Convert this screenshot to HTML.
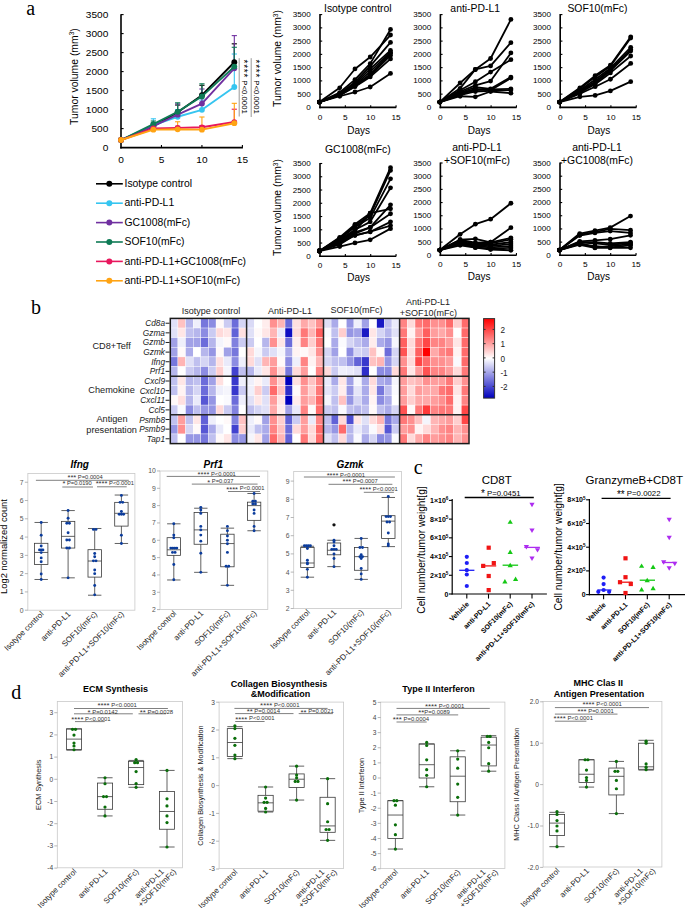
<!DOCTYPE html>
<html><head><meta charset="utf-8"><title>Figure</title>
<style>
html,body{margin:0;padding:0;background:#fff;width:685px;height:908px;overflow:hidden;}
svg{display:block;font-family:"Liberation Sans", sans-serif;}
</style></head><body>
<svg width="685" height="908" viewBox="0 0 685 908">
<rect x="0" y="0" width="685" height="908" fill="#fff"/>
<text x="26.2" y="15.4" font-size="20" font-family='"Liberation Serif", serif'>a</text>
<text x="31" y="313.7" font-size="20" font-family='"Liberation Serif", serif'>b</text>
<text x="413.8" y="473.6" font-size="20" font-family='"Liberation Serif", serif'>c</text>
<text x="11.3" y="698.9" font-size="20" font-family='"Liberation Serif", serif'>d</text>
<text transform="translate(77.8,76.6) rotate(-90)" font-size="10.4" text-anchor="middle">Tumor volume (mm<tspan font-size="6.5" dy="-3.5">3</tspan><tspan dy="3.5">)</tspan></text>
<text transform="translate(108.3,150.58) scale(1.11,1)" font-size="9.1" text-anchor="end">0</text>
<text transform="translate(108.3,131.58) scale(1.11,1)" font-size="9.1" text-anchor="end">500</text>
<line x1="121" y1="128.6" x2="123.6" y2="128.6" stroke="#000" stroke-width="1.1"/>
<text transform="translate(108.3,112.58) scale(1.11,1)" font-size="9.1" text-anchor="end">1000</text>
<line x1="121" y1="109.6" x2="123.6" y2="109.6" stroke="#000" stroke-width="1.1"/>
<text transform="translate(108.3,93.58) scale(1.11,1)" font-size="9.1" text-anchor="end">1500</text>
<line x1="121" y1="90.6" x2="123.6" y2="90.6" stroke="#000" stroke-width="1.1"/>
<text transform="translate(108.3,74.58) scale(1.11,1)" font-size="9.1" text-anchor="end">2000</text>
<line x1="121" y1="71.6" x2="123.6" y2="71.6" stroke="#000" stroke-width="1.1"/>
<text transform="translate(108.3,55.58) scale(1.11,1)" font-size="9.1" text-anchor="end">2500</text>
<line x1="121" y1="52.6" x2="123.6" y2="52.6" stroke="#000" stroke-width="1.1"/>
<text transform="translate(108.3,36.58) scale(1.11,1)" font-size="9.1" text-anchor="end">3000</text>
<line x1="121" y1="33.6" x2="123.6" y2="33.6" stroke="#000" stroke-width="1.1"/>
<text transform="translate(108.3,17.58) scale(1.11,1)" font-size="9.1" text-anchor="end">3500</text>
<line x1="121" y1="14.6" x2="123.6" y2="14.6" stroke="#000" stroke-width="1.1"/>
<text transform="translate(121,163.48) scale(1.11,1)" font-size="9.1" text-anchor="middle">0</text>
<text transform="translate(161.47,163.48) scale(1.11,1)" font-size="9.1" text-anchor="middle">5</text>
<line x1="161.47" y1="147.6" x2="161.47" y2="145" stroke="#000" stroke-width="1.1"/>
<text transform="translate(201.93,163.48) scale(1.11,1)" font-size="9.1" text-anchor="middle">10</text>
<line x1="201.93" y1="147.6" x2="201.93" y2="145" stroke="#000" stroke-width="1.1"/>
<text transform="translate(242.4,163.48) scale(1.11,1)" font-size="9.1" text-anchor="middle">15</text>
<line x1="242.4" y1="147.6" x2="242.4" y2="145" stroke="#000" stroke-width="1.1"/>
<line x1="121" y1="14.2" x2="121" y2="148.4" stroke="#000" stroke-width="1.6"/>
<line x1="120.2" y1="147.6" x2="242.9" y2="147.6" stroke="#000" stroke-width="1.6"/>
<line x1="153.37" y1="126.32" x2="153.37" y2="124.04" stroke="#000000" stroke-width="1.1"/>
<line x1="150.77" y1="124.04" x2="155.97" y2="124.04" stroke="#000000" stroke-width="1.1"/>
<line x1="177.65" y1="112.26" x2="177.65" y2="105.04" stroke="#000000" stroke-width="1.1"/>
<line x1="175.05" y1="105.04" x2="180.25" y2="105.04" stroke="#000000" stroke-width="1.1"/>
<line x1="201.93" y1="95.16" x2="201.93" y2="85.28" stroke="#000000" stroke-width="1.1"/>
<line x1="199.33" y1="85.28" x2="204.53" y2="85.28" stroke="#000000" stroke-width="1.1"/>
<line x1="234.31" y1="62.21" x2="234.31" y2="43.82" stroke="#000000" stroke-width="1.1"/>
<line x1="231.71" y1="43.82" x2="236.91" y2="43.82" stroke="#000000" stroke-width="1.1"/>
<line x1="153.37" y1="125.18" x2="153.37" y2="118.8" stroke="#36c5f0" stroke-width="1.1"/>
<line x1="150.77" y1="118.8" x2="155.97" y2="118.8" stroke="#36c5f0" stroke-width="1.1"/>
<line x1="177.65" y1="116.78" x2="177.65" y2="109.6" stroke="#36c5f0" stroke-width="1.1"/>
<line x1="175.05" y1="109.6" x2="180.25" y2="109.6" stroke="#36c5f0" stroke-width="1.1"/>
<line x1="201.93" y1="109.79" x2="201.93" y2="100.1" stroke="#36c5f0" stroke-width="1.1"/>
<line x1="199.33" y1="100.1" x2="204.53" y2="100.1" stroke="#36c5f0" stroke-width="1.1"/>
<line x1="234.31" y1="86.99" x2="234.31" y2="54.01" stroke="#36c5f0" stroke-width="1.1"/>
<line x1="231.71" y1="54.01" x2="236.91" y2="54.01" stroke="#36c5f0" stroke-width="1.1"/>
<line x1="153.37" y1="126.02" x2="153.37" y2="122.9" stroke="#7030a0" stroke-width="1.1"/>
<line x1="150.77" y1="122.9" x2="155.97" y2="122.9" stroke="#7030a0" stroke-width="1.1"/>
<line x1="177.65" y1="114.69" x2="177.65" y2="103.9" stroke="#7030a0" stroke-width="1.1"/>
<line x1="175.05" y1="103.9" x2="180.25" y2="103.9" stroke="#7030a0" stroke-width="1.1"/>
<line x1="201.93" y1="103.6" x2="201.93" y2="89" stroke="#7030a0" stroke-width="1.1"/>
<line x1="199.33" y1="89" x2="204.53" y2="89" stroke="#7030a0" stroke-width="1.1"/>
<line x1="234.31" y1="68.29" x2="234.31" y2="35.61" stroke="#7030a0" stroke-width="1.1"/>
<line x1="231.71" y1="35.61" x2="236.91" y2="35.61" stroke="#7030a0" stroke-width="1.1"/>
<line x1="153.37" y1="124.04" x2="153.37" y2="121" stroke="#0f7b56" stroke-width="1.1"/>
<line x1="150.77" y1="121" x2="155.97" y2="121" stroke="#0f7b56" stroke-width="1.1"/>
<line x1="177.65" y1="111.8" x2="177.65" y2="102.8" stroke="#0f7b56" stroke-width="1.1"/>
<line x1="175.05" y1="102.8" x2="180.25" y2="102.8" stroke="#0f7b56" stroke-width="1.1"/>
<line x1="201.93" y1="96.41" x2="201.93" y2="83.8" stroke="#0f7b56" stroke-width="1.1"/>
<line x1="199.33" y1="83.8" x2="204.53" y2="83.8" stroke="#0f7b56" stroke-width="1.1"/>
<line x1="234.31" y1="66.58" x2="234.31" y2="47.28" stroke="#0f7b56" stroke-width="1.1"/>
<line x1="231.71" y1="47.28" x2="236.91" y2="47.28" stroke="#0f7b56" stroke-width="1.1"/>
<line x1="153.37" y1="128.49" x2="153.37" y2="124.8" stroke="#e8175d" stroke-width="1.1"/>
<line x1="150.77" y1="124.8" x2="155.97" y2="124.8" stroke="#e8175d" stroke-width="1.1"/>
<line x1="177.65" y1="127.88" x2="177.65" y2="126.32" stroke="#e8175d" stroke-width="1.1"/>
<line x1="175.05" y1="126.32" x2="180.25" y2="126.32" stroke="#e8175d" stroke-width="1.1"/>
<line x1="201.93" y1="127.31" x2="201.93" y2="125.56" stroke="#e8175d" stroke-width="1.1"/>
<line x1="199.33" y1="125.56" x2="204.53" y2="125.56" stroke="#e8175d" stroke-width="1.1"/>
<line x1="234.31" y1="122.03" x2="234.31" y2="109.22" stroke="#e8175d" stroke-width="1.1"/>
<line x1="231.71" y1="109.22" x2="236.91" y2="109.22" stroke="#e8175d" stroke-width="1.1"/>
<line x1="153.37" y1="129.63" x2="153.37" y2="126.32" stroke="#ffa313" stroke-width="1.1"/>
<line x1="150.77" y1="126.32" x2="155.97" y2="126.32" stroke="#ffa313" stroke-width="1.1"/>
<line x1="177.65" y1="129.32" x2="177.65" y2="121.76" stroke="#ffa313" stroke-width="1.1"/>
<line x1="175.05" y1="121.76" x2="180.25" y2="121.76" stroke="#ffa313" stroke-width="1.1"/>
<line x1="201.93" y1="129.63" x2="201.93" y2="117.01" stroke="#ffa313" stroke-width="1.1"/>
<line x1="199.33" y1="117.01" x2="204.53" y2="117.01" stroke="#ffa313" stroke-width="1.1"/>
<line x1="234.31" y1="123.2" x2="234.31" y2="103.33" stroke="#ffa313" stroke-width="1.1"/>
<line x1="231.71" y1="103.33" x2="236.91" y2="103.33" stroke="#ffa313" stroke-width="1.1"/>
<polyline points="121,140 153.37,126.32 177.65,112.26 201.93,95.16 234.31,62.21" fill="none" stroke="#000000" stroke-width="1.9" stroke-linejoin="round"/>
<circle cx="121" cy="140" r="2.9" fill="#000000"/>
<circle cx="153.37" cy="126.32" r="2.9" fill="#000000"/>
<circle cx="177.65" cy="112.26" r="2.9" fill="#000000"/>
<circle cx="201.93" cy="95.16" r="2.9" fill="#000000"/>
<circle cx="234.31" cy="62.21" r="2.9" fill="#000000"/>
<polyline points="121,140 153.37,125.18 177.65,116.78 201.93,109.79 234.31,86.99" fill="none" stroke="#36c5f0" stroke-width="1.9" stroke-linejoin="round"/>
<circle cx="121" cy="140" r="2.9" fill="#36c5f0"/>
<circle cx="153.37" cy="125.18" r="2.9" fill="#36c5f0"/>
<circle cx="177.65" cy="116.78" r="2.9" fill="#36c5f0"/>
<circle cx="201.93" cy="109.79" r="2.9" fill="#36c5f0"/>
<circle cx="234.31" cy="86.99" r="2.9" fill="#36c5f0"/>
<polyline points="121,140 153.37,126.02 177.65,114.69 201.93,103.6 234.31,68.29" fill="none" stroke="#7030a0" stroke-width="1.9" stroke-linejoin="round"/>
<circle cx="121" cy="140" r="2.9" fill="#7030a0"/>
<circle cx="153.37" cy="126.02" r="2.9" fill="#7030a0"/>
<circle cx="177.65" cy="114.69" r="2.9" fill="#7030a0"/>
<circle cx="201.93" cy="103.6" r="2.9" fill="#7030a0"/>
<circle cx="234.31" cy="68.29" r="2.9" fill="#7030a0"/>
<polyline points="121,140 153.37,124.04 177.65,111.8 201.93,96.41 234.31,66.58" fill="none" stroke="#0f7b56" stroke-width="1.9" stroke-linejoin="round"/>
<circle cx="121" cy="140" r="2.9" fill="#0f7b56"/>
<circle cx="153.37" cy="124.04" r="2.9" fill="#0f7b56"/>
<circle cx="177.65" cy="111.8" r="2.9" fill="#0f7b56"/>
<circle cx="201.93" cy="96.41" r="2.9" fill="#0f7b56"/>
<circle cx="234.31" cy="66.58" r="2.9" fill="#0f7b56"/>
<polyline points="121,140 153.37,128.49 177.65,127.88 201.93,127.31 234.31,122.03" fill="none" stroke="#e8175d" stroke-width="1.9" stroke-linejoin="round"/>
<circle cx="121" cy="140" r="2.9" fill="#e8175d"/>
<circle cx="153.37" cy="128.49" r="2.9" fill="#e8175d"/>
<circle cx="177.65" cy="127.88" r="2.9" fill="#e8175d"/>
<circle cx="201.93" cy="127.31" r="2.9" fill="#e8175d"/>
<circle cx="234.31" cy="122.03" r="2.9" fill="#e8175d"/>
<polyline points="121,140 153.37,129.63 177.65,129.32 201.93,129.63 234.31,123.2" fill="none" stroke="#ffa313" stroke-width="1.9" stroke-linejoin="round"/>
<circle cx="121" cy="140" r="2.9" fill="#ffa313"/>
<circle cx="153.37" cy="129.63" r="2.9" fill="#ffa313"/>
<circle cx="177.65" cy="129.32" r="2.9" fill="#ffa313"/>
<circle cx="201.93" cy="129.63" r="2.9" fill="#ffa313"/>
<circle cx="234.31" cy="123.2" r="2.9" fill="#ffa313"/>
<line x1="239.2" y1="58.2" x2="239.2" y2="116.5" stroke="#8c8c8c" stroke-width="0.9"/>
<line x1="251.2" y1="58.2" x2="251.2" y2="117" stroke="#8c8c8c" stroke-width="0.9"/>
<text transform="translate(240.4,59.6) rotate(90)" font-size="10" letter-spacing="0.72">****</text>
<text transform="translate(252.2,59.6) rotate(90)" font-size="10" letter-spacing="0.72">****</text>
<text transform="translate(242.3,80.2) rotate(90)" font-size="7.8">P&lt;0.0001</text>
<text transform="translate(253.5,80.2) rotate(90)" font-size="7.8">P&lt;0.0001</text>
<line x1="96" y1="183.8" x2="122.8" y2="183.8" stroke="#000000" stroke-width="1.6"/>
<circle cx="109.3" cy="183.8" r="3" fill="#000000"/>
<text x="124.5" y="186.94" font-size="10.4">Isotype control</text>
<line x1="96" y1="203.2" x2="122.8" y2="203.2" stroke="#36c5f0" stroke-width="1.6"/>
<circle cx="109.3" cy="203.2" r="3" fill="#36c5f0"/>
<text x="124.5" y="206.34" font-size="10.4">anti-PD-L1</text>
<line x1="96" y1="222.6" x2="122.8" y2="222.6" stroke="#7030a0" stroke-width="1.6"/>
<circle cx="109.3" cy="222.6" r="3" fill="#7030a0"/>
<text x="124.5" y="225.74" font-size="10.4">GC1008(mFc)</text>
<line x1="96" y1="242" x2="122.8" y2="242" stroke="#0f7b56" stroke-width="1.6"/>
<circle cx="109.3" cy="242" r="3" fill="#0f7b56"/>
<text x="124.5" y="245.14" font-size="10.4">SOF10(mFc)</text>
<line x1="96" y1="261.4" x2="122.8" y2="261.4" stroke="#e8175d" stroke-width="1.6"/>
<circle cx="109.3" cy="261.4" r="3" fill="#e8175d"/>
<text x="124.5" y="264.54" font-size="10.4">anti-PD-L1+GC1008(mFc)</text>
<line x1="96" y1="280.8" x2="122.8" y2="280.8" stroke="#ffa313" stroke-width="1.6"/>
<circle cx="109.3" cy="280.8" r="3" fill="#ffa313"/>
<text x="124.5" y="283.94" font-size="10.4">anti-PD-L1+SOF10(mFc)</text>
<text x="357.8" y="12.34" font-size="10.4" text-anchor="middle">Isotype control</text>
<text transform="translate(310.8,109.92) scale(1.16,1)" font-size="7" text-anchor="end">0</text>
<text transform="translate(310.8,96.66) scale(1.16,1)" font-size="7" text-anchor="end">500</text>
<line x1="320" y1="94.14" x2="322.2" y2="94.14" stroke="#000" stroke-width="1.1"/>
<text transform="translate(310.8,83.41) scale(1.16,1)" font-size="7" text-anchor="end">1000</text>
<line x1="320" y1="80.89" x2="322.2" y2="80.89" stroke="#000" stroke-width="1.1"/>
<text transform="translate(310.8,70.15) scale(1.16,1)" font-size="7" text-anchor="end">1500</text>
<line x1="320" y1="67.63" x2="322.2" y2="67.63" stroke="#000" stroke-width="1.1"/>
<text transform="translate(310.8,56.89) scale(1.16,1)" font-size="7" text-anchor="end">2000</text>
<line x1="320" y1="54.37" x2="322.2" y2="54.37" stroke="#000" stroke-width="1.1"/>
<text transform="translate(310.8,43.63) scale(1.16,1)" font-size="7" text-anchor="end">2500</text>
<line x1="320" y1="41.11" x2="322.2" y2="41.11" stroke="#000" stroke-width="1.1"/>
<text transform="translate(310.8,30.38) scale(1.16,1)" font-size="7" text-anchor="end">3000</text>
<line x1="320" y1="27.86" x2="322.2" y2="27.86" stroke="#000" stroke-width="1.1"/>
<text transform="translate(310.8,17.12) scale(1.16,1)" font-size="7" text-anchor="end">3500</text>
<line x1="320" y1="14.6" x2="322.2" y2="14.6" stroke="#000" stroke-width="1.1"/>
<text transform="translate(320,119.66) scale(1.12,1)" font-size="7.4" text-anchor="middle">0</text>
<text transform="translate(345.35,119.66) scale(1.12,1)" font-size="7.4" text-anchor="middle">5</text>
<line x1="345.35" y1="107.4" x2="345.35" y2="105.2" stroke="#000" stroke-width="1.1"/>
<text transform="translate(370.7,119.66) scale(1.12,1)" font-size="7.4" text-anchor="middle">10</text>
<line x1="370.7" y1="107.4" x2="370.7" y2="105.2" stroke="#000" stroke-width="1.1"/>
<text transform="translate(396.05,119.66) scale(1.12,1)" font-size="7.4" text-anchor="middle">15</text>
<line x1="396.05" y1="107.4" x2="396.05" y2="105.2" stroke="#000" stroke-width="1.1"/>
<line x1="320" y1="14.1" x2="320" y2="108.2" stroke="#000" stroke-width="1.6"/>
<line x1="319.2" y1="107.4" x2="396.2" y2="107.4" stroke="#000" stroke-width="1.6"/>
<text x="358.7" y="133.8" font-size="10" text-anchor="middle">Days</text>
<polyline points="319.4,102.1 339.72,87.78 354.96,68.95 370.2,57.02 390.52,35.02" fill="none" stroke="#000" stroke-width="1.8" stroke-linejoin="round"/>
<circle cx="319.4" cy="102.1" r="2.4" fill="#000"/>
<circle cx="339.72" cy="87.78" r="2.4" fill="#000"/>
<circle cx="354.96" cy="68.95" r="2.4" fill="#000"/>
<circle cx="370.2" cy="57.02" r="2.4" fill="#000"/>
<circle cx="390.52" cy="35.02" r="2.4" fill="#000"/>
<polyline points="319.4,102.1 339.72,92.55 354.96,79.56 370.2,63.65 390.52,29.45" fill="none" stroke="#000" stroke-width="1.8" stroke-linejoin="round"/>
<circle cx="319.4" cy="102.1" r="2.4" fill="#000"/>
<circle cx="339.72" cy="92.55" r="2.4" fill="#000"/>
<circle cx="354.96" cy="79.56" r="2.4" fill="#000"/>
<circle cx="370.2" cy="63.65" r="2.4" fill="#000"/>
<circle cx="390.52" cy="29.45" r="2.4" fill="#000"/>
<polyline points="319.4,102.1 339.72,93.61 354.96,82.21 370.2,66.04 390.52,42.44" fill="none" stroke="#000" stroke-width="1.8" stroke-linejoin="round"/>
<circle cx="319.4" cy="102.1" r="2.4" fill="#000"/>
<circle cx="339.72" cy="93.61" r="2.4" fill="#000"/>
<circle cx="354.96" cy="82.21" r="2.4" fill="#000"/>
<circle cx="370.2" cy="66.04" r="2.4" fill="#000"/>
<circle cx="390.52" cy="42.44" r="2.4" fill="#000"/>
<polyline points="319.4,102.1 339.72,94.14 354.96,83.54 370.2,68.95 390.52,50.39" fill="none" stroke="#000" stroke-width="1.8" stroke-linejoin="round"/>
<circle cx="319.4" cy="102.1" r="2.4" fill="#000"/>
<circle cx="339.72" cy="94.14" r="2.4" fill="#000"/>
<circle cx="354.96" cy="83.54" r="2.4" fill="#000"/>
<circle cx="370.2" cy="68.95" r="2.4" fill="#000"/>
<circle cx="390.52" cy="50.39" r="2.4" fill="#000"/>
<polyline points="319.4,102.1 339.72,94.67 354.96,84.86 370.2,71.61 390.52,52.25" fill="none" stroke="#000" stroke-width="1.8" stroke-linejoin="round"/>
<circle cx="319.4" cy="102.1" r="2.4" fill="#000"/>
<circle cx="339.72" cy="94.67" r="2.4" fill="#000"/>
<circle cx="354.96" cy="84.86" r="2.4" fill="#000"/>
<circle cx="370.2" cy="71.61" r="2.4" fill="#000"/>
<circle cx="390.52" cy="52.25" r="2.4" fill="#000"/>
<polyline points="319.4,102.1 339.72,94.94 354.96,85.66 370.2,74.26 390.52,53.58" fill="none" stroke="#000" stroke-width="1.8" stroke-linejoin="round"/>
<circle cx="319.4" cy="102.1" r="2.4" fill="#000"/>
<circle cx="339.72" cy="94.94" r="2.4" fill="#000"/>
<circle cx="354.96" cy="85.66" r="2.4" fill="#000"/>
<circle cx="370.2" cy="74.26" r="2.4" fill="#000"/>
<circle cx="390.52" cy="53.58" r="2.4" fill="#000"/>
<polyline points="319.4,102.1 339.72,95.2 354.96,86.19 370.2,75.58 390.52,55.43" fill="none" stroke="#000" stroke-width="1.8" stroke-linejoin="round"/>
<circle cx="319.4" cy="102.1" r="2.4" fill="#000"/>
<circle cx="339.72" cy="95.2" r="2.4" fill="#000"/>
<circle cx="354.96" cy="86.19" r="2.4" fill="#000"/>
<circle cx="370.2" cy="75.58" r="2.4" fill="#000"/>
<circle cx="390.52" cy="55.43" r="2.4" fill="#000"/>
<polyline points="319.4,102.1 339.72,95.47 354.96,86.72 370.2,76.91 390.52,58.88" fill="none" stroke="#000" stroke-width="1.8" stroke-linejoin="round"/>
<circle cx="319.4" cy="102.1" r="2.4" fill="#000"/>
<circle cx="339.72" cy="95.47" r="2.4" fill="#000"/>
<circle cx="354.96" cy="86.72" r="2.4" fill="#000"/>
<circle cx="370.2" cy="76.91" r="2.4" fill="#000"/>
<circle cx="390.52" cy="58.88" r="2.4" fill="#000"/>
<polyline points="319.4,102.1 339.72,96.26 354.96,92.02 370.2,86.98 390.52,73.46" fill="none" stroke="#000" stroke-width="1.8" stroke-linejoin="round"/>
<circle cx="319.4" cy="102.1" r="2.4" fill="#000"/>
<circle cx="339.72" cy="96.26" r="2.4" fill="#000"/>
<circle cx="354.96" cy="92.02" r="2.4" fill="#000"/>
<circle cx="370.2" cy="86.98" r="2.4" fill="#000"/>
<circle cx="390.52" cy="73.46" r="2.4" fill="#000"/>
<text x="475.2" y="12.34" font-size="10.4" text-anchor="middle">anti-PD-L1</text>
<text transform="translate(431.2,109.92) scale(1.16,1)" font-size="7" text-anchor="end">0</text>
<text transform="translate(431.2,96.66) scale(1.16,1)" font-size="7" text-anchor="end">500</text>
<line x1="440.4" y1="94.14" x2="442.6" y2="94.14" stroke="#000" stroke-width="1.1"/>
<text transform="translate(431.2,83.41) scale(1.16,1)" font-size="7" text-anchor="end">1000</text>
<line x1="440.4" y1="80.89" x2="442.6" y2="80.89" stroke="#000" stroke-width="1.1"/>
<text transform="translate(431.2,70.15) scale(1.16,1)" font-size="7" text-anchor="end">1500</text>
<line x1="440.4" y1="67.63" x2="442.6" y2="67.63" stroke="#000" stroke-width="1.1"/>
<text transform="translate(431.2,56.89) scale(1.16,1)" font-size="7" text-anchor="end">2000</text>
<line x1="440.4" y1="54.37" x2="442.6" y2="54.37" stroke="#000" stroke-width="1.1"/>
<text transform="translate(431.2,43.63) scale(1.16,1)" font-size="7" text-anchor="end">2500</text>
<line x1="440.4" y1="41.11" x2="442.6" y2="41.11" stroke="#000" stroke-width="1.1"/>
<text transform="translate(431.2,30.38) scale(1.16,1)" font-size="7" text-anchor="end">3000</text>
<line x1="440.4" y1="27.86" x2="442.6" y2="27.86" stroke="#000" stroke-width="1.1"/>
<text transform="translate(431.2,17.12) scale(1.16,1)" font-size="7" text-anchor="end">3500</text>
<line x1="440.4" y1="14.6" x2="442.6" y2="14.6" stroke="#000" stroke-width="1.1"/>
<text transform="translate(440.4,119.66) scale(1.12,1)" font-size="7.4" text-anchor="middle">0</text>
<text transform="translate(465.75,119.66) scale(1.12,1)" font-size="7.4" text-anchor="middle">5</text>
<line x1="465.75" y1="107.4" x2="465.75" y2="105.2" stroke="#000" stroke-width="1.1"/>
<text transform="translate(491.1,119.66) scale(1.12,1)" font-size="7.4" text-anchor="middle">10</text>
<line x1="491.1" y1="107.4" x2="491.1" y2="105.2" stroke="#000" stroke-width="1.1"/>
<text transform="translate(516.45,119.66) scale(1.12,1)" font-size="7.4" text-anchor="middle">15</text>
<line x1="516.45" y1="107.4" x2="516.45" y2="105.2" stroke="#000" stroke-width="1.1"/>
<line x1="440.4" y1="14.1" x2="440.4" y2="108.2" stroke="#000" stroke-width="1.6"/>
<line x1="439.6" y1="107.4" x2="516.6" y2="107.4" stroke="#000" stroke-width="1.6"/>
<text x="479.1" y="133.8" font-size="10" text-anchor="middle">Days</text>
<polyline points="439.8,102.1 460.12,83.01 475.36,69.48 490.6,58.48 510.92,19.45" fill="none" stroke="#000" stroke-width="1.8" stroke-linejoin="round"/>
<circle cx="439.8" cy="102.1" r="2.4" fill="#000"/>
<circle cx="460.12" cy="83.01" r="2.4" fill="#000"/>
<circle cx="475.36" cy="69.48" r="2.4" fill="#000"/>
<circle cx="490.6" cy="58.48" r="2.4" fill="#000"/>
<circle cx="510.92" cy="19.45" r="2.4" fill="#000"/>
<polyline points="439.8,102.1 460.12,88.31 475.36,69.48 490.6,65.88 510.92,42.63" fill="none" stroke="#000" stroke-width="1.8" stroke-linejoin="round"/>
<circle cx="439.8" cy="102.1" r="2.4" fill="#000"/>
<circle cx="460.12" cy="88.31" r="2.4" fill="#000"/>
<circle cx="475.36" cy="69.48" r="2.4" fill="#000"/>
<circle cx="490.6" cy="65.88" r="2.4" fill="#000"/>
<circle cx="510.92" cy="42.63" r="2.4" fill="#000"/>
<polyline points="439.8,102.1 460.12,90.17 475.36,81.68 490.6,72.06 510.92,59.67" fill="none" stroke="#000" stroke-width="1.8" stroke-linejoin="round"/>
<circle cx="439.8" cy="102.1" r="2.4" fill="#000"/>
<circle cx="460.12" cy="90.17" r="2.4" fill="#000"/>
<circle cx="475.36" cy="81.68" r="2.4" fill="#000"/>
<circle cx="490.6" cy="72.06" r="2.4" fill="#000"/>
<circle cx="510.92" cy="59.67" r="2.4" fill="#000"/>
<polyline points="439.8,102.1 460.12,91.49 475.36,85.39 490.6,81.04 510.92,52.89" fill="none" stroke="#000" stroke-width="1.8" stroke-linejoin="round"/>
<circle cx="439.8" cy="102.1" r="2.4" fill="#000"/>
<circle cx="460.12" cy="91.49" r="2.4" fill="#000"/>
<circle cx="475.36" cy="85.39" r="2.4" fill="#000"/>
<circle cx="490.6" cy="81.04" r="2.4" fill="#000"/>
<circle cx="510.92" cy="52.89" r="2.4" fill="#000"/>
<polyline points="439.8,102.1 460.12,92.55 475.36,87.25 490.6,88.84 510.92,77.04" fill="none" stroke="#000" stroke-width="1.8" stroke-linejoin="round"/>
<circle cx="439.8" cy="102.1" r="2.4" fill="#000"/>
<circle cx="460.12" cy="92.55" r="2.4" fill="#000"/>
<circle cx="475.36" cy="87.25" r="2.4" fill="#000"/>
<circle cx="490.6" cy="88.84" r="2.4" fill="#000"/>
<circle cx="510.92" cy="77.04" r="2.4" fill="#000"/>
<polyline points="439.8,102.1 460.12,93.61 475.36,88.84 490.6,90.17 510.92,78.05" fill="none" stroke="#000" stroke-width="1.8" stroke-linejoin="round"/>
<circle cx="439.8" cy="102.1" r="2.4" fill="#000"/>
<circle cx="460.12" cy="93.61" r="2.4" fill="#000"/>
<circle cx="475.36" cy="88.84" r="2.4" fill="#000"/>
<circle cx="490.6" cy="90.17" r="2.4" fill="#000"/>
<circle cx="510.92" cy="78.05" r="2.4" fill="#000"/>
<polyline points="439.8,102.1 460.12,94.14 475.36,90.17 490.6,89.37 510.92,88.84" fill="none" stroke="#000" stroke-width="1.8" stroke-linejoin="round"/>
<circle cx="439.8" cy="102.1" r="2.4" fill="#000"/>
<circle cx="460.12" cy="94.14" r="2.4" fill="#000"/>
<circle cx="475.36" cy="90.17" r="2.4" fill="#000"/>
<circle cx="490.6" cy="89.37" r="2.4" fill="#000"/>
<circle cx="510.92" cy="88.84" r="2.4" fill="#000"/>
<polyline points="439.8,102.1 460.12,95.2 475.36,91.49 490.6,90.96 510.92,90.03" fill="none" stroke="#000" stroke-width="1.8" stroke-linejoin="round"/>
<circle cx="439.8" cy="102.1" r="2.4" fill="#000"/>
<circle cx="460.12" cy="95.2" r="2.4" fill="#000"/>
<circle cx="475.36" cy="91.49" r="2.4" fill="#000"/>
<circle cx="490.6" cy="90.96" r="2.4" fill="#000"/>
<circle cx="510.92" cy="90.03" r="2.4" fill="#000"/>
<polyline points="439.8,102.1 460.12,96.26 475.36,96.79 490.6,91.49 510.92,93.14" fill="none" stroke="#000" stroke-width="1.8" stroke-linejoin="round"/>
<circle cx="439.8" cy="102.1" r="2.4" fill="#000"/>
<circle cx="460.12" cy="96.26" r="2.4" fill="#000"/>
<circle cx="475.36" cy="96.79" r="2.4" fill="#000"/>
<circle cx="490.6" cy="91.49" r="2.4" fill="#000"/>
<circle cx="510.92" cy="93.14" r="2.4" fill="#000"/>
<text x="597.4" y="12.34" font-size="10.4" text-anchor="middle">SOF10(mFc)</text>
<text transform="translate(551,109.92) scale(1.16,1)" font-size="7" text-anchor="end">0</text>
<text transform="translate(551,96.66) scale(1.16,1)" font-size="7" text-anchor="end">500</text>
<line x1="560.2" y1="94.14" x2="562.4" y2="94.14" stroke="#000" stroke-width="1.1"/>
<text transform="translate(551,83.41) scale(1.16,1)" font-size="7" text-anchor="end">1000</text>
<line x1="560.2" y1="80.89" x2="562.4" y2="80.89" stroke="#000" stroke-width="1.1"/>
<text transform="translate(551,70.15) scale(1.16,1)" font-size="7" text-anchor="end">1500</text>
<line x1="560.2" y1="67.63" x2="562.4" y2="67.63" stroke="#000" stroke-width="1.1"/>
<text transform="translate(551,56.89) scale(1.16,1)" font-size="7" text-anchor="end">2000</text>
<line x1="560.2" y1="54.37" x2="562.4" y2="54.37" stroke="#000" stroke-width="1.1"/>
<text transform="translate(551,43.63) scale(1.16,1)" font-size="7" text-anchor="end">2500</text>
<line x1="560.2" y1="41.11" x2="562.4" y2="41.11" stroke="#000" stroke-width="1.1"/>
<text transform="translate(551,30.38) scale(1.16,1)" font-size="7" text-anchor="end">3000</text>
<line x1="560.2" y1="27.86" x2="562.4" y2="27.86" stroke="#000" stroke-width="1.1"/>
<text transform="translate(551,17.12) scale(1.16,1)" font-size="7" text-anchor="end">3500</text>
<line x1="560.2" y1="14.6" x2="562.4" y2="14.6" stroke="#000" stroke-width="1.1"/>
<text transform="translate(560.2,119.66) scale(1.12,1)" font-size="7.4" text-anchor="middle">0</text>
<text transform="translate(585.55,119.66) scale(1.12,1)" font-size="7.4" text-anchor="middle">5</text>
<line x1="585.55" y1="107.4" x2="585.55" y2="105.2" stroke="#000" stroke-width="1.1"/>
<text transform="translate(610.9,119.66) scale(1.12,1)" font-size="7.4" text-anchor="middle">10</text>
<line x1="610.9" y1="107.4" x2="610.9" y2="105.2" stroke="#000" stroke-width="1.1"/>
<text transform="translate(636.25,119.66) scale(1.12,1)" font-size="7.4" text-anchor="middle">15</text>
<line x1="636.25" y1="107.4" x2="636.25" y2="105.2" stroke="#000" stroke-width="1.1"/>
<line x1="560.2" y1="14.1" x2="560.2" y2="108.2" stroke="#000" stroke-width="1.6"/>
<line x1="559.4" y1="107.4" x2="636.4" y2="107.4" stroke="#000" stroke-width="1.6"/>
<text x="598.9" y="133.8" font-size="10" text-anchor="middle">Days</text>
<polyline points="559.6,102.1 579.92,87.78 595.16,75.58 610.4,65.24 630.72,36.82" fill="none" stroke="#000" stroke-width="1.8" stroke-linejoin="round"/>
<circle cx="559.6" cy="102.1" r="2.4" fill="#000"/>
<circle cx="579.92" cy="87.78" r="2.4" fill="#000"/>
<circle cx="595.16" cy="75.58" r="2.4" fill="#000"/>
<circle cx="610.4" cy="65.24" r="2.4" fill="#000"/>
<circle cx="630.72" cy="36.82" r="2.4" fill="#000"/>
<polyline points="559.6,102.1 579.92,88.84 595.16,76.91 610.4,66.3 630.72,38.01" fill="none" stroke="#000" stroke-width="1.8" stroke-linejoin="round"/>
<circle cx="559.6" cy="102.1" r="2.4" fill="#000"/>
<circle cx="579.92" cy="88.84" r="2.4" fill="#000"/>
<circle cx="595.16" cy="76.91" r="2.4" fill="#000"/>
<circle cx="610.4" cy="66.3" r="2.4" fill="#000"/>
<circle cx="630.72" cy="38.01" r="2.4" fill="#000"/>
<polyline points="559.6,102.1 579.92,90.17 595.16,79.56 610.4,68.16 630.72,47.29" fill="none" stroke="#000" stroke-width="1.8" stroke-linejoin="round"/>
<circle cx="559.6" cy="102.1" r="2.4" fill="#000"/>
<circle cx="579.92" cy="90.17" r="2.4" fill="#000"/>
<circle cx="595.16" cy="79.56" r="2.4" fill="#000"/>
<circle cx="610.4" cy="68.16" r="2.4" fill="#000"/>
<circle cx="630.72" cy="47.29" r="2.4" fill="#000"/>
<polyline points="559.6,102.1 579.92,90.96 595.16,81.42 610.4,69.75 630.72,49.6" fill="none" stroke="#000" stroke-width="1.8" stroke-linejoin="round"/>
<circle cx="559.6" cy="102.1" r="2.4" fill="#000"/>
<circle cx="579.92" cy="90.96" r="2.4" fill="#000"/>
<circle cx="595.16" cy="81.42" r="2.4" fill="#000"/>
<circle cx="610.4" cy="69.75" r="2.4" fill="#000"/>
<circle cx="630.72" cy="49.6" r="2.4" fill="#000"/>
<polyline points="559.6,102.1 579.92,92.02 595.16,83.01 610.4,70.81 630.72,51.08" fill="none" stroke="#000" stroke-width="1.8" stroke-linejoin="round"/>
<circle cx="559.6" cy="102.1" r="2.4" fill="#000"/>
<circle cx="579.92" cy="92.02" r="2.4" fill="#000"/>
<circle cx="595.16" cy="83.01" r="2.4" fill="#000"/>
<circle cx="610.4" cy="70.81" r="2.4" fill="#000"/>
<circle cx="630.72" cy="51.08" r="2.4" fill="#000"/>
<polyline points="559.6,102.1 579.92,92.55 595.16,84.33 610.4,72.93 630.72,55.99" fill="none" stroke="#000" stroke-width="1.8" stroke-linejoin="round"/>
<circle cx="559.6" cy="102.1" r="2.4" fill="#000"/>
<circle cx="579.92" cy="92.55" r="2.4" fill="#000"/>
<circle cx="595.16" cy="84.33" r="2.4" fill="#000"/>
<circle cx="610.4" cy="72.93" r="2.4" fill="#000"/>
<circle cx="630.72" cy="55.99" r="2.4" fill="#000"/>
<polyline points="559.6,102.1 579.92,93.61 595.16,86.72 610.4,79.24 630.72,63.47" fill="none" stroke="#000" stroke-width="1.8" stroke-linejoin="round"/>
<circle cx="559.6" cy="102.1" r="2.4" fill="#000"/>
<circle cx="579.92" cy="93.61" r="2.4" fill="#000"/>
<circle cx="595.16" cy="86.72" r="2.4" fill="#000"/>
<circle cx="610.4" cy="79.24" r="2.4" fill="#000"/>
<circle cx="630.72" cy="63.47" r="2.4" fill="#000"/>
<polyline points="559.6,102.1 579.92,96.79 595.16,95.42 610.4,90.93 630.72,81.65" fill="none" stroke="#000" stroke-width="1.8" stroke-linejoin="round"/>
<circle cx="559.6" cy="102.1" r="2.4" fill="#000"/>
<circle cx="579.92" cy="96.79" r="2.4" fill="#000"/>
<circle cx="595.16" cy="95.42" r="2.4" fill="#000"/>
<circle cx="610.4" cy="90.93" r="2.4" fill="#000"/>
<circle cx="630.72" cy="81.65" r="2.4" fill="#000"/>
<text x="357.8" y="153.14" font-size="10.4" text-anchor="middle">GC1008(mFc)</text>
<text transform="translate(310.8,258.82) scale(1.16,1)" font-size="7" text-anchor="end">0</text>
<text transform="translate(310.8,245.56) scale(1.16,1)" font-size="7" text-anchor="end">500</text>
<line x1="320" y1="243.04" x2="322.2" y2="243.04" stroke="#000" stroke-width="1.1"/>
<text transform="translate(310.8,232.31) scale(1.16,1)" font-size="7" text-anchor="end">1000</text>
<line x1="320" y1="229.79" x2="322.2" y2="229.79" stroke="#000" stroke-width="1.1"/>
<text transform="translate(310.8,219.05) scale(1.16,1)" font-size="7" text-anchor="end">1500</text>
<line x1="320" y1="216.53" x2="322.2" y2="216.53" stroke="#000" stroke-width="1.1"/>
<text transform="translate(310.8,205.79) scale(1.16,1)" font-size="7" text-anchor="end">2000</text>
<line x1="320" y1="203.27" x2="322.2" y2="203.27" stroke="#000" stroke-width="1.1"/>
<text transform="translate(310.8,192.53) scale(1.16,1)" font-size="7" text-anchor="end">2500</text>
<line x1="320" y1="190.01" x2="322.2" y2="190.01" stroke="#000" stroke-width="1.1"/>
<text transform="translate(310.8,179.28) scale(1.16,1)" font-size="7" text-anchor="end">3000</text>
<line x1="320" y1="176.76" x2="322.2" y2="176.76" stroke="#000" stroke-width="1.1"/>
<text transform="translate(310.8,166.02) scale(1.16,1)" font-size="7" text-anchor="end">3500</text>
<line x1="320" y1="163.5" x2="322.2" y2="163.5" stroke="#000" stroke-width="1.1"/>
<text transform="translate(320,268.16) scale(1.12,1)" font-size="7.4" text-anchor="middle">0</text>
<text transform="translate(345.35,268.16) scale(1.12,1)" font-size="7.4" text-anchor="middle">5</text>
<line x1="345.35" y1="256.3" x2="345.35" y2="254.1" stroke="#000" stroke-width="1.1"/>
<text transform="translate(370.7,268.16) scale(1.12,1)" font-size="7.4" text-anchor="middle">10</text>
<line x1="370.7" y1="256.3" x2="370.7" y2="254.1" stroke="#000" stroke-width="1.1"/>
<text transform="translate(396.05,268.16) scale(1.12,1)" font-size="7.4" text-anchor="middle">15</text>
<line x1="396.05" y1="256.3" x2="396.05" y2="254.1" stroke="#000" stroke-width="1.1"/>
<line x1="320" y1="163" x2="320" y2="257.1" stroke="#000" stroke-width="1.6"/>
<line x1="319.2" y1="256.3" x2="396.2" y2="256.3" stroke="#000" stroke-width="1.6"/>
<text x="358.7" y="280.6" font-size="10" text-anchor="middle">Days</text>
<polyline points="319.4,251 339.72,237.34 354.96,224.35 370.2,213.19 390.52,167.74" fill="none" stroke="#000" stroke-width="1.8" stroke-linejoin="round"/>
<circle cx="319.4" cy="251" r="2.4" fill="#000"/>
<circle cx="339.72" cy="237.34" r="2.4" fill="#000"/>
<circle cx="354.96" cy="224.35" r="2.4" fill="#000"/>
<circle cx="370.2" cy="213.19" r="2.4" fill="#000"/>
<circle cx="390.52" cy="167.74" r="2.4" fill="#000"/>
<polyline points="319.4,251 339.72,238.27 354.96,225.81 370.2,215.2 390.52,170.45" fill="none" stroke="#000" stroke-width="1.8" stroke-linejoin="round"/>
<circle cx="319.4" cy="251" r="2.4" fill="#000"/>
<circle cx="339.72" cy="238.27" r="2.4" fill="#000"/>
<circle cx="354.96" cy="225.81" r="2.4" fill="#000"/>
<circle cx="370.2" cy="215.2" r="2.4" fill="#000"/>
<circle cx="390.52" cy="170.45" r="2.4" fill="#000"/>
<polyline points="319.4,251 339.72,239.07 354.96,227.13 370.2,217.85 390.52,178.83" fill="none" stroke="#000" stroke-width="1.8" stroke-linejoin="round"/>
<circle cx="319.4" cy="251" r="2.4" fill="#000"/>
<circle cx="339.72" cy="239.07" r="2.4" fill="#000"/>
<circle cx="354.96" cy="227.13" r="2.4" fill="#000"/>
<circle cx="370.2" cy="217.85" r="2.4" fill="#000"/>
<circle cx="390.52" cy="178.83" r="2.4" fill="#000"/>
<polyline points="319.4,251 339.72,239.86 354.96,229.79 370.2,221.83 390.52,187.81" fill="none" stroke="#000" stroke-width="1.8" stroke-linejoin="round"/>
<circle cx="319.4" cy="251" r="2.4" fill="#000"/>
<circle cx="339.72" cy="239.86" r="2.4" fill="#000"/>
<circle cx="354.96" cy="229.79" r="2.4" fill="#000"/>
<circle cx="370.2" cy="221.83" r="2.4" fill="#000"/>
<circle cx="390.52" cy="187.81" r="2.4" fill="#000"/>
<polyline points="319.4,251 339.72,240.39 354.96,231.11 370.2,213.19 390.52,208.84" fill="none" stroke="#000" stroke-width="1.8" stroke-linejoin="round"/>
<circle cx="319.4" cy="251" r="2.4" fill="#000"/>
<circle cx="339.72" cy="240.39" r="2.4" fill="#000"/>
<circle cx="354.96" cy="231.11" r="2.4" fill="#000"/>
<circle cx="370.2" cy="213.19" r="2.4" fill="#000"/>
<circle cx="390.52" cy="208.84" r="2.4" fill="#000"/>
<polyline points="319.4,251 339.72,241.45 354.96,232.44 370.2,227.45 390.52,204.86" fill="none" stroke="#000" stroke-width="1.8" stroke-linejoin="round"/>
<circle cx="319.4" cy="251" r="2.4" fill="#000"/>
<circle cx="339.72" cy="241.45" r="2.4" fill="#000"/>
<circle cx="354.96" cy="232.44" r="2.4" fill="#000"/>
<circle cx="370.2" cy="227.45" r="2.4" fill="#000"/>
<circle cx="390.52" cy="204.86" r="2.4" fill="#000"/>
<polyline points="319.4,251 339.72,242.51 354.96,233.76 370.2,227.45 390.52,213.77" fill="none" stroke="#000" stroke-width="1.8" stroke-linejoin="round"/>
<circle cx="319.4" cy="251" r="2.4" fill="#000"/>
<circle cx="339.72" cy="242.51" r="2.4" fill="#000"/>
<circle cx="354.96" cy="233.76" r="2.4" fill="#000"/>
<circle cx="370.2" cy="227.45" r="2.4" fill="#000"/>
<circle cx="390.52" cy="213.77" r="2.4" fill="#000"/>
<polyline points="319.4,251 339.72,243.04 354.96,235.54 370.2,231.75 390.52,221.83" fill="none" stroke="#000" stroke-width="1.8" stroke-linejoin="round"/>
<circle cx="319.4" cy="251" r="2.4" fill="#000"/>
<circle cx="339.72" cy="243.04" r="2.4" fill="#000"/>
<circle cx="354.96" cy="235.54" r="2.4" fill="#000"/>
<circle cx="370.2" cy="231.75" r="2.4" fill="#000"/>
<circle cx="390.52" cy="221.83" r="2.4" fill="#000"/>
<polyline points="319.4,251 339.72,244.37 354.96,235.09 370.2,231.75 390.52,225.54" fill="none" stroke="#000" stroke-width="1.8" stroke-linejoin="round"/>
<circle cx="319.4" cy="251" r="2.4" fill="#000"/>
<circle cx="339.72" cy="244.37" r="2.4" fill="#000"/>
<circle cx="354.96" cy="235.09" r="2.4" fill="#000"/>
<circle cx="370.2" cy="231.75" r="2.4" fill="#000"/>
<circle cx="390.52" cy="225.54" r="2.4" fill="#000"/>
<polyline points="319.4,251 339.72,246.62 354.96,242.94 370.2,239.83 390.52,228.65" fill="none" stroke="#000" stroke-width="1.8" stroke-linejoin="round"/>
<circle cx="319.4" cy="251" r="2.4" fill="#000"/>
<circle cx="339.72" cy="246.62" r="2.4" fill="#000"/>
<circle cx="354.96" cy="242.94" r="2.4" fill="#000"/>
<circle cx="370.2" cy="239.83" r="2.4" fill="#000"/>
<circle cx="390.52" cy="228.65" r="2.4" fill="#000"/>
<text x="477" y="151.24" font-size="10.4" text-anchor="middle">anti-PD-L1</text>
<text x="477" y="163.64" font-size="10.4" text-anchor="middle">+SOF10(mFc)</text>
<text transform="translate(431.2,257.82) scale(1.16,1)" font-size="7" text-anchor="end">0</text>
<text transform="translate(431.2,244.63) scale(1.16,1)" font-size="7" text-anchor="end">500</text>
<line x1="440.4" y1="242.11" x2="442.6" y2="242.11" stroke="#000" stroke-width="1.1"/>
<text transform="translate(431.2,231.45) scale(1.16,1)" font-size="7" text-anchor="end">1000</text>
<line x1="440.4" y1="228.93" x2="442.6" y2="228.93" stroke="#000" stroke-width="1.1"/>
<text transform="translate(431.2,218.26) scale(1.16,1)" font-size="7" text-anchor="end">1500</text>
<line x1="440.4" y1="215.74" x2="442.6" y2="215.74" stroke="#000" stroke-width="1.1"/>
<text transform="translate(431.2,205.08) scale(1.16,1)" font-size="7" text-anchor="end">2000</text>
<line x1="440.4" y1="202.56" x2="442.6" y2="202.56" stroke="#000" stroke-width="1.1"/>
<text transform="translate(431.2,191.89) scale(1.16,1)" font-size="7" text-anchor="end">2500</text>
<line x1="440.4" y1="189.37" x2="442.6" y2="189.37" stroke="#000" stroke-width="1.1"/>
<text transform="translate(431.2,178.71) scale(1.16,1)" font-size="7" text-anchor="end">3000</text>
<line x1="440.4" y1="176.19" x2="442.6" y2="176.19" stroke="#000" stroke-width="1.1"/>
<text transform="translate(431.2,165.52) scale(1.16,1)" font-size="7" text-anchor="end">3500</text>
<line x1="440.4" y1="163" x2="442.6" y2="163" stroke="#000" stroke-width="1.1"/>
<text transform="translate(440.4,267.46) scale(1.12,1)" font-size="7.4" text-anchor="middle">0</text>
<text transform="translate(465.75,267.46) scale(1.12,1)" font-size="7.4" text-anchor="middle">5</text>
<line x1="465.75" y1="255.3" x2="465.75" y2="253.1" stroke="#000" stroke-width="1.1"/>
<text transform="translate(491.1,267.46) scale(1.12,1)" font-size="7.4" text-anchor="middle">10</text>
<line x1="491.1" y1="255.3" x2="491.1" y2="253.1" stroke="#000" stroke-width="1.1"/>
<text transform="translate(516.45,267.46) scale(1.12,1)" font-size="7.4" text-anchor="middle">15</text>
<line x1="516.45" y1="255.3" x2="516.45" y2="253.1" stroke="#000" stroke-width="1.1"/>
<line x1="440.4" y1="162.5" x2="440.4" y2="256.1" stroke="#000" stroke-width="1.6"/>
<line x1="439.6" y1="255.3" x2="516.6" y2="255.3" stroke="#000" stroke-width="1.6"/>
<text x="479.1" y="280.1" font-size="10" text-anchor="middle">Days</text>
<polyline points="439.8,250.03 460.12,234.33 475.36,224.21 490.6,219.2 510.92,203.27" fill="none" stroke="#000" stroke-width="1.8" stroke-linejoin="round"/>
<circle cx="439.8" cy="250.03" r="2.4" fill="#000"/>
<circle cx="460.12" cy="234.33" r="2.4" fill="#000"/>
<circle cx="475.36" cy="224.21" r="2.4" fill="#000"/>
<circle cx="490.6" cy="219.2" r="2.4" fill="#000"/>
<circle cx="510.92" cy="203.27" r="2.4" fill="#000"/>
<polyline points="439.8,250.03 460.12,239.77 475.36,242.64 490.6,242.27 510.92,227.64" fill="none" stroke="#000" stroke-width="1.8" stroke-linejoin="round"/>
<circle cx="439.8" cy="250.03" r="2.4" fill="#000"/>
<circle cx="460.12" cy="239.77" r="2.4" fill="#000"/>
<circle cx="475.36" cy="242.64" r="2.4" fill="#000"/>
<circle cx="490.6" cy="242.27" r="2.4" fill="#000"/>
<circle cx="510.92" cy="227.64" r="2.4" fill="#000"/>
<polyline points="439.8,250.03 460.12,239.77 475.36,238.84 490.6,242.27 510.92,237.87" fill="none" stroke="#000" stroke-width="1.8" stroke-linejoin="round"/>
<circle cx="439.8" cy="250.03" r="2.4" fill="#000"/>
<circle cx="460.12" cy="239.77" r="2.4" fill="#000"/>
<circle cx="475.36" cy="238.84" r="2.4" fill="#000"/>
<circle cx="490.6" cy="242.27" r="2.4" fill="#000"/>
<circle cx="510.92" cy="237.87" r="2.4" fill="#000"/>
<polyline points="439.8,250.03 460.12,240.53 475.36,243.43 490.6,243.43 510.92,239.48" fill="none" stroke="#000" stroke-width="1.8" stroke-linejoin="round"/>
<circle cx="439.8" cy="250.03" r="2.4" fill="#000"/>
<circle cx="460.12" cy="240.53" r="2.4" fill="#000"/>
<circle cx="475.36" cy="243.43" r="2.4" fill="#000"/>
<circle cx="490.6" cy="243.43" r="2.4" fill="#000"/>
<circle cx="510.92" cy="239.48" r="2.4" fill="#000"/>
<polyline points="439.8,250.03 460.12,241.59 475.36,244.75 490.6,244.75 510.92,242.11" fill="none" stroke="#000" stroke-width="1.8" stroke-linejoin="round"/>
<circle cx="439.8" cy="250.03" r="2.4" fill="#000"/>
<circle cx="460.12" cy="241.59" r="2.4" fill="#000"/>
<circle cx="475.36" cy="244.75" r="2.4" fill="#000"/>
<circle cx="490.6" cy="244.75" r="2.4" fill="#000"/>
<circle cx="510.92" cy="242.11" r="2.4" fill="#000"/>
<polyline points="439.8,250.03 460.12,242.64 475.36,245.28 490.6,246.07 510.92,243.96" fill="none" stroke="#000" stroke-width="1.8" stroke-linejoin="round"/>
<circle cx="439.8" cy="250.03" r="2.4" fill="#000"/>
<circle cx="460.12" cy="242.64" r="2.4" fill="#000"/>
<circle cx="475.36" cy="245.28" r="2.4" fill="#000"/>
<circle cx="490.6" cy="246.07" r="2.4" fill="#000"/>
<circle cx="510.92" cy="243.96" r="2.4" fill="#000"/>
<polyline points="439.8,250.03 460.12,243.43 475.36,246.07 490.6,247.39 510.92,246.07" fill="none" stroke="#000" stroke-width="1.8" stroke-linejoin="round"/>
<circle cx="439.8" cy="250.03" r="2.4" fill="#000"/>
<circle cx="460.12" cy="243.43" r="2.4" fill="#000"/>
<circle cx="475.36" cy="246.07" r="2.4" fill="#000"/>
<circle cx="490.6" cy="247.39" r="2.4" fill="#000"/>
<circle cx="510.92" cy="246.07" r="2.4" fill="#000"/>
<polyline points="439.8,250.03 460.12,244.22 475.36,247.39 490.6,248.71 510.92,247.92" fill="none" stroke="#000" stroke-width="1.8" stroke-linejoin="round"/>
<circle cx="439.8" cy="250.03" r="2.4" fill="#000"/>
<circle cx="460.12" cy="244.22" r="2.4" fill="#000"/>
<circle cx="475.36" cy="247.39" r="2.4" fill="#000"/>
<circle cx="490.6" cy="248.71" r="2.4" fill="#000"/>
<circle cx="510.92" cy="247.92" r="2.4" fill="#000"/>
<polyline points="439.8,250.03 460.12,245.28 475.36,247.65 490.6,249.5 510.92,250.29" fill="none" stroke="#000" stroke-width="1.8" stroke-linejoin="round"/>
<circle cx="439.8" cy="250.03" r="2.4" fill="#000"/>
<circle cx="460.12" cy="245.28" r="2.4" fill="#000"/>
<circle cx="475.36" cy="247.65" r="2.4" fill="#000"/>
<circle cx="490.6" cy="249.5" r="2.4" fill="#000"/>
<circle cx="510.92" cy="250.29" r="2.4" fill="#000"/>
<text x="597" y="151.04" font-size="10.4" text-anchor="middle">anti-PD-L1</text>
<text x="597" y="163.84" font-size="10.4" text-anchor="middle">+GC1008(mFc)</text>
<text transform="translate(550.8,257.82) scale(1.16,1)" font-size="7" text-anchor="end">0</text>
<text transform="translate(550.8,244.63) scale(1.16,1)" font-size="7" text-anchor="end">500</text>
<line x1="560" y1="242.11" x2="562.2" y2="242.11" stroke="#000" stroke-width="1.1"/>
<text transform="translate(550.8,231.45) scale(1.16,1)" font-size="7" text-anchor="end">1000</text>
<line x1="560" y1="228.93" x2="562.2" y2="228.93" stroke="#000" stroke-width="1.1"/>
<text transform="translate(550.8,218.26) scale(1.16,1)" font-size="7" text-anchor="end">1500</text>
<line x1="560" y1="215.74" x2="562.2" y2="215.74" stroke="#000" stroke-width="1.1"/>
<text transform="translate(550.8,205.08) scale(1.16,1)" font-size="7" text-anchor="end">2000</text>
<line x1="560" y1="202.56" x2="562.2" y2="202.56" stroke="#000" stroke-width="1.1"/>
<text transform="translate(550.8,191.89) scale(1.16,1)" font-size="7" text-anchor="end">2500</text>
<line x1="560" y1="189.37" x2="562.2" y2="189.37" stroke="#000" stroke-width="1.1"/>
<text transform="translate(550.8,178.71) scale(1.16,1)" font-size="7" text-anchor="end">3000</text>
<line x1="560" y1="176.19" x2="562.2" y2="176.19" stroke="#000" stroke-width="1.1"/>
<text transform="translate(550.8,165.52) scale(1.16,1)" font-size="7" text-anchor="end">3500</text>
<line x1="560" y1="163" x2="562.2" y2="163" stroke="#000" stroke-width="1.1"/>
<text transform="translate(560,267.46) scale(1.12,1)" font-size="7.4" text-anchor="middle">0</text>
<text transform="translate(585.35,267.46) scale(1.12,1)" font-size="7.4" text-anchor="middle">5</text>
<line x1="585.35" y1="255.3" x2="585.35" y2="253.1" stroke="#000" stroke-width="1.1"/>
<text transform="translate(610.7,267.46) scale(1.12,1)" font-size="7.4" text-anchor="middle">10</text>
<line x1="610.7" y1="255.3" x2="610.7" y2="253.1" stroke="#000" stroke-width="1.1"/>
<text transform="translate(636.05,267.46) scale(1.12,1)" font-size="7.4" text-anchor="middle">15</text>
<line x1="636.05" y1="255.3" x2="636.05" y2="253.1" stroke="#000" stroke-width="1.1"/>
<line x1="560" y1="162.5" x2="560" y2="256.1" stroke="#000" stroke-width="1.6"/>
<line x1="559.2" y1="255.3" x2="636.2" y2="255.3" stroke="#000" stroke-width="1.6"/>
<text x="598.7" y="280.1" font-size="10" text-anchor="middle">Days</text>
<polyline points="559.4,250.03 579.72,233.54 594.96,230.64 610.2,227.64 630.52,216.09" fill="none" stroke="#000" stroke-width="1.8" stroke-linejoin="round"/>
<circle cx="559.4" cy="250.03" r="2.4" fill="#000"/>
<circle cx="579.72" cy="233.54" r="2.4" fill="#000"/>
<circle cx="594.96" cy="230.64" r="2.4" fill="#000"/>
<circle cx="610.2" cy="227.64" r="2.4" fill="#000"/>
<circle cx="630.52" cy="216.09" r="2.4" fill="#000"/>
<polyline points="559.4,250.03 579.72,234.73 594.96,232.09 610.2,228.93 630.52,230.14" fill="none" stroke="#000" stroke-width="1.8" stroke-linejoin="round"/>
<circle cx="559.4" cy="250.03" r="2.4" fill="#000"/>
<circle cx="579.72" cy="234.73" r="2.4" fill="#000"/>
<circle cx="594.96" cy="232.09" r="2.4" fill="#000"/>
<circle cx="610.2" cy="228.93" r="2.4" fill="#000"/>
<circle cx="630.52" cy="230.14" r="2.4" fill="#000"/>
<polyline points="559.4,250.03 579.72,235.52 594.96,232.94 610.2,231.04 630.52,232.94" fill="none" stroke="#000" stroke-width="1.8" stroke-linejoin="round"/>
<circle cx="559.4" cy="250.03" r="2.4" fill="#000"/>
<circle cx="579.72" cy="235.52" r="2.4" fill="#000"/>
<circle cx="594.96" cy="232.94" r="2.4" fill="#000"/>
<circle cx="610.2" cy="231.04" r="2.4" fill="#000"/>
<circle cx="630.52" cy="232.94" r="2.4" fill="#000"/>
<polyline points="559.4,250.03 579.72,241.32 594.96,240.35 610.2,239.16 630.52,235.26" fill="none" stroke="#000" stroke-width="1.8" stroke-linejoin="round"/>
<circle cx="559.4" cy="250.03" r="2.4" fill="#000"/>
<circle cx="579.72" cy="241.32" r="2.4" fill="#000"/>
<circle cx="594.96" cy="240.35" r="2.4" fill="#000"/>
<circle cx="610.2" cy="239.16" r="2.4" fill="#000"/>
<circle cx="630.52" cy="235.26" r="2.4" fill="#000"/>
<polyline points="559.4,250.03 579.72,242.11 594.96,242.11 610.2,243.43 630.52,242.11" fill="none" stroke="#000" stroke-width="1.8" stroke-linejoin="round"/>
<circle cx="559.4" cy="250.03" r="2.4" fill="#000"/>
<circle cx="579.72" cy="242.11" r="2.4" fill="#000"/>
<circle cx="594.96" cy="242.11" r="2.4" fill="#000"/>
<circle cx="610.2" cy="243.43" r="2.4" fill="#000"/>
<circle cx="630.52" cy="242.11" r="2.4" fill="#000"/>
<polyline points="559.4,250.03 579.72,242.64 594.96,243.43 610.2,244.75 630.52,242.88" fill="none" stroke="#000" stroke-width="1.8" stroke-linejoin="round"/>
<circle cx="559.4" cy="250.03" r="2.4" fill="#000"/>
<circle cx="579.72" cy="242.64" r="2.4" fill="#000"/>
<circle cx="594.96" cy="243.43" r="2.4" fill="#000"/>
<circle cx="610.2" cy="244.75" r="2.4" fill="#000"/>
<circle cx="630.52" cy="242.88" r="2.4" fill="#000"/>
<polyline points="559.4,250.03 579.72,243.43 594.96,247.39 610.2,246.07 630.52,244.22" fill="none" stroke="#000" stroke-width="1.8" stroke-linejoin="round"/>
<circle cx="559.4" cy="250.03" r="2.4" fill="#000"/>
<circle cx="579.72" cy="243.43" r="2.4" fill="#000"/>
<circle cx="594.96" cy="247.39" r="2.4" fill="#000"/>
<circle cx="610.2" cy="246.07" r="2.4" fill="#000"/>
<circle cx="630.52" cy="244.22" r="2.4" fill="#000"/>
<polyline points="559.4,250.03 579.72,243.96 594.96,246.07 610.2,247.39 630.52,245.38" fill="none" stroke="#000" stroke-width="1.8" stroke-linejoin="round"/>
<circle cx="559.4" cy="250.03" r="2.4" fill="#000"/>
<circle cx="579.72" cy="243.96" r="2.4" fill="#000"/>
<circle cx="594.96" cy="246.07" r="2.4" fill="#000"/>
<circle cx="610.2" cy="247.39" r="2.4" fill="#000"/>
<circle cx="630.52" cy="245.38" r="2.4" fill="#000"/>
<polyline points="559.4,250.03 579.72,244.75 594.96,247.92 610.2,247.92 630.52,247.78" fill="none" stroke="#000" stroke-width="1.8" stroke-linejoin="round"/>
<circle cx="559.4" cy="250.03" r="2.4" fill="#000"/>
<circle cx="579.72" cy="244.75" r="2.4" fill="#000"/>
<circle cx="594.96" cy="247.92" r="2.4" fill="#000"/>
<circle cx="610.2" cy="247.92" r="2.4" fill="#000"/>
<circle cx="630.52" cy="247.78" r="2.4" fill="#000"/>
<text transform="translate(281,58.5) rotate(-90)" font-size="10.4" text-anchor="middle">Tumor volume (mm<tspan font-size="6.5" dy="-3.5">3</tspan><tspan dy="3.5">)</tspan></text>
<text transform="translate(281,207.5) rotate(-90)" font-size="10.4" text-anchor="middle">Tumor volume (mm<tspan font-size="6.5" dy="-3.5">3</tspan><tspan dy="3.5">)</tspan></text>
<rect x="170.3" y="318.4" width="7.63" height="9.63" fill="#e0e0f7" stroke="#ffffff" stroke-width="0.35"/>
<rect x="177.93" y="318.4" width="7.63" height="9.63" fill="#ffc2c2" stroke="#ffffff" stroke-width="0.35"/>
<rect x="185.56" y="318.4" width="7.63" height="9.63" fill="#b6b6ec" stroke="#ffffff" stroke-width="0.35"/>
<rect x="193.19" y="318.4" width="7.63" height="9.63" fill="#efeffb" stroke="#ffffff" stroke-width="0.35"/>
<rect x="200.82" y="318.4" width="7.63" height="9.63" fill="#7777dc" stroke="#ffffff" stroke-width="0.35"/>
<rect x="208.45" y="318.4" width="7.63" height="9.63" fill="#8c8ce2" stroke="#ffffff" stroke-width="0.35"/>
<rect x="216.08" y="318.4" width="7.63" height="9.63" fill="#fff9f9" stroke="#ffffff" stroke-width="0.35"/>
<rect x="223.71" y="318.4" width="7.63" height="9.63" fill="#cbcbf2" stroke="#ffffff" stroke-width="0.35"/>
<rect x="231.34" y="318.4" width="7.63" height="9.63" fill="#6c6cda" stroke="#ffffff" stroke-width="0.35"/>
<rect x="238.97" y="318.4" width="7.63" height="9.63" fill="#d5d5f4" stroke="#ffffff" stroke-width="0.35"/>
<rect x="170.3" y="328.03" width="7.63" height="9.63" fill="#e0e0f7" stroke="#ffffff" stroke-width="0.35"/>
<rect x="177.93" y="328.03" width="7.63" height="9.63" fill="#ffe6e6" stroke="#ffffff" stroke-width="0.35"/>
<rect x="185.56" y="328.03" width="7.63" height="9.63" fill="#c0c0ef" stroke="#ffffff" stroke-width="0.35"/>
<rect x="193.19" y="328.03" width="7.63" height="9.63" fill="#b6b6ec" stroke="#ffffff" stroke-width="0.35"/>
<rect x="200.82" y="328.03" width="7.63" height="9.63" fill="#8c8ce2" stroke="#ffffff" stroke-width="0.35"/>
<rect x="208.45" y="328.03" width="7.63" height="9.63" fill="#cbcbf2" stroke="#ffffff" stroke-width="0.35"/>
<rect x="216.08" y="328.03" width="7.63" height="9.63" fill="#ffdada" stroke="#ffffff" stroke-width="0.35"/>
<rect x="223.71" y="328.03" width="7.63" height="9.63" fill="#ffe6e6" stroke="#ffffff" stroke-width="0.35"/>
<rect x="231.34" y="328.03" width="7.63" height="9.63" fill="#6262d7" stroke="#ffffff" stroke-width="0.35"/>
<rect x="238.97" y="328.03" width="7.63" height="9.63" fill="#ffe0e0" stroke="#ffffff" stroke-width="0.35"/>
<rect x="170.3" y="337.66" width="7.63" height="9.63" fill="#a1a1e7" stroke="#ffffff" stroke-width="0.35"/>
<rect x="177.93" y="337.66" width="7.63" height="9.63" fill="#efeffb" stroke="#ffffff" stroke-width="0.35"/>
<rect x="185.56" y="337.66" width="7.63" height="9.63" fill="#a1a1e7" stroke="#ffffff" stroke-width="0.35"/>
<rect x="193.19" y="337.66" width="7.63" height="9.63" fill="#a1a1e7" stroke="#ffffff" stroke-width="0.35"/>
<rect x="200.82" y="337.66" width="7.63" height="9.63" fill="#6c6cda" stroke="#ffffff" stroke-width="0.35"/>
<rect x="208.45" y="337.66" width="7.63" height="9.63" fill="#b6b6ec" stroke="#ffffff" stroke-width="0.35"/>
<rect x="216.08" y="337.66" width="7.63" height="9.63" fill="#f5f5fc" stroke="#ffffff" stroke-width="0.35"/>
<rect x="223.71" y="337.66" width="7.63" height="9.63" fill="#fff9f9" stroke="#ffffff" stroke-width="0.35"/>
<rect x="231.34" y="337.66" width="7.63" height="9.63" fill="#8181df" stroke="#ffffff" stroke-width="0.35"/>
<rect x="238.97" y="337.66" width="7.63" height="9.63" fill="#cbcbf2" stroke="#ffffff" stroke-width="0.35"/>
<rect x="170.3" y="347.29" width="7.63" height="9.63" fill="#a1a1e7" stroke="#ffffff" stroke-width="0.35"/>
<rect x="177.93" y="347.29" width="7.63" height="9.63" fill="#fff9f9" stroke="#ffffff" stroke-width="0.35"/>
<rect x="185.56" y="347.29" width="7.63" height="9.63" fill="#ababea" stroke="#ffffff" stroke-width="0.35"/>
<rect x="193.19" y="347.29" width="7.63" height="9.63" fill="#ffffff" stroke="#ffffff" stroke-width="0.35"/>
<rect x="200.82" y="347.29" width="7.63" height="9.63" fill="#b6b6ec" stroke="#ffffff" stroke-width="0.35"/>
<rect x="208.45" y="347.29" width="7.63" height="9.63" fill="#9696e4" stroke="#ffffff" stroke-width="0.35"/>
<rect x="216.08" y="347.29" width="7.63" height="9.63" fill="#fff9f9" stroke="#ffffff" stroke-width="0.35"/>
<rect x="223.71" y="347.29" width="7.63" height="9.63" fill="#a1a1e7" stroke="#ffffff" stroke-width="0.35"/>
<rect x="231.34" y="347.29" width="7.63" height="9.63" fill="#7777dc" stroke="#ffffff" stroke-width="0.35"/>
<rect x="238.97" y="347.29" width="7.63" height="9.63" fill="#ffffff" stroke="#ffffff" stroke-width="0.35"/>
<rect x="170.3" y="356.92" width="7.63" height="9.63" fill="#7777dc" stroke="#ffffff" stroke-width="0.35"/>
<rect x="177.93" y="356.92" width="7.63" height="9.63" fill="#ffb5b5" stroke="#ffffff" stroke-width="0.35"/>
<rect x="185.56" y="356.92" width="7.63" height="9.63" fill="#e0e0f7" stroke="#ffffff" stroke-width="0.35"/>
<rect x="193.19" y="356.92" width="7.63" height="9.63" fill="#c0c0ef" stroke="#ffffff" stroke-width="0.35"/>
<rect x="200.82" y="356.92" width="7.63" height="9.63" fill="#d5d5f4" stroke="#ffffff" stroke-width="0.35"/>
<rect x="208.45" y="356.92" width="7.63" height="9.63" fill="#b6b6ec" stroke="#ffffff" stroke-width="0.35"/>
<rect x="216.08" y="356.92" width="7.63" height="9.63" fill="#ffe0e0" stroke="#ffffff" stroke-width="0.35"/>
<rect x="223.71" y="356.92" width="7.63" height="9.63" fill="#eaeafa" stroke="#ffffff" stroke-width="0.35"/>
<rect x="231.34" y="356.92" width="7.63" height="9.63" fill="#8c8ce2" stroke="#ffffff" stroke-width="0.35"/>
<rect x="238.97" y="356.92" width="7.63" height="9.63" fill="#efeffb" stroke="#ffffff" stroke-width="0.35"/>
<rect x="170.3" y="366.55" width="7.63" height="9.63" fill="#b6b6ec" stroke="#ffffff" stroke-width="0.35"/>
<rect x="177.93" y="366.55" width="7.63" height="9.63" fill="#ffffff" stroke="#ffffff" stroke-width="0.35"/>
<rect x="185.56" y="366.55" width="7.63" height="9.63" fill="#cbcbf2" stroke="#ffffff" stroke-width="0.35"/>
<rect x="193.19" y="366.55" width="7.63" height="9.63" fill="#b6b6ec" stroke="#ffffff" stroke-width="0.35"/>
<rect x="200.82" y="366.55" width="7.63" height="9.63" fill="#8c8ce2" stroke="#ffffff" stroke-width="0.35"/>
<rect x="208.45" y="366.55" width="7.63" height="9.63" fill="#cbcbf2" stroke="#ffffff" stroke-width="0.35"/>
<rect x="216.08" y="366.55" width="7.63" height="9.63" fill="#ffcece" stroke="#ffffff" stroke-width="0.35"/>
<rect x="223.71" y="366.55" width="7.63" height="9.63" fill="#f5f5fc" stroke="#ffffff" stroke-width="0.35"/>
<rect x="231.34" y="366.55" width="7.63" height="9.63" fill="#4242cf" stroke="#ffffff" stroke-width="0.35"/>
<rect x="238.97" y="366.55" width="7.63" height="9.63" fill="#c0c0ef" stroke="#ffffff" stroke-width="0.35"/>
<rect x="170.3" y="376.18" width="7.63" height="9.63" fill="#c0c0ef" stroke="#ffffff" stroke-width="0.35"/>
<rect x="177.93" y="376.18" width="7.63" height="9.63" fill="#ffe6e6" stroke="#ffffff" stroke-width="0.35"/>
<rect x="185.56" y="376.18" width="7.63" height="9.63" fill="#b6b6ec" stroke="#ffffff" stroke-width="0.35"/>
<rect x="193.19" y="376.18" width="7.63" height="9.63" fill="#c0c0ef" stroke="#ffffff" stroke-width="0.35"/>
<rect x="200.82" y="376.18" width="7.63" height="9.63" fill="#6c6cda" stroke="#ffffff" stroke-width="0.35"/>
<rect x="208.45" y="376.18" width="7.63" height="9.63" fill="#a1a1e7" stroke="#ffffff" stroke-width="0.35"/>
<rect x="216.08" y="376.18" width="7.63" height="9.63" fill="#ffe0e0" stroke="#ffffff" stroke-width="0.35"/>
<rect x="223.71" y="376.18" width="7.63" height="9.63" fill="#ffffff" stroke="#ffffff" stroke-width="0.35"/>
<rect x="231.34" y="376.18" width="7.63" height="9.63" fill="#3838cc" stroke="#ffffff" stroke-width="0.35"/>
<rect x="238.97" y="376.18" width="7.63" height="9.63" fill="#efeffb" stroke="#ffffff" stroke-width="0.35"/>
<rect x="170.3" y="385.82" width="7.63" height="9.63" fill="#c0c0ef" stroke="#ffffff" stroke-width="0.35"/>
<rect x="177.93" y="385.82" width="7.63" height="9.63" fill="#fff3f3" stroke="#ffffff" stroke-width="0.35"/>
<rect x="185.56" y="385.82" width="7.63" height="9.63" fill="#b6b6ec" stroke="#ffffff" stroke-width="0.35"/>
<rect x="193.19" y="385.82" width="7.63" height="9.63" fill="#d5d5f4" stroke="#ffffff" stroke-width="0.35"/>
<rect x="200.82" y="385.82" width="7.63" height="9.63" fill="#6c6cda" stroke="#ffffff" stroke-width="0.35"/>
<rect x="208.45" y="385.82" width="7.63" height="9.63" fill="#b6b6ec" stroke="#ffffff" stroke-width="0.35"/>
<rect x="216.08" y="385.82" width="7.63" height="9.63" fill="#efeffb" stroke="#ffffff" stroke-width="0.35"/>
<rect x="223.71" y="385.82" width="7.63" height="9.63" fill="#f5f5fc" stroke="#ffffff" stroke-width="0.35"/>
<rect x="231.34" y="385.82" width="7.63" height="9.63" fill="#3838cc" stroke="#ffffff" stroke-width="0.35"/>
<rect x="238.97" y="385.82" width="7.63" height="9.63" fill="#cbcbf2" stroke="#ffffff" stroke-width="0.35"/>
<rect x="170.3" y="395.45" width="7.63" height="9.63" fill="#fff9f9" stroke="#ffffff" stroke-width="0.35"/>
<rect x="177.93" y="395.45" width="7.63" height="9.63" fill="#ffe0e0" stroke="#ffffff" stroke-width="0.35"/>
<rect x="185.56" y="395.45" width="7.63" height="9.63" fill="#b6b6ec" stroke="#ffffff" stroke-width="0.35"/>
<rect x="193.19" y="395.45" width="7.63" height="9.63" fill="#eaeafa" stroke="#ffffff" stroke-width="0.35"/>
<rect x="200.82" y="395.45" width="7.63" height="9.63" fill="#5757d4" stroke="#ffffff" stroke-width="0.35"/>
<rect x="208.45" y="395.45" width="7.63" height="9.63" fill="#9696e4" stroke="#ffffff" stroke-width="0.35"/>
<rect x="216.08" y="395.45" width="7.63" height="9.63" fill="#ffffff" stroke="#ffffff" stroke-width="0.35"/>
<rect x="223.71" y="395.45" width="7.63" height="9.63" fill="#fafafe" stroke="#ffffff" stroke-width="0.35"/>
<rect x="231.34" y="395.45" width="7.63" height="9.63" fill="#6c6cda" stroke="#ffffff" stroke-width="0.35"/>
<rect x="238.97" y="395.45" width="7.63" height="9.63" fill="#efeffb" stroke="#ffffff" stroke-width="0.35"/>
<rect x="170.3" y="405.08" width="7.63" height="9.63" fill="#cbcbf2" stroke="#ffffff" stroke-width="0.35"/>
<rect x="177.93" y="405.08" width="7.63" height="9.63" fill="#fafafe" stroke="#ffffff" stroke-width="0.35"/>
<rect x="185.56" y="405.08" width="7.63" height="9.63" fill="#8c8ce2" stroke="#ffffff" stroke-width="0.35"/>
<rect x="193.19" y="405.08" width="7.63" height="9.63" fill="#c0c0ef" stroke="#ffffff" stroke-width="0.35"/>
<rect x="200.82" y="405.08" width="7.63" height="9.63" fill="#9696e4" stroke="#ffffff" stroke-width="0.35"/>
<rect x="208.45" y="405.08" width="7.63" height="9.63" fill="#9696e4" stroke="#ffffff" stroke-width="0.35"/>
<rect x="216.08" y="405.08" width="7.63" height="9.63" fill="#ffdada" stroke="#ffffff" stroke-width="0.35"/>
<rect x="223.71" y="405.08" width="7.63" height="9.63" fill="#cbcbf2" stroke="#ffffff" stroke-width="0.35"/>
<rect x="231.34" y="405.08" width="7.63" height="9.63" fill="#8181df" stroke="#ffffff" stroke-width="0.35"/>
<rect x="238.97" y="405.08" width="7.63" height="9.63" fill="#ffffff" stroke="#ffffff" stroke-width="0.35"/>
<rect x="170.3" y="414.71" width="7.63" height="9.63" fill="#c0c0ef" stroke="#ffffff" stroke-width="0.35"/>
<rect x="177.93" y="414.71" width="7.63" height="9.63" fill="#ff9d9d" stroke="#ffffff" stroke-width="0.35"/>
<rect x="185.56" y="414.71" width="7.63" height="9.63" fill="#c0c0ef" stroke="#ffffff" stroke-width="0.35"/>
<rect x="193.19" y="414.71" width="7.63" height="9.63" fill="#ffe6e6" stroke="#ffffff" stroke-width="0.35"/>
<rect x="200.82" y="414.71" width="7.63" height="9.63" fill="#6262d7" stroke="#ffffff" stroke-width="0.35"/>
<rect x="208.45" y="414.71" width="7.63" height="9.63" fill="#efeffb" stroke="#ffffff" stroke-width="0.35"/>
<rect x="216.08" y="414.71" width="7.63" height="9.63" fill="#ffffff" stroke="#ffffff" stroke-width="0.35"/>
<rect x="223.71" y="414.71" width="7.63" height="9.63" fill="#fff9f9" stroke="#ffffff" stroke-width="0.35"/>
<rect x="231.34" y="414.71" width="7.63" height="9.63" fill="#8181df" stroke="#ffffff" stroke-width="0.35"/>
<rect x="238.97" y="414.71" width="7.63" height="9.63" fill="#ffc2c2" stroke="#ffffff" stroke-width="0.35"/>
<rect x="170.3" y="424.34" width="7.63" height="9.63" fill="#9696e4" stroke="#ffffff" stroke-width="0.35"/>
<rect x="177.93" y="424.34" width="7.63" height="9.63" fill="#ff9090" stroke="#ffffff" stroke-width="0.35"/>
<rect x="185.56" y="424.34" width="7.63" height="9.63" fill="#d5d5f4" stroke="#ffffff" stroke-width="0.35"/>
<rect x="193.19" y="424.34" width="7.63" height="9.63" fill="#fff9f9" stroke="#ffffff" stroke-width="0.35"/>
<rect x="200.82" y="424.34" width="7.63" height="9.63" fill="#5757d4" stroke="#ffffff" stroke-width="0.35"/>
<rect x="208.45" y="424.34" width="7.63" height="9.63" fill="#ababea" stroke="#ffffff" stroke-width="0.35"/>
<rect x="216.08" y="424.34" width="7.63" height="9.63" fill="#eaeafa" stroke="#ffffff" stroke-width="0.35"/>
<rect x="223.71" y="424.34" width="7.63" height="9.63" fill="#ffffff" stroke="#ffffff" stroke-width="0.35"/>
<rect x="231.34" y="424.34" width="7.63" height="9.63" fill="#4242cf" stroke="#ffffff" stroke-width="0.35"/>
<rect x="238.97" y="424.34" width="7.63" height="9.63" fill="#ffcece" stroke="#ffffff" stroke-width="0.35"/>
<rect x="170.3" y="433.97" width="7.63" height="9.63" fill="#c0c0ef" stroke="#ffffff" stroke-width="0.35"/>
<rect x="177.93" y="433.97" width="7.63" height="9.63" fill="#ffffff" stroke="#ffffff" stroke-width="0.35"/>
<rect x="185.56" y="433.97" width="7.63" height="9.63" fill="#9696e4" stroke="#ffffff" stroke-width="0.35"/>
<rect x="193.19" y="433.97" width="7.63" height="9.63" fill="#9696e4" stroke="#ffffff" stroke-width="0.35"/>
<rect x="200.82" y="433.97" width="7.63" height="9.63" fill="#7777dc" stroke="#ffffff" stroke-width="0.35"/>
<rect x="208.45" y="433.97" width="7.63" height="9.63" fill="#c0c0ef" stroke="#ffffff" stroke-width="0.35"/>
<rect x="216.08" y="433.97" width="7.63" height="9.63" fill="#fff9f9" stroke="#ffffff" stroke-width="0.35"/>
<rect x="223.71" y="433.97" width="7.63" height="9.63" fill="#ffe6e6" stroke="#ffffff" stroke-width="0.35"/>
<rect x="231.34" y="433.97" width="7.63" height="9.63" fill="#8c8ce2" stroke="#ffffff" stroke-width="0.35"/>
<rect x="238.97" y="433.97" width="7.63" height="9.63" fill="#9696e4" stroke="#ffffff" stroke-width="0.35"/>
<rect x="246.6" y="318.4" width="7.69" height="9.63" fill="#dadaf6" stroke="#ffffff" stroke-width="0.35"/>
<rect x="254.29" y="318.4" width="7.69" height="9.63" fill="#ffffff" stroke="#ffffff" stroke-width="0.35"/>
<rect x="261.98" y="318.4" width="7.69" height="9.63" fill="#ffeded" stroke="#ffffff" stroke-width="0.35"/>
<rect x="269.67" y="318.4" width="7.69" height="9.63" fill="#ff9090" stroke="#ffffff" stroke-width="0.35"/>
<rect x="277.36" y="318.4" width="7.69" height="9.63" fill="#ffb5b5" stroke="#ffffff" stroke-width="0.35"/>
<rect x="285.05" y="318.4" width="7.69" height="9.63" fill="#6c6cda" stroke="#ffffff" stroke-width="0.35"/>
<rect x="292.74" y="318.4" width="7.69" height="9.63" fill="#ffe0e0" stroke="#ffffff" stroke-width="0.35"/>
<rect x="300.43" y="318.4" width="7.69" height="9.63" fill="#ffa9a9" stroke="#ffffff" stroke-width="0.35"/>
<rect x="308.12" y="318.4" width="7.69" height="9.63" fill="#ffc2c2" stroke="#ffffff" stroke-width="0.35"/>
<rect x="315.81" y="318.4" width="7.69" height="9.63" fill="#ff9090" stroke="#ffffff" stroke-width="0.35"/>
<rect x="246.6" y="328.03" width="7.69" height="9.63" fill="#e0e0f7" stroke="#ffffff" stroke-width="0.35"/>
<rect x="254.29" y="328.03" width="7.69" height="9.63" fill="#fff9f9" stroke="#ffffff" stroke-width="0.35"/>
<rect x="261.98" y="328.03" width="7.69" height="9.63" fill="#ffe6e6" stroke="#ffffff" stroke-width="0.35"/>
<rect x="269.67" y="328.03" width="7.69" height="9.63" fill="#ffb5b5" stroke="#ffffff" stroke-width="0.35"/>
<rect x="277.36" y="328.03" width="7.69" height="9.63" fill="#eaeafa" stroke="#ffffff" stroke-width="0.35"/>
<rect x="285.05" y="328.03" width="7.69" height="9.63" fill="#0e0ec2" stroke="#ffffff" stroke-width="0.35"/>
<rect x="292.74" y="328.03" width="7.69" height="9.63" fill="#ffdada" stroke="#ffffff" stroke-width="0.35"/>
<rect x="300.43" y="328.03" width="7.69" height="9.63" fill="#ff7878" stroke="#ffffff" stroke-width="0.35"/>
<rect x="308.12" y="328.03" width="7.69" height="9.63" fill="#ffb5b5" stroke="#ffffff" stroke-width="0.35"/>
<rect x="315.81" y="328.03" width="7.69" height="9.63" fill="#ff5f5f" stroke="#ffffff" stroke-width="0.35"/>
<rect x="246.6" y="337.66" width="7.69" height="9.63" fill="#cbcbf2" stroke="#ffffff" stroke-width="0.35"/>
<rect x="254.29" y="337.66" width="7.69" height="9.63" fill="#ffffff" stroke="#ffffff" stroke-width="0.35"/>
<rect x="261.98" y="337.66" width="7.69" height="9.63" fill="#b6b6ec" stroke="#ffffff" stroke-width="0.35"/>
<rect x="269.67" y="337.66" width="7.69" height="9.63" fill="#ff9090" stroke="#ffffff" stroke-width="0.35"/>
<rect x="277.36" y="337.66" width="7.69" height="9.63" fill="#ffe6e6" stroke="#ffffff" stroke-width="0.35"/>
<rect x="285.05" y="337.66" width="7.69" height="9.63" fill="#6c6cda" stroke="#ffffff" stroke-width="0.35"/>
<rect x="292.74" y="337.66" width="7.69" height="9.63" fill="#ffeded" stroke="#ffffff" stroke-width="0.35"/>
<rect x="300.43" y="337.66" width="7.69" height="9.63" fill="#ff8484" stroke="#ffffff" stroke-width="0.35"/>
<rect x="308.12" y="337.66" width="7.69" height="9.63" fill="#ffcece" stroke="#ffffff" stroke-width="0.35"/>
<rect x="315.81" y="337.66" width="7.69" height="9.63" fill="#ff7878" stroke="#ffffff" stroke-width="0.35"/>
<rect x="246.6" y="347.29" width="7.69" height="9.63" fill="#ffdada" stroke="#ffffff" stroke-width="0.35"/>
<rect x="254.29" y="347.29" width="7.69" height="9.63" fill="#f5f5fc" stroke="#ffffff" stroke-width="0.35"/>
<rect x="261.98" y="347.29" width="7.69" height="9.63" fill="#cbcbf2" stroke="#ffffff" stroke-width="0.35"/>
<rect x="269.67" y="347.29" width="7.69" height="9.63" fill="#e0e0f7" stroke="#ffffff" stroke-width="0.35"/>
<rect x="277.36" y="347.29" width="7.69" height="9.63" fill="#f5f5fc" stroke="#ffffff" stroke-width="0.35"/>
<rect x="285.05" y="347.29" width="7.69" height="9.63" fill="#ababea" stroke="#ffffff" stroke-width="0.35"/>
<rect x="292.74" y="347.29" width="7.69" height="9.63" fill="#fff3f3" stroke="#ffffff" stroke-width="0.35"/>
<rect x="300.43" y="347.29" width="7.69" height="9.63" fill="#fff9f9" stroke="#ffffff" stroke-width="0.35"/>
<rect x="308.12" y="347.29" width="7.69" height="9.63" fill="#ffe6e6" stroke="#ffffff" stroke-width="0.35"/>
<rect x="315.81" y="347.29" width="7.69" height="9.63" fill="#ff9090" stroke="#ffffff" stroke-width="0.35"/>
<rect x="246.6" y="356.92" width="7.69" height="9.63" fill="#ffdada" stroke="#ffffff" stroke-width="0.35"/>
<rect x="254.29" y="356.92" width="7.69" height="9.63" fill="#e0e0f7" stroke="#ffffff" stroke-width="0.35"/>
<rect x="261.98" y="356.92" width="7.69" height="9.63" fill="#ffb5b5" stroke="#ffffff" stroke-width="0.35"/>
<rect x="269.67" y="356.92" width="7.69" height="9.63" fill="#ff9d9d" stroke="#ffffff" stroke-width="0.35"/>
<rect x="277.36" y="356.92" width="7.69" height="9.63" fill="#fff9f9" stroke="#ffffff" stroke-width="0.35"/>
<rect x="285.05" y="356.92" width="7.69" height="9.63" fill="#8c8ce2" stroke="#ffffff" stroke-width="0.35"/>
<rect x="292.74" y="356.92" width="7.69" height="9.63" fill="#efeffb" stroke="#ffffff" stroke-width="0.35"/>
<rect x="300.43" y="356.92" width="7.69" height="9.63" fill="#ff8484" stroke="#ffffff" stroke-width="0.35"/>
<rect x="308.12" y="356.92" width="7.69" height="9.63" fill="#fff3f3" stroke="#ffffff" stroke-width="0.35"/>
<rect x="315.81" y="356.92" width="7.69" height="9.63" fill="#ffb5b5" stroke="#ffffff" stroke-width="0.35"/>
<rect x="246.6" y="366.55" width="7.69" height="9.63" fill="#b6b6ec" stroke="#ffffff" stroke-width="0.35"/>
<rect x="254.29" y="366.55" width="7.69" height="9.63" fill="#eaeafa" stroke="#ffffff" stroke-width="0.35"/>
<rect x="261.98" y="366.55" width="7.69" height="9.63" fill="#ffe6e6" stroke="#ffffff" stroke-width="0.35"/>
<rect x="269.67" y="366.55" width="7.69" height="9.63" fill="#ff9090" stroke="#ffffff" stroke-width="0.35"/>
<rect x="277.36" y="366.55" width="7.69" height="9.63" fill="#ffdada" stroke="#ffffff" stroke-width="0.35"/>
<rect x="285.05" y="366.55" width="7.69" height="9.63" fill="#7777dc" stroke="#ffffff" stroke-width="0.35"/>
<rect x="292.74" y="366.55" width="7.69" height="9.63" fill="#ffdada" stroke="#ffffff" stroke-width="0.35"/>
<rect x="300.43" y="366.55" width="7.69" height="9.63" fill="#ff9d9d" stroke="#ffffff" stroke-width="0.35"/>
<rect x="308.12" y="366.55" width="7.69" height="9.63" fill="#ffffff" stroke="#ffffff" stroke-width="0.35"/>
<rect x="315.81" y="366.55" width="7.69" height="9.63" fill="#ff8484" stroke="#ffffff" stroke-width="0.35"/>
<rect x="246.6" y="376.18" width="7.69" height="9.63" fill="#efeffb" stroke="#ffffff" stroke-width="0.35"/>
<rect x="254.29" y="376.18" width="7.69" height="9.63" fill="#fff3f3" stroke="#ffffff" stroke-width="0.35"/>
<rect x="261.98" y="376.18" width="7.69" height="9.63" fill="#eaeafa" stroke="#ffffff" stroke-width="0.35"/>
<rect x="269.67" y="376.18" width="7.69" height="9.63" fill="#ff9090" stroke="#ffffff" stroke-width="0.35"/>
<rect x="277.36" y="376.18" width="7.69" height="9.63" fill="#ffcece" stroke="#ffffff" stroke-width="0.35"/>
<rect x="285.05" y="376.18" width="7.69" height="9.63" fill="#0000be" stroke="#ffffff" stroke-width="0.35"/>
<rect x="292.74" y="376.18" width="7.69" height="9.63" fill="#ffe0e0" stroke="#ffffff" stroke-width="0.35"/>
<rect x="300.43" y="376.18" width="7.69" height="9.63" fill="#ff9090" stroke="#ffffff" stroke-width="0.35"/>
<rect x="308.12" y="376.18" width="7.69" height="9.63" fill="#ffc2c2" stroke="#ffffff" stroke-width="0.35"/>
<rect x="315.81" y="376.18" width="7.69" height="9.63" fill="#ff8484" stroke="#ffffff" stroke-width="0.35"/>
<rect x="246.6" y="385.82" width="7.69" height="9.63" fill="#efeffb" stroke="#ffffff" stroke-width="0.35"/>
<rect x="254.29" y="385.82" width="7.69" height="9.63" fill="#ffcece" stroke="#ffffff" stroke-width="0.35"/>
<rect x="261.98" y="385.82" width="7.69" height="9.63" fill="#cbcbf2" stroke="#ffffff" stroke-width="0.35"/>
<rect x="269.67" y="385.82" width="7.69" height="9.63" fill="#ff6b6b" stroke="#ffffff" stroke-width="0.35"/>
<rect x="277.36" y="385.82" width="7.69" height="9.63" fill="#ffc2c2" stroke="#ffffff" stroke-width="0.35"/>
<rect x="285.05" y="385.82" width="7.69" height="9.63" fill="#2e2eca" stroke="#ffffff" stroke-width="0.35"/>
<rect x="292.74" y="385.82" width="7.69" height="9.63" fill="#fff9f9" stroke="#ffffff" stroke-width="0.35"/>
<rect x="300.43" y="385.82" width="7.69" height="9.63" fill="#ff9d9d" stroke="#ffffff" stroke-width="0.35"/>
<rect x="308.12" y="385.82" width="7.69" height="9.63" fill="#ffcece" stroke="#ffffff" stroke-width="0.35"/>
<rect x="315.81" y="385.82" width="7.69" height="9.63" fill="#ff7878" stroke="#ffffff" stroke-width="0.35"/>
<rect x="246.6" y="395.45" width="7.69" height="9.63" fill="#e0e0f7" stroke="#ffffff" stroke-width="0.35"/>
<rect x="254.29" y="395.45" width="7.69" height="9.63" fill="#ffe6e6" stroke="#ffffff" stroke-width="0.35"/>
<rect x="261.98" y="395.45" width="7.69" height="9.63" fill="#e0e0f7" stroke="#ffffff" stroke-width="0.35"/>
<rect x="269.67" y="395.45" width="7.69" height="9.63" fill="#ff9d9d" stroke="#ffffff" stroke-width="0.35"/>
<rect x="277.36" y="395.45" width="7.69" height="9.63" fill="#ffe6e6" stroke="#ffffff" stroke-width="0.35"/>
<rect x="285.05" y="395.45" width="7.69" height="9.63" fill="#0000be" stroke="#ffffff" stroke-width="0.35"/>
<rect x="292.74" y="395.45" width="7.69" height="9.63" fill="#ffeded" stroke="#ffffff" stroke-width="0.35"/>
<rect x="300.43" y="395.45" width="7.69" height="9.63" fill="#ff9d9d" stroke="#ffffff" stroke-width="0.35"/>
<rect x="308.12" y="395.45" width="7.69" height="9.63" fill="#ffb5b5" stroke="#ffffff" stroke-width="0.35"/>
<rect x="315.81" y="395.45" width="7.69" height="9.63" fill="#ff6b6b" stroke="#ffffff" stroke-width="0.35"/>
<rect x="246.6" y="405.08" width="7.69" height="9.63" fill="#c0c0ef" stroke="#ffffff" stroke-width="0.35"/>
<rect x="254.29" y="405.08" width="7.69" height="9.63" fill="#d5d5f4" stroke="#ffffff" stroke-width="0.35"/>
<rect x="261.98" y="405.08" width="7.69" height="9.63" fill="#e0e0f7" stroke="#ffffff" stroke-width="0.35"/>
<rect x="269.67" y="405.08" width="7.69" height="9.63" fill="#ffa9a9" stroke="#ffffff" stroke-width="0.35"/>
<rect x="277.36" y="405.08" width="7.69" height="9.63" fill="#ffeded" stroke="#ffffff" stroke-width="0.35"/>
<rect x="285.05" y="405.08" width="7.69" height="9.63" fill="#a1a1e7" stroke="#ffffff" stroke-width="0.35"/>
<rect x="292.74" y="405.08" width="7.69" height="9.63" fill="#eaeafa" stroke="#ffffff" stroke-width="0.35"/>
<rect x="300.43" y="405.08" width="7.69" height="9.63" fill="#ff8484" stroke="#ffffff" stroke-width="0.35"/>
<rect x="308.12" y="405.08" width="7.69" height="9.63" fill="#fff9f9" stroke="#ffffff" stroke-width="0.35"/>
<rect x="315.81" y="405.08" width="7.69" height="9.63" fill="#ff6b6b" stroke="#ffffff" stroke-width="0.35"/>
<rect x="246.6" y="414.71" width="7.69" height="9.63" fill="#efeffb" stroke="#ffffff" stroke-width="0.35"/>
<rect x="254.29" y="414.71" width="7.69" height="9.63" fill="#fff9f9" stroke="#ffffff" stroke-width="0.35"/>
<rect x="261.98" y="414.71" width="7.69" height="9.63" fill="#a1a1e7" stroke="#ffffff" stroke-width="0.35"/>
<rect x="269.67" y="414.71" width="7.69" height="9.63" fill="#ff9090" stroke="#ffffff" stroke-width="0.35"/>
<rect x="277.36" y="414.71" width="7.69" height="9.63" fill="#ffcece" stroke="#ffffff" stroke-width="0.35"/>
<rect x="285.05" y="414.71" width="7.69" height="9.63" fill="#6262d7" stroke="#ffffff" stroke-width="0.35"/>
<rect x="292.74" y="414.71" width="7.69" height="9.63" fill="#cbcbf2" stroke="#ffffff" stroke-width="0.35"/>
<rect x="300.43" y="414.71" width="7.69" height="9.63" fill="#ff9d9d" stroke="#ffffff" stroke-width="0.35"/>
<rect x="308.12" y="414.71" width="7.69" height="9.63" fill="#eaeafa" stroke="#ffffff" stroke-width="0.35"/>
<rect x="315.81" y="414.71" width="7.69" height="9.63" fill="#ff8484" stroke="#ffffff" stroke-width="0.35"/>
<rect x="246.6" y="424.34" width="7.69" height="9.63" fill="#eaeafa" stroke="#ffffff" stroke-width="0.35"/>
<rect x="254.29" y="424.34" width="7.69" height="9.63" fill="#c0c0ef" stroke="#ffffff" stroke-width="0.35"/>
<rect x="261.98" y="424.34" width="7.69" height="9.63" fill="#ababea" stroke="#ffffff" stroke-width="0.35"/>
<rect x="269.67" y="424.34" width="7.69" height="9.63" fill="#ff8484" stroke="#ffffff" stroke-width="0.35"/>
<rect x="277.36" y="424.34" width="7.69" height="9.63" fill="#ffc2c2" stroke="#ffffff" stroke-width="0.35"/>
<rect x="285.05" y="424.34" width="7.69" height="9.63" fill="#6c6cda" stroke="#ffffff" stroke-width="0.35"/>
<rect x="292.74" y="424.34" width="7.69" height="9.63" fill="#ffdada" stroke="#ffffff" stroke-width="0.35"/>
<rect x="300.43" y="424.34" width="7.69" height="9.63" fill="#ff9d9d" stroke="#ffffff" stroke-width="0.35"/>
<rect x="308.12" y="424.34" width="7.69" height="9.63" fill="#ffdada" stroke="#ffffff" stroke-width="0.35"/>
<rect x="315.81" y="424.34" width="7.69" height="9.63" fill="#ff6b6b" stroke="#ffffff" stroke-width="0.35"/>
<rect x="246.6" y="433.97" width="7.69" height="9.63" fill="#f5f5fc" stroke="#ffffff" stroke-width="0.35"/>
<rect x="254.29" y="433.97" width="7.69" height="9.63" fill="#ffe6e6" stroke="#ffffff" stroke-width="0.35"/>
<rect x="261.98" y="433.97" width="7.69" height="9.63" fill="#a1a1e7" stroke="#ffffff" stroke-width="0.35"/>
<rect x="269.67" y="433.97" width="7.69" height="9.63" fill="#ff6b6b" stroke="#ffffff" stroke-width="0.35"/>
<rect x="277.36" y="433.97" width="7.69" height="9.63" fill="#ffb5b5" stroke="#ffffff" stroke-width="0.35"/>
<rect x="285.05" y="433.97" width="7.69" height="9.63" fill="#6262d7" stroke="#ffffff" stroke-width="0.35"/>
<rect x="292.74" y="433.97" width="7.69" height="9.63" fill="#ffffff" stroke="#ffffff" stroke-width="0.35"/>
<rect x="300.43" y="433.97" width="7.69" height="9.63" fill="#ff7878" stroke="#ffffff" stroke-width="0.35"/>
<rect x="308.12" y="433.97" width="7.69" height="9.63" fill="#ffdada" stroke="#ffffff" stroke-width="0.35"/>
<rect x="315.81" y="433.97" width="7.69" height="9.63" fill="#ff6b6b" stroke="#ffffff" stroke-width="0.35"/>
<rect x="323.5" y="318.4" width="7.61" height="9.63" fill="#e0e0f7" stroke="#ffffff" stroke-width="0.35"/>
<rect x="331.11" y="318.4" width="7.61" height="9.63" fill="#ababea" stroke="#ffffff" stroke-width="0.35"/>
<rect x="338.72" y="318.4" width="7.61" height="9.63" fill="#ffffff" stroke="#ffffff" stroke-width="0.35"/>
<rect x="346.33" y="318.4" width="7.61" height="9.63" fill="#9696e4" stroke="#ffffff" stroke-width="0.35"/>
<rect x="353.94" y="318.4" width="7.61" height="9.63" fill="#efeffb" stroke="#ffffff" stroke-width="0.35"/>
<rect x="361.55" y="318.4" width="7.61" height="9.63" fill="#a1a1e7" stroke="#ffffff" stroke-width="0.35"/>
<rect x="369.16" y="318.4" width="7.61" height="9.63" fill="#ffffff" stroke="#ffffff" stroke-width="0.35"/>
<rect x="376.77" y="318.4" width="7.61" height="9.63" fill="#1919c4" stroke="#ffffff" stroke-width="0.35"/>
<rect x="384.38" y="318.4" width="7.61" height="9.63" fill="#c0c0ef" stroke="#ffffff" stroke-width="0.35"/>
<rect x="391.99" y="318.4" width="7.61" height="9.63" fill="#eaeafa" stroke="#ffffff" stroke-width="0.35"/>
<rect x="323.5" y="328.03" width="7.61" height="9.63" fill="#fafafe" stroke="#ffffff" stroke-width="0.35"/>
<rect x="331.11" y="328.03" width="7.61" height="9.63" fill="#c0c0ef" stroke="#ffffff" stroke-width="0.35"/>
<rect x="338.72" y="328.03" width="7.61" height="9.63" fill="#ffcece" stroke="#ffffff" stroke-width="0.35"/>
<rect x="346.33" y="328.03" width="7.61" height="9.63" fill="#9696e4" stroke="#ffffff" stroke-width="0.35"/>
<rect x="353.94" y="328.03" width="7.61" height="9.63" fill="#a1a1e7" stroke="#ffffff" stroke-width="0.35"/>
<rect x="361.55" y="328.03" width="7.61" height="9.63" fill="#1919c4" stroke="#ffffff" stroke-width="0.35"/>
<rect x="369.16" y="328.03" width="7.61" height="9.63" fill="#ffe6e6" stroke="#ffffff" stroke-width="0.35"/>
<rect x="376.77" y="328.03" width="7.61" height="9.63" fill="#d5d5f4" stroke="#ffffff" stroke-width="0.35"/>
<rect x="384.38" y="328.03" width="7.61" height="9.63" fill="#b6b6ec" stroke="#ffffff" stroke-width="0.35"/>
<rect x="391.99" y="328.03" width="7.61" height="9.63" fill="#e0e0f7" stroke="#ffffff" stroke-width="0.35"/>
<rect x="323.5" y="337.66" width="7.61" height="9.63" fill="#ffffff" stroke="#ffffff" stroke-width="0.35"/>
<rect x="331.11" y="337.66" width="7.61" height="9.63" fill="#ababea" stroke="#ffffff" stroke-width="0.35"/>
<rect x="338.72" y="337.66" width="7.61" height="9.63" fill="#fafafe" stroke="#ffffff" stroke-width="0.35"/>
<rect x="346.33" y="337.66" width="7.61" height="9.63" fill="#d5d5f4" stroke="#ffffff" stroke-width="0.35"/>
<rect x="353.94" y="337.66" width="7.61" height="9.63" fill="#c0c0ef" stroke="#ffffff" stroke-width="0.35"/>
<rect x="361.55" y="337.66" width="7.61" height="9.63" fill="#ababea" stroke="#ffffff" stroke-width="0.35"/>
<rect x="369.16" y="337.66" width="7.61" height="9.63" fill="#ffeded" stroke="#ffffff" stroke-width="0.35"/>
<rect x="376.77" y="337.66" width="7.61" height="9.63" fill="#ababea" stroke="#ffffff" stroke-width="0.35"/>
<rect x="384.38" y="337.66" width="7.61" height="9.63" fill="#9696e4" stroke="#ffffff" stroke-width="0.35"/>
<rect x="391.99" y="337.66" width="7.61" height="9.63" fill="#f5f5fc" stroke="#ffffff" stroke-width="0.35"/>
<rect x="323.5" y="347.29" width="7.61" height="9.63" fill="#d5d5f4" stroke="#ffffff" stroke-width="0.35"/>
<rect x="331.11" y="347.29" width="7.61" height="9.63" fill="#a1a1e7" stroke="#ffffff" stroke-width="0.35"/>
<rect x="338.72" y="347.29" width="7.61" height="9.63" fill="#ffffff" stroke="#ffffff" stroke-width="0.35"/>
<rect x="346.33" y="347.29" width="7.61" height="9.63" fill="#8c8ce2" stroke="#ffffff" stroke-width="0.35"/>
<rect x="353.94" y="347.29" width="7.61" height="9.63" fill="#d5d5f4" stroke="#ffffff" stroke-width="0.35"/>
<rect x="361.55" y="347.29" width="7.61" height="9.63" fill="#cbcbf2" stroke="#ffffff" stroke-width="0.35"/>
<rect x="369.16" y="347.29" width="7.61" height="9.63" fill="#ffc2c2" stroke="#ffffff" stroke-width="0.35"/>
<rect x="376.77" y="347.29" width="7.61" height="9.63" fill="#fff9f9" stroke="#ffffff" stroke-width="0.35"/>
<rect x="384.38" y="347.29" width="7.61" height="9.63" fill="#6c6cda" stroke="#ffffff" stroke-width="0.35"/>
<rect x="391.99" y="347.29" width="7.61" height="9.63" fill="#d5d5f4" stroke="#ffffff" stroke-width="0.35"/>
<rect x="323.5" y="356.92" width="7.61" height="9.63" fill="#d5d5f4" stroke="#ffffff" stroke-width="0.35"/>
<rect x="331.11" y="356.92" width="7.61" height="9.63" fill="#c0c0ef" stroke="#ffffff" stroke-width="0.35"/>
<rect x="338.72" y="356.92" width="7.61" height="9.63" fill="#c0c0ef" stroke="#ffffff" stroke-width="0.35"/>
<rect x="346.33" y="356.92" width="7.61" height="9.63" fill="#9696e4" stroke="#ffffff" stroke-width="0.35"/>
<rect x="353.94" y="356.92" width="7.61" height="9.63" fill="#6262d7" stroke="#ffffff" stroke-width="0.35"/>
<rect x="361.55" y="356.92" width="7.61" height="9.63" fill="#3838cc" stroke="#ffffff" stroke-width="0.35"/>
<rect x="369.16" y="356.92" width="7.61" height="9.63" fill="#ffc2c2" stroke="#ffffff" stroke-width="0.35"/>
<rect x="376.77" y="356.92" width="7.61" height="9.63" fill="#ffb5b5" stroke="#ffffff" stroke-width="0.35"/>
<rect x="384.38" y="356.92" width="7.61" height="9.63" fill="#9696e4" stroke="#ffffff" stroke-width="0.35"/>
<rect x="391.99" y="356.92" width="7.61" height="9.63" fill="#d5d5f4" stroke="#ffffff" stroke-width="0.35"/>
<rect x="323.5" y="366.55" width="7.61" height="9.63" fill="#ffdada" stroke="#ffffff" stroke-width="0.35"/>
<rect x="331.11" y="366.55" width="7.61" height="9.63" fill="#cbcbf2" stroke="#ffffff" stroke-width="0.35"/>
<rect x="338.72" y="366.55" width="7.61" height="9.63" fill="#efeffb" stroke="#ffffff" stroke-width="0.35"/>
<rect x="346.33" y="366.55" width="7.61" height="9.63" fill="#eaeafa" stroke="#ffffff" stroke-width="0.35"/>
<rect x="353.94" y="366.55" width="7.61" height="9.63" fill="#e0e0f7" stroke="#ffffff" stroke-width="0.35"/>
<rect x="361.55" y="366.55" width="7.61" height="9.63" fill="#2e2eca" stroke="#ffffff" stroke-width="0.35"/>
<rect x="369.16" y="366.55" width="7.61" height="9.63" fill="#ffffff" stroke="#ffffff" stroke-width="0.35"/>
<rect x="376.77" y="366.55" width="7.61" height="9.63" fill="#8c8ce2" stroke="#ffffff" stroke-width="0.35"/>
<rect x="384.38" y="366.55" width="7.61" height="9.63" fill="#8c8ce2" stroke="#ffffff" stroke-width="0.35"/>
<rect x="391.99" y="366.55" width="7.61" height="9.63" fill="#ffdada" stroke="#ffffff" stroke-width="0.35"/>
<rect x="323.5" y="376.18" width="7.61" height="9.63" fill="#eaeafa" stroke="#ffffff" stroke-width="0.35"/>
<rect x="331.11" y="376.18" width="7.61" height="9.63" fill="#ababea" stroke="#ffffff" stroke-width="0.35"/>
<rect x="338.72" y="376.18" width="7.61" height="9.63" fill="#ffe6e6" stroke="#ffffff" stroke-width="0.35"/>
<rect x="346.33" y="376.18" width="7.61" height="9.63" fill="#a1a1e7" stroke="#ffffff" stroke-width="0.35"/>
<rect x="353.94" y="376.18" width="7.61" height="9.63" fill="#f5f5fc" stroke="#ffffff" stroke-width="0.35"/>
<rect x="361.55" y="376.18" width="7.61" height="9.63" fill="#ababea" stroke="#ffffff" stroke-width="0.35"/>
<rect x="369.16" y="376.18" width="7.61" height="9.63" fill="#ffdada" stroke="#ffffff" stroke-width="0.35"/>
<rect x="376.77" y="376.18" width="7.61" height="9.63" fill="#ababea" stroke="#ffffff" stroke-width="0.35"/>
<rect x="384.38" y="376.18" width="7.61" height="9.63" fill="#a1a1e7" stroke="#ffffff" stroke-width="0.35"/>
<rect x="391.99" y="376.18" width="7.61" height="9.63" fill="#f5f5fc" stroke="#ffffff" stroke-width="0.35"/>
<rect x="323.5" y="385.82" width="7.61" height="9.63" fill="#e5e5f8" stroke="#ffffff" stroke-width="0.35"/>
<rect x="331.11" y="385.82" width="7.61" height="9.63" fill="#cbcbf2" stroke="#ffffff" stroke-width="0.35"/>
<rect x="338.72" y="385.82" width="7.61" height="9.63" fill="#ffeded" stroke="#ffffff" stroke-width="0.35"/>
<rect x="346.33" y="385.82" width="7.61" height="9.63" fill="#9696e4" stroke="#ffffff" stroke-width="0.35"/>
<rect x="353.94" y="385.82" width="7.61" height="9.63" fill="#e5e5f8" stroke="#ffffff" stroke-width="0.35"/>
<rect x="361.55" y="385.82" width="7.61" height="9.63" fill="#ababea" stroke="#ffffff" stroke-width="0.35"/>
<rect x="369.16" y="385.82" width="7.61" height="9.63" fill="#ffe6e6" stroke="#ffffff" stroke-width="0.35"/>
<rect x="376.77" y="385.82" width="7.61" height="9.63" fill="#7777dc" stroke="#ffffff" stroke-width="0.35"/>
<rect x="384.38" y="385.82" width="7.61" height="9.63" fill="#c0c0ef" stroke="#ffffff" stroke-width="0.35"/>
<rect x="391.99" y="385.82" width="7.61" height="9.63" fill="#fafafe" stroke="#ffffff" stroke-width="0.35"/>
<rect x="323.5" y="395.45" width="7.61" height="9.63" fill="#f5f5fc" stroke="#ffffff" stroke-width="0.35"/>
<rect x="331.11" y="395.45" width="7.61" height="9.63" fill="#c0c0ef" stroke="#ffffff" stroke-width="0.35"/>
<rect x="338.72" y="395.45" width="7.61" height="9.63" fill="#ffc2c2" stroke="#ffffff" stroke-width="0.35"/>
<rect x="346.33" y="395.45" width="7.61" height="9.63" fill="#9696e4" stroke="#ffffff" stroke-width="0.35"/>
<rect x="353.94" y="395.45" width="7.61" height="9.63" fill="#d5d5f4" stroke="#ffffff" stroke-width="0.35"/>
<rect x="361.55" y="395.45" width="7.61" height="9.63" fill="#ababea" stroke="#ffffff" stroke-width="0.35"/>
<rect x="369.16" y="395.45" width="7.61" height="9.63" fill="#fff3f3" stroke="#ffffff" stroke-width="0.35"/>
<rect x="376.77" y="395.45" width="7.61" height="9.63" fill="#8c8ce2" stroke="#ffffff" stroke-width="0.35"/>
<rect x="384.38" y="395.45" width="7.61" height="9.63" fill="#ababea" stroke="#ffffff" stroke-width="0.35"/>
<rect x="391.99" y="395.45" width="7.61" height="9.63" fill="#ffffff" stroke="#ffffff" stroke-width="0.35"/>
<rect x="323.5" y="405.08" width="7.61" height="9.63" fill="#cbcbf2" stroke="#ffffff" stroke-width="0.35"/>
<rect x="331.11" y="405.08" width="7.61" height="9.63" fill="#c0c0ef" stroke="#ffffff" stroke-width="0.35"/>
<rect x="338.72" y="405.08" width="7.61" height="9.63" fill="#fafafe" stroke="#ffffff" stroke-width="0.35"/>
<rect x="346.33" y="405.08" width="7.61" height="9.63" fill="#c0c0ef" stroke="#ffffff" stroke-width="0.35"/>
<rect x="353.94" y="405.08" width="7.61" height="9.63" fill="#b6b6ec" stroke="#ffffff" stroke-width="0.35"/>
<rect x="361.55" y="405.08" width="7.61" height="9.63" fill="#c0c0ef" stroke="#ffffff" stroke-width="0.35"/>
<rect x="369.16" y="405.08" width="7.61" height="9.63" fill="#fff9f9" stroke="#ffffff" stroke-width="0.35"/>
<rect x="376.77" y="405.08" width="7.61" height="9.63" fill="#c0c0ef" stroke="#ffffff" stroke-width="0.35"/>
<rect x="384.38" y="405.08" width="7.61" height="9.63" fill="#ababea" stroke="#ffffff" stroke-width="0.35"/>
<rect x="391.99" y="405.08" width="7.61" height="9.63" fill="#d5d5f4" stroke="#ffffff" stroke-width="0.35"/>
<rect x="323.5" y="414.71" width="7.61" height="9.63" fill="#c0c0ef" stroke="#ffffff" stroke-width="0.35"/>
<rect x="331.11" y="414.71" width="7.61" height="9.63" fill="#6262d7" stroke="#ffffff" stroke-width="0.35"/>
<rect x="338.72" y="414.71" width="7.61" height="9.63" fill="#ffdada" stroke="#ffffff" stroke-width="0.35"/>
<rect x="346.33" y="414.71" width="7.61" height="9.63" fill="#4d4dd2" stroke="#ffffff" stroke-width="0.35"/>
<rect x="353.94" y="414.71" width="7.61" height="9.63" fill="#ffe6e6" stroke="#ffffff" stroke-width="0.35"/>
<rect x="361.55" y="414.71" width="7.61" height="9.63" fill="#e0e0f7" stroke="#ffffff" stroke-width="0.35"/>
<rect x="369.16" y="414.71" width="7.61" height="9.63" fill="#ffdada" stroke="#ffffff" stroke-width="0.35"/>
<rect x="376.77" y="414.71" width="7.61" height="9.63" fill="#ffb5b5" stroke="#ffffff" stroke-width="0.35"/>
<rect x="384.38" y="414.71" width="7.61" height="9.63" fill="#7777dc" stroke="#ffffff" stroke-width="0.35"/>
<rect x="391.99" y="414.71" width="7.61" height="9.63" fill="#ababea" stroke="#ffffff" stroke-width="0.35"/>
<rect x="323.5" y="424.34" width="7.61" height="9.63" fill="#b6b6ec" stroke="#ffffff" stroke-width="0.35"/>
<rect x="331.11" y="424.34" width="7.61" height="9.63" fill="#9696e4" stroke="#ffffff" stroke-width="0.35"/>
<rect x="338.72" y="424.34" width="7.61" height="9.63" fill="#ff6b6b" stroke="#ffffff" stroke-width="0.35"/>
<rect x="346.33" y="424.34" width="7.61" height="9.63" fill="#b6b6ec" stroke="#ffffff" stroke-width="0.35"/>
<rect x="353.94" y="424.34" width="7.61" height="9.63" fill="#eaeafa" stroke="#ffffff" stroke-width="0.35"/>
<rect x="361.55" y="424.34" width="7.61" height="9.63" fill="#cbcbf2" stroke="#ffffff" stroke-width="0.35"/>
<rect x="369.16" y="424.34" width="7.61" height="9.63" fill="#fafafe" stroke="#ffffff" stroke-width="0.35"/>
<rect x="376.77" y="424.34" width="7.61" height="9.63" fill="#ffe0e0" stroke="#ffffff" stroke-width="0.35"/>
<rect x="384.38" y="424.34" width="7.61" height="9.63" fill="#5757d4" stroke="#ffffff" stroke-width="0.35"/>
<rect x="391.99" y="424.34" width="7.61" height="9.63" fill="#cbcbf2" stroke="#ffffff" stroke-width="0.35"/>
<rect x="323.5" y="433.97" width="7.61" height="9.63" fill="#e0e0f7" stroke="#ffffff" stroke-width="0.35"/>
<rect x="331.11" y="433.97" width="7.61" height="9.63" fill="#c0c0ef" stroke="#ffffff" stroke-width="0.35"/>
<rect x="338.72" y="433.97" width="7.61" height="9.63" fill="#ffdada" stroke="#ffffff" stroke-width="0.35"/>
<rect x="346.33" y="433.97" width="7.61" height="9.63" fill="#b6b6ec" stroke="#ffffff" stroke-width="0.35"/>
<rect x="353.94" y="433.97" width="7.61" height="9.63" fill="#fafafe" stroke="#ffffff" stroke-width="0.35"/>
<rect x="361.55" y="433.97" width="7.61" height="9.63" fill="#ababea" stroke="#ffffff" stroke-width="0.35"/>
<rect x="369.16" y="433.97" width="7.61" height="9.63" fill="#d5d5f4" stroke="#ffffff" stroke-width="0.35"/>
<rect x="376.77" y="433.97" width="7.61" height="9.63" fill="#8c8ce2" stroke="#ffffff" stroke-width="0.35"/>
<rect x="384.38" y="433.97" width="7.61" height="9.63" fill="#9696e4" stroke="#ffffff" stroke-width="0.35"/>
<rect x="391.99" y="433.97" width="7.61" height="9.63" fill="#fafafe" stroke="#ffffff" stroke-width="0.35"/>
<rect x="399.6" y="318.4" width="7.71" height="9.63" fill="#ff8484" stroke="#ffffff" stroke-width="0.35"/>
<rect x="407.31" y="318.4" width="7.71" height="9.63" fill="#ffdada" stroke="#ffffff" stroke-width="0.35"/>
<rect x="415.02" y="318.4" width="7.71" height="9.63" fill="#ff7878" stroke="#ffffff" stroke-width="0.35"/>
<rect x="422.73" y="318.4" width="7.71" height="9.63" fill="#ff6b6b" stroke="#ffffff" stroke-width="0.35"/>
<rect x="430.44" y="318.4" width="7.71" height="9.63" fill="#ff9090" stroke="#ffffff" stroke-width="0.35"/>
<rect x="438.16" y="318.4" width="7.71" height="9.63" fill="#ff9090" stroke="#ffffff" stroke-width="0.35"/>
<rect x="445.87" y="318.4" width="7.71" height="9.63" fill="#ff6b6b" stroke="#ffffff" stroke-width="0.35"/>
<rect x="453.58" y="318.4" width="7.71" height="9.63" fill="#ffcece" stroke="#ffffff" stroke-width="0.35"/>
<rect x="461.29" y="318.4" width="7.71" height="9.63" fill="#ff6b6b" stroke="#ffffff" stroke-width="0.35"/>
<rect x="399.6" y="328.03" width="7.71" height="9.63" fill="#ff7878" stroke="#ffffff" stroke-width="0.35"/>
<rect x="407.31" y="328.03" width="7.71" height="9.63" fill="#fff3f3" stroke="#ffffff" stroke-width="0.35"/>
<rect x="415.02" y="328.03" width="7.71" height="9.63" fill="#ff9d9d" stroke="#ffffff" stroke-width="0.35"/>
<rect x="422.73" y="328.03" width="7.71" height="9.63" fill="#ff5f5f" stroke="#ffffff" stroke-width="0.35"/>
<rect x="430.44" y="328.03" width="7.71" height="9.63" fill="#ff9d9d" stroke="#ffffff" stroke-width="0.35"/>
<rect x="438.16" y="328.03" width="7.71" height="9.63" fill="#ffa9a9" stroke="#ffffff" stroke-width="0.35"/>
<rect x="445.87" y="328.03" width="7.71" height="9.63" fill="#ff9090" stroke="#ffffff" stroke-width="0.35"/>
<rect x="453.58" y="328.03" width="7.71" height="9.63" fill="#ffffff" stroke="#ffffff" stroke-width="0.35"/>
<rect x="461.29" y="328.03" width="7.71" height="9.63" fill="#ff6b6b" stroke="#ffffff" stroke-width="0.35"/>
<rect x="399.6" y="337.66" width="7.71" height="9.63" fill="#ff5f5f" stroke="#ffffff" stroke-width="0.35"/>
<rect x="407.31" y="337.66" width="7.71" height="9.63" fill="#ffdada" stroke="#ffffff" stroke-width="0.35"/>
<rect x="415.02" y="337.66" width="7.71" height="9.63" fill="#ff7878" stroke="#ffffff" stroke-width="0.35"/>
<rect x="422.73" y="337.66" width="7.71" height="9.63" fill="#ff4747" stroke="#ffffff" stroke-width="0.35"/>
<rect x="430.44" y="337.66" width="7.71" height="9.63" fill="#ff8484" stroke="#ffffff" stroke-width="0.35"/>
<rect x="438.16" y="337.66" width="7.71" height="9.63" fill="#ff8484" stroke="#ffffff" stroke-width="0.35"/>
<rect x="445.87" y="337.66" width="7.71" height="9.63" fill="#ff9d9d" stroke="#ffffff" stroke-width="0.35"/>
<rect x="453.58" y="337.66" width="7.71" height="9.63" fill="#ffe6e6" stroke="#ffffff" stroke-width="0.35"/>
<rect x="461.29" y="337.66" width="7.71" height="9.63" fill="#ff6b6b" stroke="#ffffff" stroke-width="0.35"/>
<rect x="399.6" y="347.29" width="7.71" height="9.63" fill="#ff5353" stroke="#ffffff" stroke-width="0.35"/>
<rect x="407.31" y="347.29" width="7.71" height="9.63" fill="#ffdada" stroke="#ffffff" stroke-width="0.35"/>
<rect x="415.02" y="347.29" width="7.71" height="9.63" fill="#ff5f5f" stroke="#ffffff" stroke-width="0.35"/>
<rect x="422.73" y="347.29" width="7.71" height="9.63" fill="#ff0000" stroke="#ffffff" stroke-width="0.35"/>
<rect x="430.44" y="347.29" width="7.71" height="9.63" fill="#ffa9a9" stroke="#ffffff" stroke-width="0.35"/>
<rect x="438.16" y="347.29" width="7.71" height="9.63" fill="#ff8484" stroke="#ffffff" stroke-width="0.35"/>
<rect x="445.87" y="347.29" width="7.71" height="9.63" fill="#ff7878" stroke="#ffffff" stroke-width="0.35"/>
<rect x="453.58" y="347.29" width="7.71" height="9.63" fill="#fff3f3" stroke="#ffffff" stroke-width="0.35"/>
<rect x="461.29" y="347.29" width="7.71" height="9.63" fill="#ff6b6b" stroke="#ffffff" stroke-width="0.35"/>
<rect x="399.6" y="356.92" width="7.71" height="9.63" fill="#ff9090" stroke="#ffffff" stroke-width="0.35"/>
<rect x="407.31" y="356.92" width="7.71" height="9.63" fill="#ffdada" stroke="#ffffff" stroke-width="0.35"/>
<rect x="415.02" y="356.92" width="7.71" height="9.63" fill="#ff4747" stroke="#ffffff" stroke-width="0.35"/>
<rect x="422.73" y="356.92" width="7.71" height="9.63" fill="#ff6b6b" stroke="#ffffff" stroke-width="0.35"/>
<rect x="430.44" y="356.92" width="7.71" height="9.63" fill="#ff9090" stroke="#ffffff" stroke-width="0.35"/>
<rect x="438.16" y="356.92" width="7.71" height="9.63" fill="#ff9090" stroke="#ffffff" stroke-width="0.35"/>
<rect x="445.87" y="356.92" width="7.71" height="9.63" fill="#ff9d9d" stroke="#ffffff" stroke-width="0.35"/>
<rect x="453.58" y="356.92" width="7.71" height="9.63" fill="#fafafe" stroke="#ffffff" stroke-width="0.35"/>
<rect x="461.29" y="356.92" width="7.71" height="9.63" fill="#ff6b6b" stroke="#ffffff" stroke-width="0.35"/>
<rect x="399.6" y="366.55" width="7.71" height="9.63" fill="#ff7878" stroke="#ffffff" stroke-width="0.35"/>
<rect x="407.31" y="366.55" width="7.71" height="9.63" fill="#ffe6e6" stroke="#ffffff" stroke-width="0.35"/>
<rect x="415.02" y="366.55" width="7.71" height="9.63" fill="#ff9d9d" stroke="#ffffff" stroke-width="0.35"/>
<rect x="422.73" y="366.55" width="7.71" height="9.63" fill="#ff5353" stroke="#ffffff" stroke-width="0.35"/>
<rect x="430.44" y="366.55" width="7.71" height="9.63" fill="#ff8484" stroke="#ffffff" stroke-width="0.35"/>
<rect x="438.16" y="366.55" width="7.71" height="9.63" fill="#ff8484" stroke="#ffffff" stroke-width="0.35"/>
<rect x="445.87" y="366.55" width="7.71" height="9.63" fill="#ff9d9d" stroke="#ffffff" stroke-width="0.35"/>
<rect x="453.58" y="366.55" width="7.71" height="9.63" fill="#ffdada" stroke="#ffffff" stroke-width="0.35"/>
<rect x="461.29" y="366.55" width="7.71" height="9.63" fill="#ff7878" stroke="#ffffff" stroke-width="0.35"/>
<rect x="399.6" y="376.18" width="7.71" height="9.63" fill="#ff9d9d" stroke="#ffffff" stroke-width="0.35"/>
<rect x="407.31" y="376.18" width="7.71" height="9.63" fill="#ffc2c2" stroke="#ffffff" stroke-width="0.35"/>
<rect x="415.02" y="376.18" width="7.71" height="9.63" fill="#ffb5b5" stroke="#ffffff" stroke-width="0.35"/>
<rect x="422.73" y="376.18" width="7.71" height="9.63" fill="#ff9090" stroke="#ffffff" stroke-width="0.35"/>
<rect x="430.44" y="376.18" width="7.71" height="9.63" fill="#ff9d9d" stroke="#ffffff" stroke-width="0.35"/>
<rect x="438.16" y="376.18" width="7.71" height="9.63" fill="#ff9d9d" stroke="#ffffff" stroke-width="0.35"/>
<rect x="445.87" y="376.18" width="7.71" height="9.63" fill="#ff7878" stroke="#ffffff" stroke-width="0.35"/>
<rect x="453.58" y="376.18" width="7.71" height="9.63" fill="#ffcece" stroke="#ffffff" stroke-width="0.35"/>
<rect x="461.29" y="376.18" width="7.71" height="9.63" fill="#ff9090" stroke="#ffffff" stroke-width="0.35"/>
<rect x="399.6" y="385.82" width="7.71" height="9.63" fill="#ff9d9d" stroke="#ffffff" stroke-width="0.35"/>
<rect x="407.31" y="385.82" width="7.71" height="9.63" fill="#ffdada" stroke="#ffffff" stroke-width="0.35"/>
<rect x="415.02" y="385.82" width="7.71" height="9.63" fill="#ff9d9d" stroke="#ffffff" stroke-width="0.35"/>
<rect x="422.73" y="385.82" width="7.71" height="9.63" fill="#ffa9a9" stroke="#ffffff" stroke-width="0.35"/>
<rect x="430.44" y="385.82" width="7.71" height="9.63" fill="#ffa9a9" stroke="#ffffff" stroke-width="0.35"/>
<rect x="438.16" y="385.82" width="7.71" height="9.63" fill="#ff7878" stroke="#ffffff" stroke-width="0.35"/>
<rect x="445.87" y="385.82" width="7.71" height="9.63" fill="#ff6b6b" stroke="#ffffff" stroke-width="0.35"/>
<rect x="453.58" y="385.82" width="7.71" height="9.63" fill="#ffe6e6" stroke="#ffffff" stroke-width="0.35"/>
<rect x="461.29" y="385.82" width="7.71" height="9.63" fill="#ff7878" stroke="#ffffff" stroke-width="0.35"/>
<rect x="399.6" y="395.45" width="7.71" height="9.63" fill="#ff9d9d" stroke="#ffffff" stroke-width="0.35"/>
<rect x="407.31" y="395.45" width="7.71" height="9.63" fill="#ffcece" stroke="#ffffff" stroke-width="0.35"/>
<rect x="415.02" y="395.45" width="7.71" height="9.63" fill="#ffa9a9" stroke="#ffffff" stroke-width="0.35"/>
<rect x="422.73" y="395.45" width="7.71" height="9.63" fill="#ffa9a9" stroke="#ffffff" stroke-width="0.35"/>
<rect x="430.44" y="395.45" width="7.71" height="9.63" fill="#ff9d9d" stroke="#ffffff" stroke-width="0.35"/>
<rect x="438.16" y="395.45" width="7.71" height="9.63" fill="#ff9090" stroke="#ffffff" stroke-width="0.35"/>
<rect x="445.87" y="395.45" width="7.71" height="9.63" fill="#ff6b6b" stroke="#ffffff" stroke-width="0.35"/>
<rect x="453.58" y="395.45" width="7.71" height="9.63" fill="#fff3f3" stroke="#ffffff" stroke-width="0.35"/>
<rect x="461.29" y="395.45" width="7.71" height="9.63" fill="#ff8484" stroke="#ffffff" stroke-width="0.35"/>
<rect x="399.6" y="405.08" width="7.71" height="9.63" fill="#ff5353" stroke="#ffffff" stroke-width="0.35"/>
<rect x="407.31" y="405.08" width="7.71" height="9.63" fill="#fff9f9" stroke="#ffffff" stroke-width="0.35"/>
<rect x="415.02" y="405.08" width="7.71" height="9.63" fill="#ff7878" stroke="#ffffff" stroke-width="0.35"/>
<rect x="422.73" y="405.08" width="7.71" height="9.63" fill="#ff3a3a" stroke="#ffffff" stroke-width="0.35"/>
<rect x="430.44" y="405.08" width="7.71" height="9.63" fill="#ff8484" stroke="#ffffff" stroke-width="0.35"/>
<rect x="438.16" y="405.08" width="7.71" height="9.63" fill="#ff7878" stroke="#ffffff" stroke-width="0.35"/>
<rect x="445.87" y="405.08" width="7.71" height="9.63" fill="#ff7878" stroke="#ffffff" stroke-width="0.35"/>
<rect x="453.58" y="405.08" width="7.71" height="9.63" fill="#fff3f3" stroke="#ffffff" stroke-width="0.35"/>
<rect x="461.29" y="405.08" width="7.71" height="9.63" fill="#ff4747" stroke="#ffffff" stroke-width="0.35"/>
<rect x="399.6" y="414.71" width="7.71" height="9.63" fill="#ff7878" stroke="#ffffff" stroke-width="0.35"/>
<rect x="407.31" y="414.71" width="7.71" height="9.63" fill="#ff9090" stroke="#ffffff" stroke-width="0.35"/>
<rect x="415.02" y="414.71" width="7.71" height="9.63" fill="#ffc2c2" stroke="#ffffff" stroke-width="0.35"/>
<rect x="422.73" y="414.71" width="7.71" height="9.63" fill="#f5f5fc" stroke="#ffffff" stroke-width="0.35"/>
<rect x="430.44" y="414.71" width="7.71" height="9.63" fill="#ffb5b5" stroke="#ffffff" stroke-width="0.35"/>
<rect x="438.16" y="414.71" width="7.71" height="9.63" fill="#ffa9a9" stroke="#ffffff" stroke-width="0.35"/>
<rect x="445.87" y="414.71" width="7.71" height="9.63" fill="#ff9d9d" stroke="#ffffff" stroke-width="0.35"/>
<rect x="453.58" y="414.71" width="7.71" height="9.63" fill="#ffcece" stroke="#ffffff" stroke-width="0.35"/>
<rect x="461.29" y="414.71" width="7.71" height="9.63" fill="#ff4747" stroke="#ffffff" stroke-width="0.35"/>
<rect x="399.6" y="424.34" width="7.71" height="9.63" fill="#ff9d9d" stroke="#ffffff" stroke-width="0.35"/>
<rect x="407.31" y="424.34" width="7.71" height="9.63" fill="#ff9090" stroke="#ffffff" stroke-width="0.35"/>
<rect x="415.02" y="424.34" width="7.71" height="9.63" fill="#fff3f3" stroke="#ffffff" stroke-width="0.35"/>
<rect x="422.73" y="424.34" width="7.71" height="9.63" fill="#ffdada" stroke="#ffffff" stroke-width="0.35"/>
<rect x="430.44" y="424.34" width="7.71" height="9.63" fill="#ffb5b5" stroke="#ffffff" stroke-width="0.35"/>
<rect x="438.16" y="424.34" width="7.71" height="9.63" fill="#ff9090" stroke="#ffffff" stroke-width="0.35"/>
<rect x="445.87" y="424.34" width="7.71" height="9.63" fill="#ff8484" stroke="#ffffff" stroke-width="0.35"/>
<rect x="453.58" y="424.34" width="7.71" height="9.63" fill="#ffb5b5" stroke="#ffffff" stroke-width="0.35"/>
<rect x="461.29" y="424.34" width="7.71" height="9.63" fill="#ff9090" stroke="#ffffff" stroke-width="0.35"/>
<rect x="399.6" y="433.97" width="7.71" height="9.63" fill="#ff7878" stroke="#ffffff" stroke-width="0.35"/>
<rect x="407.31" y="433.97" width="7.71" height="9.63" fill="#ffdada" stroke="#ffffff" stroke-width="0.35"/>
<rect x="415.02" y="433.97" width="7.71" height="9.63" fill="#ffa9a9" stroke="#ffffff" stroke-width="0.35"/>
<rect x="422.73" y="433.97" width="7.71" height="9.63" fill="#ff8484" stroke="#ffffff" stroke-width="0.35"/>
<rect x="430.44" y="433.97" width="7.71" height="9.63" fill="#ff9d9d" stroke="#ffffff" stroke-width="0.35"/>
<rect x="438.16" y="433.97" width="7.71" height="9.63" fill="#ff9090" stroke="#ffffff" stroke-width="0.35"/>
<rect x="445.87" y="433.97" width="7.71" height="9.63" fill="#ff8484" stroke="#ffffff" stroke-width="0.35"/>
<rect x="453.58" y="433.97" width="7.71" height="9.63" fill="#ffb5b5" stroke="#ffffff" stroke-width="0.35"/>
<rect x="461.29" y="433.97" width="7.71" height="9.63" fill="#ff9090" stroke="#ffffff" stroke-width="0.35"/>
<line x1="246.6" y1="318.4" x2="246.6" y2="443.6" stroke="#262626" stroke-width="1.5"/>
<line x1="323.5" y1="318.4" x2="323.5" y2="443.6" stroke="#262626" stroke-width="1.5"/>
<line x1="399.6" y1="318.4" x2="399.6" y2="443.6" stroke="#262626" stroke-width="1.5"/>
<line x1="170.3" y1="376.18" x2="469" y2="376.18" stroke="#262626" stroke-width="1.5"/>
<line x1="170.3" y1="414.71" x2="469" y2="414.71" stroke="#262626" stroke-width="1.5"/>
<rect x="170.3" y="318.4" width="298.7" height="125.2" fill="none" stroke="#1a1a1a" stroke-width="1.5"/>
<line x1="165.6" y1="323.22" x2="169.6" y2="323.22" stroke="#222" stroke-width="1"/>
<text x="165" y="326.2" font-size="8.3" font-style="italic" fill="#222" text-anchor="end">Cd8a</text>
<line x1="165.6" y1="332.85" x2="169.6" y2="332.85" stroke="#222" stroke-width="1"/>
<text x="165" y="335.83" font-size="8.3" font-style="italic" fill="#222" text-anchor="end">Gzma</text>
<line x1="165.6" y1="342.48" x2="169.6" y2="342.48" stroke="#222" stroke-width="1"/>
<text x="165" y="345.46" font-size="8.3" font-style="italic" fill="#222" text-anchor="end">Gzmb</text>
<line x1="165.6" y1="352.11" x2="169.6" y2="352.11" stroke="#222" stroke-width="1"/>
<text x="165" y="355.1" font-size="8.3" font-style="italic" fill="#222" text-anchor="end">Gzmk</text>
<line x1="165.6" y1="361.74" x2="169.6" y2="361.74" stroke="#222" stroke-width="1"/>
<text x="165" y="364.73" font-size="8.3" font-style="italic" fill="#222" text-anchor="end">Ifng</text>
<line x1="165.6" y1="371.37" x2="169.6" y2="371.37" stroke="#222" stroke-width="1"/>
<text x="165" y="374.36" font-size="8.3" font-style="italic" fill="#222" text-anchor="end">Prf1</text>
<line x1="165.6" y1="381" x2="169.6" y2="381" stroke="#222" stroke-width="1"/>
<text x="165" y="383.99" font-size="8.3" font-style="italic" fill="#222" text-anchor="end">Cxcl9</text>
<line x1="165.6" y1="390.63" x2="169.6" y2="390.63" stroke="#222" stroke-width="1"/>
<text x="165" y="393.62" font-size="8.3" font-style="italic" fill="#222" text-anchor="end">Cxcl10</text>
<line x1="165.6" y1="400.26" x2="169.6" y2="400.26" stroke="#222" stroke-width="1"/>
<text x="165" y="403.25" font-size="8.3" font-style="italic" fill="#222" text-anchor="end">Cxcl11</text>
<line x1="165.6" y1="409.89" x2="169.6" y2="409.89" stroke="#222" stroke-width="1"/>
<text x="165" y="412.88" font-size="8.3" font-style="italic" fill="#222" text-anchor="end">Ccl5</text>
<line x1="165.6" y1="419.52" x2="169.6" y2="419.52" stroke="#222" stroke-width="1"/>
<text x="165" y="422.51" font-size="8.3" font-style="italic" fill="#222" text-anchor="end">Psmb8</text>
<line x1="165.6" y1="429.15" x2="169.6" y2="429.15" stroke="#222" stroke-width="1"/>
<text x="165" y="432.14" font-size="8.3" font-style="italic" fill="#222" text-anchor="end">Psmb9</text>
<line x1="165.6" y1="438.78" x2="169.6" y2="438.78" stroke="#222" stroke-width="1"/>
<text x="165" y="441.77" font-size="8.3" font-style="italic" fill="#222" text-anchor="end">Tap1</text>
<text x="111.6" y="348.51" font-size="9.2" fill="#222" text-anchor="middle">CD8+Teff</text>
<text x="111.6" y="392.91" font-size="9.2" fill="#222" text-anchor="middle">Chemokine</text>
<text x="112" y="422.11" font-size="9.2" fill="#222" text-anchor="middle">Antigen</text>
<text x="111.6" y="432.61" font-size="9.2" fill="#222" text-anchor="middle">presentation</text>
<text x="210.9" y="313.54" font-size="9" fill="#222" text-anchor="middle">Isotype control</text>
<text x="290" y="313.54" font-size="9" fill="#222" text-anchor="middle">Anti-PD-L1</text>
<text x="356.6" y="312.84" font-size="9" fill="#222" text-anchor="middle">SOF10(mFc)</text>
<text x="428.1" y="304.64" font-size="9" fill="#222" text-anchor="middle">Anti-PD-L1</text>
<text x="428.4" y="315.84" font-size="9" fill="#222" text-anchor="middle">+SOF10(mFc)</text>
<defs><linearGradient id="cb" x1="0" y1="0" x2="0" y2="1"><stop offset="0" stop-color="#ff0000"/><stop offset="0.5" stop-color="#ffffff"/><stop offset="1" stop-color="#0000be"/></linearGradient></defs>
<rect x="483.6" y="318.6" width="11" height="79.5" fill="url(#cb)" stroke="#333" stroke-width="1"/>
<line x1="483.6" y1="329.4" x2="485.6" y2="329.4" stroke="#333" stroke-width="1"/>
<line x1="492.6" y1="329.4" x2="494.6" y2="329.4" stroke="#333" stroke-width="1"/>
<text x="500.4" y="333.05" font-size="8.2" fill="#222">2</text>
<line x1="483.6" y1="343.65" x2="485.6" y2="343.65" stroke="#333" stroke-width="1"/>
<line x1="492.6" y1="343.65" x2="494.6" y2="343.65" stroke="#333" stroke-width="1"/>
<text x="500.4" y="347.3" font-size="8.2" fill="#222">1</text>
<line x1="483.6" y1="357.9" x2="485.6" y2="357.9" stroke="#333" stroke-width="1"/>
<line x1="492.6" y1="357.9" x2="494.6" y2="357.9" stroke="#333" stroke-width="1"/>
<text x="500.4" y="361.55" font-size="8.2" fill="#222">0</text>
<line x1="483.6" y1="372.15" x2="485.6" y2="372.15" stroke="#333" stroke-width="1"/>
<line x1="492.6" y1="372.15" x2="494.6" y2="372.15" stroke="#333" stroke-width="1"/>
<text x="500.4" y="375.8" font-size="8.2" fill="#222">-1</text>
<line x1="483.6" y1="386.4" x2="485.6" y2="386.4" stroke="#333" stroke-width="1"/>
<line x1="492.6" y1="386.4" x2="494.6" y2="386.4" stroke="#333" stroke-width="1"/>
<text x="500.4" y="390.05" font-size="8.2" fill="#222">-2</text>
<text transform="translate(6.9,546.5) rotate(-90)" font-size="9.4" text-anchor="middle">Log2 normalized count</text>
<rect x="27.85" y="473.4" width="107.05" height="136.8" fill="none" stroke="#c8c8c8" stroke-width="0.8"/>
<line x1="24.85" y1="610.2" x2="27.85" y2="610.2" stroke="#999" stroke-width="0.7"/>
<text x="23.65" y="612.65" font-size="6.8" fill="#555" text-anchor="end">0</text>
<line x1="24.85" y1="591.92" x2="27.85" y2="591.92" stroke="#999" stroke-width="0.7"/>
<text x="23.65" y="594.37" font-size="6.8" fill="#555" text-anchor="end">1</text>
<line x1="24.85" y1="573.64" x2="27.85" y2="573.64" stroke="#999" stroke-width="0.7"/>
<text x="23.65" y="576.09" font-size="6.8" fill="#555" text-anchor="end">2</text>
<line x1="24.85" y1="555.36" x2="27.85" y2="555.36" stroke="#999" stroke-width="0.7"/>
<text x="23.65" y="557.81" font-size="6.8" fill="#555" text-anchor="end">3</text>
<line x1="24.85" y1="537.08" x2="27.85" y2="537.08" stroke="#999" stroke-width="0.7"/>
<text x="23.65" y="539.53" font-size="6.8" fill="#555" text-anchor="end">4</text>
<line x1="24.85" y1="518.8" x2="27.85" y2="518.8" stroke="#999" stroke-width="0.7"/>
<text x="23.65" y="521.25" font-size="6.8" fill="#555" text-anchor="end">5</text>
<line x1="24.85" y1="500.52" x2="27.85" y2="500.52" stroke="#999" stroke-width="0.7"/>
<text x="23.65" y="502.97" font-size="6.8" fill="#555" text-anchor="end">6</text>
<line x1="24.85" y1="482.24" x2="27.85" y2="482.24" stroke="#999" stroke-width="0.7"/>
<text x="23.65" y="484.69" font-size="6.8" fill="#555" text-anchor="end">7</text>
<text x="79.7" y="467.5" font-size="10" font-weight="bold" font-style="italic" text-anchor="middle">Ifng</text>
<line x1="41.2" y1="522.46" x2="41.2" y2="543.3" stroke="#3a3a3a" stroke-width="0.8"/>
<line x1="41.2" y1="564.5" x2="41.2" y2="579.49" stroke="#3a3a3a" stroke-width="0.8"/>
<line x1="34.5" y1="522.46" x2="47.9" y2="522.46" stroke="#3a3a3a" stroke-width="0.8"/>
<line x1="34.5" y1="579.49" x2="47.9" y2="579.49" stroke="#3a3a3a" stroke-width="0.8"/>
<rect x="34.5" y="543.3" width="13.4" height="21.2" fill="none" stroke="#3a3a3a" stroke-width="0.8"/>
<line x1="34.5" y1="552.44" x2="47.9" y2="552.44" stroke="#3a3a3a" stroke-width="0.8"/>
<circle cx="41.2" cy="522.46" r="1.45" fill="#0b3c9c"/>
<circle cx="41.2" cy="535.25" r="1.45" fill="#0b3c9c"/>
<circle cx="41.2" cy="546.04" r="1.45" fill="#0b3c9c"/>
<circle cx="39.5" cy="549.88" r="1.45" fill="#0b3c9c"/>
<circle cx="41.2" cy="549.88" r="1.45" fill="#0b3c9c"/>
<circle cx="42.9" cy="549.88" r="1.45" fill="#0b3c9c"/>
<circle cx="41.2" cy="552.62" r="1.45" fill="#0b3c9c"/>
<circle cx="41.2" cy="557.92" r="1.45" fill="#0b3c9c"/>
<circle cx="41.2" cy="561.76" r="1.45" fill="#0b3c9c"/>
<circle cx="41.2" cy="574.01" r="1.45" fill="#0b3c9c"/>
<circle cx="41.2" cy="579.49" r="1.45" fill="#0b3c9c"/>
<line x1="68.1" y1="510.57" x2="68.1" y2="521.36" stroke="#3a3a3a" stroke-width="0.8"/>
<line x1="68.1" y1="548.05" x2="68.1" y2="577.84" stroke="#3a3a3a" stroke-width="0.8"/>
<line x1="61.4" y1="510.57" x2="74.8" y2="510.57" stroke="#3a3a3a" stroke-width="0.8"/>
<line x1="61.4" y1="577.84" x2="74.8" y2="577.84" stroke="#3a3a3a" stroke-width="0.8"/>
<rect x="61.4" y="521.36" width="13.4" height="26.69" fill="none" stroke="#3a3a3a" stroke-width="0.8"/>
<line x1="61.4" y1="536.35" x2="74.8" y2="536.35" stroke="#3a3a3a" stroke-width="0.8"/>
<circle cx="68.1" cy="510.57" r="1.45" fill="#0b3c9c"/>
<circle cx="68.1" cy="518.25" r="1.45" fill="#0b3c9c"/>
<circle cx="66.8" cy="523.19" r="1.45" fill="#0b3c9c"/>
<circle cx="69.4" cy="523.19" r="1.45" fill="#0b3c9c"/>
<circle cx="68.1" cy="532.69" r="1.45" fill="#0b3c9c"/>
<circle cx="66.8" cy="540" r="1.45" fill="#0b3c9c"/>
<circle cx="69.4" cy="540" r="1.45" fill="#0b3c9c"/>
<circle cx="66.8" cy="548.05" r="1.45" fill="#0b3c9c"/>
<circle cx="69.4" cy="548.05" r="1.45" fill="#0b3c9c"/>
<circle cx="68.1" cy="577.84" r="1.45" fill="#0b3c9c"/>
<line x1="94.7" y1="528.49" x2="94.7" y2="549.69" stroke="#3a3a3a" stroke-width="0.8"/>
<line x1="94.7" y1="577.11" x2="94.7" y2="595.21" stroke="#3a3a3a" stroke-width="0.8"/>
<line x1="88" y1="528.49" x2="101.4" y2="528.49" stroke="#3a3a3a" stroke-width="0.8"/>
<line x1="88" y1="595.21" x2="101.4" y2="595.21" stroke="#3a3a3a" stroke-width="0.8"/>
<rect x="88" y="549.69" width="13.4" height="27.42" fill="none" stroke="#3a3a3a" stroke-width="0.8"/>
<line x1="88" y1="561.03" x2="101.4" y2="561.03" stroke="#3a3a3a" stroke-width="0.8"/>
<circle cx="93.4" cy="529.4" r="1.45" fill="#0b3c9c"/>
<circle cx="96" cy="529.4" r="1.45" fill="#0b3c9c"/>
<circle cx="94.7" cy="553.53" r="1.45" fill="#0b3c9c"/>
<circle cx="94.7" cy="556.82" r="1.45" fill="#0b3c9c"/>
<circle cx="93.4" cy="560.84" r="1.45" fill="#0b3c9c"/>
<circle cx="96" cy="560.84" r="1.45" fill="#0b3c9c"/>
<circle cx="94.7" cy="569.98" r="1.45" fill="#0b3c9c"/>
<circle cx="94.7" cy="573.64" r="1.45" fill="#0b3c9c"/>
<circle cx="94.7" cy="585.52" r="1.45" fill="#0b3c9c"/>
<circle cx="94.7" cy="594.84" r="1.45" fill="#0b3c9c"/>
<line x1="121.4" y1="495.04" x2="121.4" y2="502.35" stroke="#3a3a3a" stroke-width="0.8"/>
<line x1="121.4" y1="526.11" x2="121.4" y2="543.48" stroke="#3a3a3a" stroke-width="0.8"/>
<line x1="114.7" y1="495.04" x2="128.1" y2="495.04" stroke="#3a3a3a" stroke-width="0.8"/>
<line x1="114.7" y1="543.48" x2="128.1" y2="543.48" stroke="#3a3a3a" stroke-width="0.8"/>
<rect x="114.7" y="502.35" width="13.4" height="23.76" fill="none" stroke="#3a3a3a" stroke-width="0.8"/>
<line x1="114.7" y1="513.32" x2="128.1" y2="513.32" stroke="#3a3a3a" stroke-width="0.8"/>
<circle cx="121.4" cy="495.4" r="1.45" fill="#0b3c9c"/>
<circle cx="120.1" cy="502.35" r="1.45" fill="#0b3c9c"/>
<circle cx="122.7" cy="502.35" r="1.45" fill="#0b3c9c"/>
<circle cx="121.4" cy="511.49" r="1.45" fill="#0b3c9c"/>
<circle cx="119.2" cy="514.23" r="1.45" fill="#0b3c9c"/>
<circle cx="121.4" cy="514.23" r="1.45" fill="#0b3c9c"/>
<circle cx="123.6" cy="514.23" r="1.45" fill="#0b3c9c"/>
<circle cx="121.4" cy="535.25" r="1.45" fill="#0b3c9c"/>
<circle cx="121.4" cy="543.48" r="1.45" fill="#0b3c9c"/>
<line x1="35.9" y1="480.3" x2="128.8" y2="480.3" stroke="#808080" stroke-width="1"/>
<text x="85.1" y="478.68" font-size="5.77" fill="#333" text-anchor="middle"><tspan font-size="7.56" dy="1.3">***</tspan><tspan dy="-1.3"> P=0.0004</tspan></text>
<line x1="62.3" y1="487" x2="93" y2="487" stroke="#808080" stroke-width="1"/>
<text x="77.1" y="484.98" font-size="5.77" fill="#333" text-anchor="middle"><tspan font-size="7.56" dy="1.3">*</tspan><tspan dy="-1.3"> P=0.0190</tspan></text>
<line x1="97" y1="486.8" x2="126.7" y2="486.8" stroke="#808080" stroke-width="1"/>
<text x="114.8" y="484.98" font-size="5.77" fill="#333" text-anchor="middle"><tspan font-size="7.56" dy="1.3">****</tspan><tspan dy="-1.3"> P&lt;0.0001</tspan></text>
<text transform="translate(44.2,614.5) rotate(-45)" font-size="8" fill="#222" text-anchor="end">Isotype control</text>
<text transform="translate(71.1,614.5) rotate(-45)" font-size="8" fill="#222" text-anchor="end">anti-PD-L1</text>
<text transform="translate(97.7,614.5) rotate(-45)" font-size="8" fill="#222" text-anchor="end">SOF10(mFc)</text>
<text transform="translate(124.4,614.5) rotate(-45)" font-size="8" fill="#222" text-anchor="end">anti-PD-L1+SOF10(mFc)</text>
<rect x="160" y="471" width="107.8" height="138.6" fill="none" stroke="#c8c8c8" stroke-width="0.8"/>
<line x1="157" y1="609.6" x2="160" y2="609.6" stroke="#999" stroke-width="0.7"/>
<text x="155.8" y="612.05" font-size="6.8" fill="#555" text-anchor="end">2</text>
<line x1="157" y1="592.27" x2="160" y2="592.27" stroke="#999" stroke-width="0.7"/>
<text x="155.8" y="594.72" font-size="6.8" fill="#555" text-anchor="end">3</text>
<line x1="157" y1="574.94" x2="160" y2="574.94" stroke="#999" stroke-width="0.7"/>
<text x="155.8" y="577.39" font-size="6.8" fill="#555" text-anchor="end">4</text>
<line x1="157" y1="557.61" x2="160" y2="557.61" stroke="#999" stroke-width="0.7"/>
<text x="155.8" y="560.06" font-size="6.8" fill="#555" text-anchor="end">5</text>
<line x1="157" y1="540.28" x2="160" y2="540.28" stroke="#999" stroke-width="0.7"/>
<text x="155.8" y="542.73" font-size="6.8" fill="#555" text-anchor="end">6</text>
<line x1="157" y1="522.95" x2="160" y2="522.95" stroke="#999" stroke-width="0.7"/>
<text x="155.8" y="525.4" font-size="6.8" fill="#555" text-anchor="end">7</text>
<line x1="157" y1="505.62" x2="160" y2="505.62" stroke="#999" stroke-width="0.7"/>
<text x="155.8" y="508.07" font-size="6.8" fill="#555" text-anchor="end">8</text>
<line x1="157" y1="488.29" x2="160" y2="488.29" stroke="#999" stroke-width="0.7"/>
<text x="155.8" y="490.74" font-size="6.8" fill="#555" text-anchor="end">9</text>
<line x1="157" y1="470.96" x2="160" y2="470.96" stroke="#999" stroke-width="0.7"/>
<text x="155.8" y="473.41" font-size="6.8" fill="#555" text-anchor="end">10</text>
<text x="213.3" y="467.5" font-size="10" font-weight="bold" font-style="italic" text-anchor="middle">Prf1</text>
<line x1="173.8" y1="523.82" x2="173.8" y2="537.68" stroke="#3a3a3a" stroke-width="0.8"/>
<line x1="173.8" y1="555.36" x2="173.8" y2="579.97" stroke="#3a3a3a" stroke-width="0.8"/>
<line x1="167.1" y1="523.82" x2="180.5" y2="523.82" stroke="#3a3a3a" stroke-width="0.8"/>
<line x1="167.1" y1="579.97" x2="180.5" y2="579.97" stroke="#3a3a3a" stroke-width="0.8"/>
<rect x="167.1" y="537.68" width="13.4" height="17.68" fill="none" stroke="#3a3a3a" stroke-width="0.8"/>
<line x1="167.1" y1="549.81" x2="180.5" y2="549.81" stroke="#3a3a3a" stroke-width="0.8"/>
<circle cx="173.8" cy="523.82" r="1.45" fill="#0b3c9c"/>
<circle cx="173.8" cy="535.08" r="1.45" fill="#0b3c9c"/>
<circle cx="173.8" cy="537.68" r="1.45" fill="#0b3c9c"/>
<circle cx="170.8" cy="548.08" r="1.45" fill="#0b3c9c"/>
<circle cx="172.8" cy="548.08" r="1.45" fill="#0b3c9c"/>
<circle cx="174.8" cy="548.08" r="1.45" fill="#0b3c9c"/>
<circle cx="176.8" cy="548.08" r="1.45" fill="#0b3c9c"/>
<circle cx="172.5" cy="552.41" r="1.45" fill="#0b3c9c"/>
<circle cx="175.1" cy="552.41" r="1.45" fill="#0b3c9c"/>
<circle cx="173.8" cy="564.54" r="1.45" fill="#0b3c9c"/>
<circle cx="173.8" cy="579.79" r="1.45" fill="#0b3c9c"/>
<line x1="200.8" y1="508.22" x2="200.8" y2="512.55" stroke="#3a3a3a" stroke-width="0.8"/>
<line x1="200.8" y1="544.27" x2="200.8" y2="572.34" stroke="#3a3a3a" stroke-width="0.8"/>
<line x1="194.1" y1="508.22" x2="207.5" y2="508.22" stroke="#3a3a3a" stroke-width="0.8"/>
<line x1="194.1" y1="572.34" x2="207.5" y2="572.34" stroke="#3a3a3a" stroke-width="0.8"/>
<rect x="194.1" y="512.55" width="13.4" height="31.71" fill="none" stroke="#3a3a3a" stroke-width="0.8"/>
<line x1="194.1" y1="529.88" x2="207.5" y2="529.88" stroke="#3a3a3a" stroke-width="0.8"/>
<circle cx="200.8" cy="507.35" r="1.45" fill="#0b3c9c"/>
<circle cx="200.8" cy="509.95" r="1.45" fill="#0b3c9c"/>
<circle cx="200.8" cy="513.42" r="1.45" fill="#0b3c9c"/>
<circle cx="200.8" cy="526.42" r="1.45" fill="#0b3c9c"/>
<circle cx="200.8" cy="529.88" r="1.45" fill="#0b3c9c"/>
<circle cx="200.8" cy="535.08" r="1.45" fill="#0b3c9c"/>
<circle cx="200.8" cy="541.15" r="1.45" fill="#0b3c9c"/>
<circle cx="200.8" cy="553.28" r="1.45" fill="#0b3c9c"/>
<circle cx="200.8" cy="572.34" r="1.45" fill="#0b3c9c"/>
<line x1="227.4" y1="528.15" x2="227.4" y2="534.21" stroke="#3a3a3a" stroke-width="0.8"/>
<line x1="227.4" y1="566.79" x2="227.4" y2="585.34" stroke="#3a3a3a" stroke-width="0.8"/>
<line x1="220.7" y1="528.15" x2="234.1" y2="528.15" stroke="#3a3a3a" stroke-width="0.8"/>
<line x1="220.7" y1="585.34" x2="234.1" y2="585.34" stroke="#3a3a3a" stroke-width="0.8"/>
<rect x="220.7" y="534.21" width="13.4" height="32.58" fill="none" stroke="#3a3a3a" stroke-width="0.8"/>
<line x1="220.7" y1="543.57" x2="234.1" y2="543.57" stroke="#3a3a3a" stroke-width="0.8"/>
<circle cx="227.4" cy="526.42" r="1.45" fill="#0b3c9c"/>
<circle cx="227.4" cy="530.75" r="1.45" fill="#0b3c9c"/>
<circle cx="227.4" cy="535.95" r="1.45" fill="#0b3c9c"/>
<circle cx="227.4" cy="540.28" r="1.45" fill="#0b3c9c"/>
<circle cx="227.4" cy="543.75" r="1.45" fill="#0b3c9c"/>
<circle cx="227.4" cy="552.41" r="1.45" fill="#0b3c9c"/>
<circle cx="226.1" cy="566.27" r="1.45" fill="#0b3c9c"/>
<circle cx="228.7" cy="566.27" r="1.45" fill="#0b3c9c"/>
<circle cx="227.4" cy="585.34" r="1.45" fill="#0b3c9c"/>
<line x1="254.1" y1="493.49" x2="254.1" y2="502.15" stroke="#3a3a3a" stroke-width="0.8"/>
<line x1="254.1" y1="520.35" x2="254.1" y2="530.75" stroke="#3a3a3a" stroke-width="0.8"/>
<line x1="247.4" y1="493.49" x2="260.8" y2="493.49" stroke="#3a3a3a" stroke-width="0.8"/>
<line x1="247.4" y1="530.75" x2="260.8" y2="530.75" stroke="#3a3a3a" stroke-width="0.8"/>
<rect x="247.4" y="502.15" width="13.4" height="18.2" fill="none" stroke="#3a3a3a" stroke-width="0.8"/>
<line x1="247.4" y1="505.62" x2="260.8" y2="505.62" stroke="#3a3a3a" stroke-width="0.8"/>
<circle cx="254.1" cy="493.49" r="1.45" fill="#0b3c9c"/>
<circle cx="252.8" cy="501.29" r="1.45" fill="#0b3c9c"/>
<circle cx="255.4" cy="501.29" r="1.45" fill="#0b3c9c"/>
<circle cx="252.8" cy="503.89" r="1.45" fill="#0b3c9c"/>
<circle cx="255.4" cy="503.89" r="1.45" fill="#0b3c9c"/>
<circle cx="254.1" cy="509.95" r="1.45" fill="#0b3c9c"/>
<circle cx="254.1" cy="513.42" r="1.45" fill="#0b3c9c"/>
<circle cx="254.1" cy="526.42" r="1.45" fill="#0b3c9c"/>
<circle cx="254.1" cy="530.75" r="1.45" fill="#0b3c9c"/>
<line x1="166.7" y1="476.4" x2="260" y2="476.4" stroke="#808080" stroke-width="1"/>
<text x="216.7" y="476.18" font-size="5.77" fill="#333" text-anchor="middle"><tspan font-size="7.56" dy="1.3">****</tspan><tspan dy="-1.3"> P&lt;0.0001</tspan></text>
<line x1="191.8" y1="484.1" x2="257.6" y2="484.1" stroke="#808080" stroke-width="1"/>
<text x="220.4" y="483.38" font-size="5.77" fill="#333" text-anchor="middle"><tspan font-size="7.56" dy="1.3">*</tspan><tspan dy="-1.3"> P=0.037</tspan></text>
<line x1="228" y1="491.5" x2="260" y2="491.5" stroke="#808080" stroke-width="1"/>
<text x="245.4" y="490.28" font-size="5.77" fill="#333" text-anchor="middle"><tspan font-size="7.56" dy="1.3">****</tspan><tspan dy="-1.3"> P&lt;0.0001</tspan></text>
<text transform="translate(176.8,613.9) rotate(-45)" font-size="8" fill="#222" text-anchor="end">Isotype control</text>
<text transform="translate(203.8,613.9) rotate(-45)" font-size="8" fill="#222" text-anchor="end">anti-PD-L1</text>
<text transform="translate(230.4,613.9) rotate(-45)" font-size="8" fill="#222" text-anchor="end">SOF10(mFc)</text>
<text transform="translate(257.1,613.9) rotate(-45)" font-size="8" fill="#222" text-anchor="end">anti-PD-L1+SOF10(mFc)</text>
<rect x="293.7" y="471.5" width="107.7" height="137" fill="none" stroke="#c8c8c8" stroke-width="0.8"/>
<line x1="290.7" y1="608.5" x2="293.7" y2="608.5" stroke="#999" stroke-width="0.7"/>
<text x="289.5" y="610.95" font-size="6.8" fill="#555" text-anchor="end">2</text>
<line x1="290.7" y1="590.3" x2="293.7" y2="590.3" stroke="#999" stroke-width="0.7"/>
<text x="289.5" y="592.75" font-size="6.8" fill="#555" text-anchor="end">3</text>
<line x1="290.7" y1="572.1" x2="293.7" y2="572.1" stroke="#999" stroke-width="0.7"/>
<text x="289.5" y="574.55" font-size="6.8" fill="#555" text-anchor="end">4</text>
<line x1="290.7" y1="553.9" x2="293.7" y2="553.9" stroke="#999" stroke-width="0.7"/>
<text x="289.5" y="556.35" font-size="6.8" fill="#555" text-anchor="end">5</text>
<line x1="290.7" y1="535.7" x2="293.7" y2="535.7" stroke="#999" stroke-width="0.7"/>
<text x="289.5" y="538.15" font-size="6.8" fill="#555" text-anchor="end">6</text>
<line x1="290.7" y1="517.5" x2="293.7" y2="517.5" stroke="#999" stroke-width="0.7"/>
<text x="289.5" y="519.95" font-size="6.8" fill="#555" text-anchor="end">7</text>
<line x1="290.7" y1="499.3" x2="293.7" y2="499.3" stroke="#999" stroke-width="0.7"/>
<text x="289.5" y="501.75" font-size="6.8" fill="#555" text-anchor="end">8</text>
<line x1="290.7" y1="481.1" x2="293.7" y2="481.1" stroke="#999" stroke-width="0.7"/>
<text x="289.5" y="483.55" font-size="6.8" fill="#555" text-anchor="end">9</text>
<text x="350" y="467.5" font-size="10" font-weight="bold" font-style="italic" text-anchor="middle">Gzmk</text>
<line x1="307.4" y1="546.26" x2="307.4" y2="547.53" stroke="#3a3a3a" stroke-width="0.8"/>
<line x1="307.4" y1="567.55" x2="307.4" y2="577.2" stroke="#3a3a3a" stroke-width="0.8"/>
<line x1="300.7" y1="546.26" x2="314.1" y2="546.26" stroke="#3a3a3a" stroke-width="0.8"/>
<line x1="300.7" y1="577.2" x2="314.1" y2="577.2" stroke="#3a3a3a" stroke-width="0.8"/>
<rect x="300.7" y="547.53" width="13.4" height="20.02" fill="none" stroke="#3a3a3a" stroke-width="0.8"/>
<line x1="300.7" y1="563" x2="314.1" y2="563" stroke="#3a3a3a" stroke-width="0.8"/>
<circle cx="304.4" cy="545.71" r="1.45" fill="#0b3c9c"/>
<circle cx="306.4" cy="545.71" r="1.45" fill="#0b3c9c"/>
<circle cx="308.4" cy="545.71" r="1.45" fill="#0b3c9c"/>
<circle cx="310.4" cy="545.71" r="1.45" fill="#0b3c9c"/>
<circle cx="307.4" cy="548.44" r="1.45" fill="#0b3c9c"/>
<circle cx="307.4" cy="560.27" r="1.45" fill="#0b3c9c"/>
<circle cx="307.4" cy="563" r="1.45" fill="#0b3c9c"/>
<circle cx="307.4" cy="563.91" r="1.45" fill="#0b3c9c"/>
<circle cx="307.4" cy="569.37" r="1.45" fill="#0b3c9c"/>
<circle cx="307.4" cy="577.2" r="1.45" fill="#0b3c9c"/>
<line x1="334" y1="540.25" x2="334" y2="542.98" stroke="#3a3a3a" stroke-width="0.8"/>
<line x1="334" y1="554.81" x2="334" y2="566.64" stroke="#3a3a3a" stroke-width="0.8"/>
<line x1="327.3" y1="540.25" x2="340.7" y2="540.25" stroke="#3a3a3a" stroke-width="0.8"/>
<line x1="327.3" y1="566.64" x2="340.7" y2="566.64" stroke="#3a3a3a" stroke-width="0.8"/>
<rect x="327.3" y="542.98" width="13.4" height="11.83" fill="none" stroke="#3a3a3a" stroke-width="0.8"/>
<line x1="327.3" y1="550.26" x2="340.7" y2="550.26" stroke="#3a3a3a" stroke-width="0.8"/>
<circle cx="334" cy="540.25" r="1.45" fill="#0b3c9c"/>
<circle cx="334" cy="542.07" r="1.45" fill="#0b3c9c"/>
<circle cx="334" cy="545.71" r="1.45" fill="#0b3c9c"/>
<circle cx="331.8" cy="549.35" r="1.45" fill="#0b3c9c"/>
<circle cx="334" cy="549.35" r="1.45" fill="#0b3c9c"/>
<circle cx="336.2" cy="549.35" r="1.45" fill="#0b3c9c"/>
<circle cx="334" cy="553.9" r="1.45" fill="#0b3c9c"/>
<circle cx="334" cy="558.45" r="1.45" fill="#0b3c9c"/>
<circle cx="334" cy="566.64" r="1.45" fill="#0b3c9c"/>
<circle cx="334" cy="524.78" r="1.65" fill="#111"/>
<line x1="361.2" y1="538.43" x2="361.2" y2="547.53" stroke="#3a3a3a" stroke-width="0.8"/>
<line x1="361.2" y1="570.28" x2="361.2" y2="579.38" stroke="#3a3a3a" stroke-width="0.8"/>
<line x1="354.5" y1="538.43" x2="367.9" y2="538.43" stroke="#3a3a3a" stroke-width="0.8"/>
<line x1="354.5" y1="579.38" x2="367.9" y2="579.38" stroke="#3a3a3a" stroke-width="0.8"/>
<rect x="354.5" y="547.53" width="13.4" height="22.75" fill="none" stroke="#3a3a3a" stroke-width="0.8"/>
<line x1="354.5" y1="556.63" x2="367.9" y2="556.63" stroke="#3a3a3a" stroke-width="0.8"/>
<circle cx="361.2" cy="538.43" r="1.45" fill="#0b3c9c"/>
<circle cx="359.9" cy="547.53" r="1.45" fill="#0b3c9c"/>
<circle cx="362.5" cy="547.53" r="1.45" fill="#0b3c9c"/>
<circle cx="361.2" cy="554.81" r="1.45" fill="#0b3c9c"/>
<circle cx="359.9" cy="556.63" r="1.45" fill="#0b3c9c"/>
<circle cx="362.5" cy="556.63" r="1.45" fill="#0b3c9c"/>
<circle cx="361.2" cy="558.45" r="1.45" fill="#0b3c9c"/>
<circle cx="361.2" cy="568.46" r="1.45" fill="#0b3c9c"/>
<circle cx="361.2" cy="573.92" r="1.45" fill="#0b3c9c"/>
<circle cx="361.2" cy="579.38" r="1.45" fill="#0b3c9c"/>
<line x1="388.3" y1="497.48" x2="388.3" y2="515.68" stroke="#3a3a3a" stroke-width="0.8"/>
<line x1="388.3" y1="538.43" x2="388.3" y2="546.62" stroke="#3a3a3a" stroke-width="0.8"/>
<line x1="381.6" y1="497.48" x2="395" y2="497.48" stroke="#3a3a3a" stroke-width="0.8"/>
<line x1="381.6" y1="546.62" x2="395" y2="546.62" stroke="#3a3a3a" stroke-width="0.8"/>
<rect x="381.6" y="515.68" width="13.4" height="22.75" fill="none" stroke="#3a3a3a" stroke-width="0.8"/>
<line x1="381.6" y1="521.14" x2="395" y2="521.14" stroke="#3a3a3a" stroke-width="0.8"/>
<circle cx="388.3" cy="496.57" r="1.45" fill="#0b3c9c"/>
<circle cx="386.1" cy="516.59" r="1.45" fill="#0b3c9c"/>
<circle cx="388.3" cy="516.59" r="1.45" fill="#0b3c9c"/>
<circle cx="390.5" cy="516.59" r="1.45" fill="#0b3c9c"/>
<circle cx="387" cy="522.05" r="1.45" fill="#0b3c9c"/>
<circle cx="389.6" cy="522.05" r="1.45" fill="#0b3c9c"/>
<circle cx="388.3" cy="532.97" r="1.45" fill="#0b3c9c"/>
<circle cx="388.3" cy="543.89" r="1.45" fill="#0b3c9c"/>
<circle cx="388.3" cy="545.71" r="1.45" fill="#0b3c9c"/>
<line x1="303.9" y1="477" x2="394.9" y2="477" stroke="#808080" stroke-width="1"/>
<text x="345.8" y="476.98" font-size="5.77" fill="#333" text-anchor="middle"><tspan font-size="7.56" dy="1.3">****</tspan><tspan dy="-1.3"> P&lt;0.0001</tspan></text>
<line x1="328.5" y1="484.3" x2="392.4" y2="484.3" stroke="#808080" stroke-width="1"/>
<text x="360.1" y="483.08" font-size="5.77" fill="#333" text-anchor="middle"><tspan font-size="7.56" dy="1.3">***</tspan><tspan dy="-1.3"> P=0.0007</tspan></text>
<line x1="363.8" y1="492.3" x2="393.9" y2="492.3" stroke="#808080" stroke-width="1"/>
<text x="378.5" y="490.88" font-size="5.77" fill="#333" text-anchor="middle"><tspan font-size="7.56" dy="1.3">****</tspan><tspan dy="-1.3"> P&lt;0.0001</tspan></text>
<text transform="translate(310.4,612.8) rotate(-45)" font-size="8" fill="#222" text-anchor="end">Isotype control</text>
<text transform="translate(337,612.8) rotate(-45)" font-size="8" fill="#222" text-anchor="end">anti-PD-L1</text>
<text transform="translate(364.2,612.8) rotate(-45)" font-size="8" fill="#222" text-anchor="end">SOF10(mFc)</text>
<text transform="translate(391.3,612.8) rotate(-45)" font-size="8" fill="#222" text-anchor="end">anti-PD-L1+SOF10(mFc)</text>
<line x1="452.2" y1="498.9" x2="452.2" y2="594.6" stroke="#000" stroke-width="1.2"/>
<line x1="451.6" y1="594" x2="546.9" y2="594" stroke="#000" stroke-width="1.2"/>
<line x1="448.9" y1="594" x2="452.2" y2="594" stroke="#000" stroke-width="1.1"/>
<text x="448.4" y="596.52" font-size="7" font-weight="bold" text-anchor="end">0</text>
<line x1="448.9" y1="575.28" x2="452.2" y2="575.28" stroke="#000" stroke-width="1.1"/>
<text x="448.4" y="577.8" font-size="7" font-weight="bold" text-anchor="end">2×10<tspan font-size="4.6" dy="-2.6">5</tspan></text>
<line x1="448.9" y1="556.56" x2="452.2" y2="556.56" stroke="#000" stroke-width="1.1"/>
<text x="448.4" y="559.08" font-size="7" font-weight="bold" text-anchor="end">4×10<tspan font-size="4.6" dy="-2.6">5</tspan></text>
<line x1="448.9" y1="537.84" x2="452.2" y2="537.84" stroke="#000" stroke-width="1.1"/>
<text x="448.4" y="540.36" font-size="7" font-weight="bold" text-anchor="end">6×10<tspan font-size="4.6" dy="-2.6">5</tspan></text>
<line x1="448.9" y1="519.12" x2="452.2" y2="519.12" stroke="#000" stroke-width="1.1"/>
<text x="448.4" y="521.64" font-size="7" font-weight="bold" text-anchor="end">8×10<tspan font-size="4.6" dy="-2.6">5</tspan></text>
<line x1="448.9" y1="500.4" x2="452.2" y2="500.4" stroke="#000" stroke-width="1.1"/>
<text x="448.4" y="502.92" font-size="7" font-weight="bold" text-anchor="end">1×10<tspan font-size="4.6" dy="-2.6">6</tspan></text>
<line x1="466.8" y1="594" x2="466.8" y2="598.6" stroke="#000" stroke-width="1.1"/>
<line x1="488.5" y1="594" x2="488.5" y2="598.6" stroke="#000" stroke-width="1.1"/>
<line x1="510.2" y1="594" x2="510.2" y2="598.6" stroke="#000" stroke-width="1.1"/>
<line x1="532" y1="594" x2="532" y2="598.6" stroke="#000" stroke-width="1.1"/>
<text transform="translate(469.4,604.6) rotate(-45)" font-size="7" font-weight="bold" text-anchor="end">Vehicle</text>
<text transform="translate(491.1,604.6) rotate(-45)" font-size="7" font-weight="bold" text-anchor="end">anti-PD-L1</text>
<text transform="translate(512.8,604.6) rotate(-45)" font-size="7" font-weight="bold" text-anchor="end">SOF10(mFc)</text>
<text transform="translate(534.6,604.6) rotate(-45)" font-size="7" font-weight="bold" text-anchor="end">anti-PD-L1+SOF10(mFc)</text>
<circle cx="466.8" cy="556.8" r="2.1" fill="#1e1ef5"/>
<circle cx="466.8" cy="563" r="2.1" fill="#1e1ef5"/>
<circle cx="466.8" cy="570.2" r="2.1" fill="#1e1ef5"/>
<circle cx="466.8" cy="574.5" r="2.1" fill="#1e1ef5"/>
<circle cx="466.8" cy="586" r="2.1" fill="#1e1ef5"/>
<line x1="459.2" y1="570.3" x2="474.4" y2="570.3" stroke="#1e1ef5" stroke-width="1.3"/>
<rect x="486.6" y="545.6" width="4.2" height="4.2" fill="#f01414"/>
<rect x="491.7" y="561" width="4.2" height="4.2" fill="#f01414"/>
<rect x="481.1" y="563.8" width="4.2" height="4.2" fill="#f01414"/>
<rect x="486.6" y="573.9" width="4.2" height="4.2" fill="#f01414"/>
<rect x="486.6" y="588" width="4.2" height="4.2" fill="#f01414"/>
<line x1="481.4" y1="565.9" x2="496.2" y2="565.9" stroke="#f01414" stroke-width="1.3"/>
<polygon points="510.2,519.38 507.59,523.85 512.81,523.85" fill="#14c814"/>
<polygon points="510.2,549.59 507.59,554.05 512.81,554.05" fill="#14c814"/>
<polygon points="510.2,562.79 507.59,567.25 512.81,567.25" fill="#14c814"/>
<polygon points="504.9,578.99 502.29,583.45 507.51,583.45" fill="#14c814"/>
<polygon points="515.6,576.59 512.99,581.05 518.21,581.05" fill="#14c814"/>
<line x1="502.6" y1="565.2" x2="518.1" y2="565.2" stroke="#14c814" stroke-width="1.3"/>
<polygon points="532,507.22 529.39,502.75 534.61,502.75" fill="#ad2cf0"/>
<polygon points="532,532.91 529.39,528.45 534.61,528.45" fill="#ad2cf0"/>
<polygon points="526.4,549.41 523.79,544.95 529.01,544.95" fill="#ad2cf0"/>
<polygon points="537.5,552.62 534.89,548.15 540.11,548.15" fill="#ad2cf0"/>
<polygon points="532,560.91 529.39,556.45 534.61,556.45" fill="#ad2cf0"/>
<line x1="524.3" y1="547.4" x2="539.9" y2="547.4" stroke="#ad2cf0" stroke-width="1.3"/>
<text x="496.7" y="484.34" font-size="11.5" text-anchor="middle">CD8T</text>
<line x1="464.7" y1="497.5" x2="533.8" y2="497.5" stroke="#000" stroke-width="1.3"/>
<text x="500.8" y="495.81" font-size="7.8" text-anchor="middle"><tspan font-size="10" dy="1.6">*</tspan><tspan dy="-1.6"> P=0.0451</tspan></text>
<text transform="translate(424.6,550) rotate(-90)" font-size="10.2" text-anchor="middle">Cell number/tumor weight[g]</text>
<line x1="589.4" y1="498.9" x2="589.4" y2="595.2" stroke="#000" stroke-width="1.2"/>
<line x1="588.8" y1="594.6" x2="685.5" y2="594.6" stroke="#000" stroke-width="1.2"/>
<line x1="586.1" y1="594.6" x2="589.4" y2="594.6" stroke="#000" stroke-width="1.1"/>
<text x="585.6" y="597.12" font-size="7" font-weight="bold" text-anchor="end">0</text>
<line x1="586.1" y1="570.9" x2="589.4" y2="570.9" stroke="#000" stroke-width="1.1"/>
<text x="585.6" y="573.42" font-size="7" font-weight="bold" text-anchor="end">2×10<tspan font-size="4.6" dy="-2.6">5</tspan></text>
<line x1="586.1" y1="547.2" x2="589.4" y2="547.2" stroke="#000" stroke-width="1.1"/>
<text x="585.6" y="549.72" font-size="7" font-weight="bold" text-anchor="end">4×10<tspan font-size="4.6" dy="-2.6">5</tspan></text>
<line x1="586.1" y1="523.5" x2="589.4" y2="523.5" stroke="#000" stroke-width="1.1"/>
<text x="585.6" y="526.02" font-size="7" font-weight="bold" text-anchor="end">6×10<tspan font-size="4.6" dy="-2.6">5</tspan></text>
<line x1="586.1" y1="499.8" x2="589.4" y2="499.8" stroke="#000" stroke-width="1.1"/>
<text x="585.6" y="502.32" font-size="7" font-weight="bold" text-anchor="end">8×10<tspan font-size="4.6" dy="-2.6">5</tspan></text>
<line x1="603.6" y1="594.6" x2="603.6" y2="599.2" stroke="#000" stroke-width="1.1"/>
<line x1="625.5" y1="594.6" x2="625.5" y2="599.2" stroke="#000" stroke-width="1.1"/>
<line x1="647.3" y1="594.6" x2="647.3" y2="599.2" stroke="#000" stroke-width="1.1"/>
<line x1="669.2" y1="594.6" x2="669.2" y2="599.2" stroke="#000" stroke-width="1.1"/>
<text transform="translate(606.2,605.2) rotate(-45)" font-size="7" font-weight="bold" text-anchor="end">Vehicle</text>
<text transform="translate(628.1,605.2) rotate(-45)" font-size="7" font-weight="bold" text-anchor="end">anti-PD-L1</text>
<text transform="translate(649.9,605.2) rotate(-45)" font-size="7" font-weight="bold" text-anchor="end">SOF10(mFc)</text>
<text transform="translate(671.8,605.2) rotate(-45)" font-size="7" font-weight="bold" text-anchor="end">anti-PD-L1+SOF10(mFc)</text>
<circle cx="603.6" cy="577.6" r="2.1" fill="#1e1ef5"/>
<circle cx="603.6" cy="584.1" r="2.1" fill="#1e1ef5"/>
<circle cx="603.6" cy="590" r="2.1" fill="#1e1ef5"/>
<circle cx="598.3" cy="591.8" r="2.1" fill="#1e1ef5"/>
<circle cx="609.1" cy="591.8" r="2.1" fill="#1e1ef5"/>
<line x1="597.3" y1="590" x2="611.5" y2="590" stroke="#1e1ef5" stroke-width="1.3"/>
<rect x="623.4" y="556.2" width="4.2" height="4.2" fill="#f01414"/>
<rect x="623.4" y="575.1" width="4.2" height="4.2" fill="#f01414"/>
<rect x="617.9" y="580.1" width="4.2" height="4.2" fill="#f01414"/>
<rect x="628.7" y="581.9" width="4.2" height="4.2" fill="#f01414"/>
<rect x="623.4" y="590.9" width="4.2" height="4.2" fill="#f01414"/>
<line x1="619" y1="582.2" x2="632.4" y2="582.2" stroke="#f01414" stroke-width="1.3"/>
<polygon points="641.6,563.38 638.99,567.85 644.21,567.85" fill="#14c814"/>
<polygon points="653.1,564.59 650.49,569.05 655.71,569.05" fill="#14c814"/>
<polygon points="647.2,577.79 644.59,582.25 649.81,582.25" fill="#14c814"/>
<polygon points="641.6,587.09 638.99,591.55 644.21,591.55" fill="#14c814"/>
<polygon points="653.1,585.69 650.49,590.15 655.71,590.15" fill="#14c814"/>
<line x1="639.7" y1="580.2" x2="655" y2="580.2" stroke="#14c814" stroke-width="1.3"/>
<polygon points="669.2,522.31 666.59,517.85 671.81,517.85" fill="#ad2cf0"/>
<polygon points="669.2,540.21 666.59,535.75 671.81,535.75" fill="#ad2cf0"/>
<polygon points="663.7,564.71 661.09,560.25 666.31,560.25" fill="#ad2cf0"/>
<polygon points="674.8,566.21 672.19,561.75 677.41,561.75" fill="#ad2cf0"/>
<polygon points="669.2,570.81 666.59,566.35 671.81,566.35" fill="#ad2cf0"/>
<line x1="662" y1="562.5" x2="676" y2="562.5" stroke="#ad2cf0" stroke-width="1.3"/>
<text x="634.3" y="484.14" font-size="11.5" text-anchor="middle">GranzymeB+CD8T</text>
<line x1="601.6" y1="498.4" x2="670.6" y2="498.4" stroke="#000" stroke-width="1.3"/>
<text x="638.7" y="496.11" font-size="7.8" text-anchor="middle"><tspan font-size="10" dy="1.6">**</tspan><tspan dy="-1.6"> P=0.0022</tspan></text>
<text transform="translate(562.4,546.9) rotate(-90)" font-size="10.2" text-anchor="middle">Cell number/tumor weight[g]</text>
<rect x="57.3" y="701.6" width="125.2" height="166.2" fill="none" stroke="#c8c8c8" stroke-width="0.8"/>
<line x1="54.3" y1="712.7" x2="57.3" y2="712.7" stroke="#999" stroke-width="0.7"/>
<text x="53.1" y="715.08" font-size="6.6" fill="#444" text-anchor="end">3</text>
<line x1="54.3" y1="734.9" x2="57.3" y2="734.9" stroke="#999" stroke-width="0.7"/>
<text x="53.1" y="737.28" font-size="6.6" fill="#444" text-anchor="end">2</text>
<line x1="54.3" y1="757.1" x2="57.3" y2="757.1" stroke="#999" stroke-width="0.7"/>
<text x="53.1" y="759.48" font-size="6.6" fill="#444" text-anchor="end">1</text>
<line x1="54.3" y1="779.3" x2="57.3" y2="779.3" stroke="#999" stroke-width="0.7"/>
<text x="53.1" y="781.68" font-size="6.6" fill="#444" text-anchor="end">0</text>
<line x1="54.3" y1="801.5" x2="57.3" y2="801.5" stroke="#999" stroke-width="0.7"/>
<text x="53.1" y="803.88" font-size="6.6" fill="#444" text-anchor="end">-1</text>
<line x1="54.3" y1="823.7" x2="57.3" y2="823.7" stroke="#999" stroke-width="0.7"/>
<text x="53.1" y="826.08" font-size="6.6" fill="#444" text-anchor="end">-2</text>
<line x1="54.3" y1="845.9" x2="57.3" y2="845.9" stroke="#999" stroke-width="0.7"/>
<text x="53.1" y="848.28" font-size="6.6" fill="#444" text-anchor="end">-3</text>
<line x1="54.3" y1="868.1" x2="57.3" y2="868.1" stroke="#999" stroke-width="0.7"/>
<text x="53.1" y="870.48" font-size="6.6" fill="#444" text-anchor="end">-4</text>
<text x="115.6" y="692.14" font-size="9" font-weight="bold" text-anchor="middle">ECM Synthesis</text>
<text transform="translate(40.6,784.8) rotate(-90)" font-size="7.35" fill="#222" text-anchor="middle">ECM Synthesis</text>
<line x1="74" y1="728.91" x2="74" y2="728.91" stroke="#3a3a3a" stroke-width="0.8"/>
<line x1="74" y1="749.55" x2="74" y2="750.22" stroke="#3a3a3a" stroke-width="0.8"/>
<line x1="66.4" y1="728.91" x2="81.6" y2="728.91" stroke="#3a3a3a" stroke-width="0.8"/>
<line x1="66.4" y1="750.22" x2="81.6" y2="750.22" stroke="#3a3a3a" stroke-width="0.8"/>
<rect x="66.4" y="728.91" width="15.2" height="20.65" fill="none" stroke="#3a3a3a" stroke-width="0.8"/>
<line x1="66.4" y1="739.12" x2="81.6" y2="739.12" stroke="#3a3a3a" stroke-width="0.8"/>
<circle cx="72.5" cy="729.35" r="1.6" fill="#0a6e0a"/>
<circle cx="75.5" cy="729.35" r="1.6" fill="#0a6e0a"/>
<circle cx="74" cy="735.12" r="1.6" fill="#0a6e0a"/>
<circle cx="74" cy="743.11" r="1.6" fill="#0a6e0a"/>
<circle cx="74" cy="746" r="1.6" fill="#0a6e0a"/>
<circle cx="74" cy="749.77" r="1.6" fill="#0a6e0a"/>
<line x1="105" y1="777.75" x2="105" y2="783.07" stroke="#3a3a3a" stroke-width="0.8"/>
<line x1="105" y1="809.27" x2="105" y2="815.93" stroke="#3a3a3a" stroke-width="0.8"/>
<line x1="97.4" y1="777.75" x2="112.6" y2="777.75" stroke="#3a3a3a" stroke-width="0.8"/>
<line x1="97.4" y1="815.93" x2="112.6" y2="815.93" stroke="#3a3a3a" stroke-width="0.8"/>
<rect x="97.4" y="783.07" width="15.2" height="26.2" fill="none" stroke="#3a3a3a" stroke-width="0.8"/>
<line x1="97.4" y1="796.62" x2="112.6" y2="796.62" stroke="#3a3a3a" stroke-width="0.8"/>
<circle cx="105" cy="777.75" r="1.6" fill="#0a6e0a"/>
<circle cx="105" cy="783.74" r="1.6" fill="#0a6e0a"/>
<circle cx="103.5" cy="796.62" r="1.6" fill="#0a6e0a"/>
<circle cx="106.5" cy="796.62" r="1.6" fill="#0a6e0a"/>
<circle cx="105" cy="807.05" r="1.6" fill="#0a6e0a"/>
<circle cx="105" cy="815.93" r="1.6" fill="#0a6e0a"/>
<line x1="136.1" y1="760.43" x2="136.1" y2="761.32" stroke="#3a3a3a" stroke-width="0.8"/>
<line x1="136.1" y1="784.63" x2="136.1" y2="787.29" stroke="#3a3a3a" stroke-width="0.8"/>
<line x1="128.5" y1="760.43" x2="143.7" y2="760.43" stroke="#3a3a3a" stroke-width="0.8"/>
<line x1="128.5" y1="787.29" x2="143.7" y2="787.29" stroke="#3a3a3a" stroke-width="0.8"/>
<rect x="128.5" y="761.32" width="15.2" height="23.31" fill="none" stroke="#3a3a3a" stroke-width="0.8"/>
<line x1="128.5" y1="767.53" x2="143.7" y2="767.53" stroke="#3a3a3a" stroke-width="0.8"/>
<circle cx="136.1" cy="759.54" r="1.6" fill="#0a6e0a"/>
<circle cx="134.7" cy="762.65" r="1.6" fill="#0a6e0a"/>
<circle cx="137.5" cy="762.65" r="1.6" fill="#0a6e0a"/>
<circle cx="136.1" cy="771.53" r="1.6" fill="#0a6e0a"/>
<circle cx="136.1" cy="783.52" r="1.6" fill="#0a6e0a"/>
<circle cx="136.1" cy="787.29" r="1.6" fill="#0a6e0a"/>
<line x1="167" y1="770.42" x2="167" y2="791.51" stroke="#3a3a3a" stroke-width="0.8"/>
<line x1="167" y1="829.25" x2="167" y2="847.01" stroke="#3a3a3a" stroke-width="0.8"/>
<line x1="159.4" y1="770.42" x2="174.6" y2="770.42" stroke="#3a3a3a" stroke-width="0.8"/>
<line x1="159.4" y1="847.01" x2="174.6" y2="847.01" stroke="#3a3a3a" stroke-width="0.8"/>
<rect x="159.4" y="791.51" width="15.2" height="37.74" fill="none" stroke="#3a3a3a" stroke-width="0.8"/>
<line x1="159.4" y1="811.49" x2="174.6" y2="811.49" stroke="#3a3a3a" stroke-width="0.8"/>
<circle cx="167" cy="770.42" r="1.6" fill="#0a6e0a"/>
<circle cx="167" cy="798.84" r="1.6" fill="#0a6e0a"/>
<circle cx="167" cy="805.94" r="1.6" fill="#0a6e0a"/>
<circle cx="167" cy="815.93" r="1.6" fill="#0a6e0a"/>
<circle cx="167" cy="822.59" r="1.6" fill="#0a6e0a"/>
<circle cx="167" cy="847.01" r="1.6" fill="#0a6e0a"/>
<line x1="74" y1="708.5" x2="167.9" y2="708.5" stroke="#808080" stroke-width="1"/>
<text x="117.2" y="706.64" font-size="5.95" fill="#333" text-anchor="middle"><tspan font-size="7.81" dy="1.3">****</tspan><tspan dy="-1.3"> P&lt;0.0001</tspan></text>
<line x1="74" y1="713.8" x2="132.8" y2="713.8" stroke="#808080" stroke-width="1"/>
<text x="102.7" y="713.54" font-size="5.95" fill="#333" text-anchor="middle"><tspan font-size="7.81" dy="1.3">*</tspan><tspan dy="-1.3"> P=0.0142</tspan></text>
<line x1="138.5" y1="713.8" x2="166" y2="713.8" stroke="#808080" stroke-width="1"/>
<text x="156.4" y="713.54" font-size="5.95" fill="#333" text-anchor="middle"><tspan font-size="7.81" dy="1.3">**</tspan><tspan dy="-1.3"> P=0.0028</tspan></text>
<line x1="75" y1="721.6" x2="104.7" y2="721.6" stroke="#808080" stroke-width="1"/>
<text x="91" y="720.74" font-size="5.95" fill="#333" text-anchor="middle"><tspan font-size="7.81" dy="1.3">****</tspan><tspan dy="-1.3"> P&lt;0.0001</tspan></text>
<text transform="translate(77,872.1) rotate(-45)" font-size="7.9" fill="#222" text-anchor="end">Isotype control</text>
<text transform="translate(108,872.1) rotate(-45)" font-size="7.9" fill="#222" text-anchor="end">anti-PD-L1</text>
<text transform="translate(139.1,872.1) rotate(-45)" font-size="7.9" fill="#222" text-anchor="end">SOF10(mFc)</text>
<text transform="translate(164.3,872.1) rotate(-45)" font-size="7.9" fill="#222" text-anchor="end">anti-PD-L1</text>
<text transform="translate(176.7,872.1) rotate(-45)" font-size="7.9" fill="#222" text-anchor="end">+SOF10(mFc)</text>
<rect x="219.1" y="702.1" width="124.5" height="166.3" fill="none" stroke="#c8c8c8" stroke-width="0.8"/>
<line x1="216.1" y1="702.2" x2="219.1" y2="702.2" stroke="#999" stroke-width="0.7"/>
<text x="214.9" y="704.58" font-size="6.6" fill="#444" text-anchor="end">3</text>
<line x1="216.1" y1="730" x2="219.1" y2="730" stroke="#999" stroke-width="0.7"/>
<text x="214.9" y="732.38" font-size="6.6" fill="#444" text-anchor="end">2</text>
<line x1="216.1" y1="757.8" x2="219.1" y2="757.8" stroke="#999" stroke-width="0.7"/>
<text x="214.9" y="760.18" font-size="6.6" fill="#444" text-anchor="end">1</text>
<line x1="216.1" y1="785.6" x2="219.1" y2="785.6" stroke="#999" stroke-width="0.7"/>
<text x="214.9" y="787.98" font-size="6.6" fill="#444" text-anchor="end">0</text>
<line x1="216.1" y1="813.4" x2="219.1" y2="813.4" stroke="#999" stroke-width="0.7"/>
<text x="214.9" y="815.78" font-size="6.6" fill="#444" text-anchor="end">-1</text>
<line x1="216.1" y1="841.2" x2="219.1" y2="841.2" stroke="#999" stroke-width="0.7"/>
<text x="214.9" y="843.58" font-size="6.6" fill="#444" text-anchor="end">-2</text>
<line x1="216.1" y1="869" x2="219.1" y2="869" stroke="#999" stroke-width="0.7"/>
<text x="214.9" y="871.38" font-size="6.6" fill="#444" text-anchor="end">-3</text>
<text x="279" y="686.94" font-size="9" font-weight="bold" text-anchor="middle">Collagen Biosynthesis</text>
<text x="280.4" y="696.84" font-size="9" font-weight="bold" text-anchor="middle">&amp;Modification</text>
<text transform="translate(202.6,785.6) rotate(-90)" font-size="7.35" fill="#222" text-anchor="middle">Collagen Biosynthesis &amp; Modification</text>
<line x1="234.9" y1="726.66" x2="234.9" y2="728.61" stroke="#3a3a3a" stroke-width="0.8"/>
<line x1="234.9" y1="756.41" x2="234.9" y2="758.63" stroke="#3a3a3a" stroke-width="0.8"/>
<line x1="227.3" y1="726.66" x2="242.5" y2="726.66" stroke="#3a3a3a" stroke-width="0.8"/>
<line x1="227.3" y1="758.63" x2="242.5" y2="758.63" stroke="#3a3a3a" stroke-width="0.8"/>
<rect x="227.3" y="728.61" width="15.2" height="27.8" fill="none" stroke="#3a3a3a" stroke-width="0.8"/>
<line x1="227.3" y1="742.51" x2="242.5" y2="742.51" stroke="#3a3a3a" stroke-width="0.8"/>
<circle cx="234.9" cy="725.83" r="1.6" fill="#0a6e0a"/>
<circle cx="234.9" cy="728.61" r="1.6" fill="#0a6e0a"/>
<circle cx="234.9" cy="738.34" r="1.6" fill="#0a6e0a"/>
<circle cx="234.9" cy="745.29" r="1.6" fill="#0a6e0a"/>
<circle cx="234.9" cy="755.02" r="1.6" fill="#0a6e0a"/>
<circle cx="234.9" cy="758.63" r="1.6" fill="#0a6e0a"/>
<line x1="265.6" y1="786.99" x2="265.6" y2="795.33" stroke="#3a3a3a" stroke-width="0.8"/>
<line x1="265.6" y1="811.18" x2="265.6" y2="812.01" stroke="#3a3a3a" stroke-width="0.8"/>
<line x1="258" y1="786.99" x2="273.2" y2="786.99" stroke="#3a3a3a" stroke-width="0.8"/>
<line x1="258" y1="812.01" x2="273.2" y2="812.01" stroke="#3a3a3a" stroke-width="0.8"/>
<rect x="258" y="795.33" width="15.2" height="15.85" fill="none" stroke="#3a3a3a" stroke-width="0.8"/>
<line x1="258" y1="802.84" x2="273.2" y2="802.84" stroke="#3a3a3a" stroke-width="0.8"/>
<circle cx="265.6" cy="786.99" r="1.6" fill="#0a6e0a"/>
<circle cx="265.6" cy="798.11" r="1.6" fill="#0a6e0a"/>
<circle cx="264.1" cy="802.28" r="1.6" fill="#0a6e0a"/>
<circle cx="267.1" cy="802.28" r="1.6" fill="#0a6e0a"/>
<circle cx="265.6" cy="808.4" r="1.6" fill="#0a6e0a"/>
<circle cx="265.6" cy="812.01" r="1.6" fill="#0a6e0a"/>
<line x1="296.6" y1="766.14" x2="296.6" y2="773.92" stroke="#3a3a3a" stroke-width="0.8"/>
<line x1="296.6" y1="787.55" x2="296.6" y2="800.06" stroke="#3a3a3a" stroke-width="0.8"/>
<line x1="289" y1="766.14" x2="304.2" y2="766.14" stroke="#3a3a3a" stroke-width="0.8"/>
<line x1="289" y1="800.06" x2="304.2" y2="800.06" stroke="#3a3a3a" stroke-width="0.8"/>
<rect x="289" y="773.92" width="15.2" height="13.62" fill="none" stroke="#3a3a3a" stroke-width="0.8"/>
<line x1="289" y1="779.21" x2="304.2" y2="779.21" stroke="#3a3a3a" stroke-width="0.8"/>
<circle cx="296.6" cy="766.14" r="1.6" fill="#0a6e0a"/>
<circle cx="296.6" cy="775.04" r="1.6" fill="#0a6e0a"/>
<circle cx="296.6" cy="777.82" r="1.6" fill="#0a6e0a"/>
<circle cx="295.2" cy="781.43" r="1.6" fill="#0a6e0a"/>
<circle cx="298" cy="781.43" r="1.6" fill="#0a6e0a"/>
<circle cx="296.6" cy="800.06" r="1.6" fill="#0a6e0a"/>
<line x1="327.6" y1="778.65" x2="327.6" y2="797.28" stroke="#3a3a3a" stroke-width="0.8"/>
<line x1="327.6" y1="832.3" x2="327.6" y2="840.37" stroke="#3a3a3a" stroke-width="0.8"/>
<line x1="320" y1="778.65" x2="335.2" y2="778.65" stroke="#3a3a3a" stroke-width="0.8"/>
<line x1="320" y1="840.37" x2="335.2" y2="840.37" stroke="#3a3a3a" stroke-width="0.8"/>
<rect x="320" y="797.28" width="15.2" height="35.03" fill="none" stroke="#3a3a3a" stroke-width="0.8"/>
<line x1="320" y1="825.91" x2="335.2" y2="825.91" stroke="#3a3a3a" stroke-width="0.8"/>
<circle cx="327.6" cy="778.65" r="1.6" fill="#0a6e0a"/>
<circle cx="327.6" cy="803.67" r="1.6" fill="#0a6e0a"/>
<circle cx="327.6" cy="821.74" r="1.6" fill="#0a6e0a"/>
<circle cx="326.1" cy="829.52" r="1.6" fill="#0a6e0a"/>
<circle cx="329.1" cy="829.52" r="1.6" fill="#0a6e0a"/>
<circle cx="327.6" cy="840.37" r="1.6" fill="#0a6e0a"/>
<line x1="234.4" y1="708.4" x2="327.6" y2="708.4" stroke="#808080" stroke-width="1"/>
<text x="279.8" y="706.84" font-size="5.95" fill="#333" text-anchor="middle"><tspan font-size="7.81" dy="1.3">****</tspan><tspan dy="-1.3"> P&lt;0.0001</tspan></text>
<line x1="235.2" y1="713.6" x2="293.5" y2="713.6" stroke="#808080" stroke-width="1"/>
<text x="263.3" y="712.84" font-size="5.95" fill="#333" text-anchor="middle"><tspan font-size="7.81" dy="1.3">**</tspan><tspan dy="-1.3"> P=0.0014</tspan></text>
<line x1="298.7" y1="713.6" x2="332.9" y2="713.6" stroke="#808080" stroke-width="1"/>
<text x="317.1" y="713.44" font-size="5.95" fill="#333" text-anchor="middle"><tspan font-size="7.81" dy="1.3">**</tspan><tspan dy="-1.3"> P=0.0021</tspan></text>
<line x1="235.2" y1="721.5" x2="264.6" y2="721.5" stroke="#808080" stroke-width="1"/>
<text x="254.9" y="720.24" font-size="5.95" fill="#333" text-anchor="middle"><tspan font-size="7.81" dy="1.3">****</tspan><tspan dy="-1.3"> P&lt;0.0001</tspan></text>
<text transform="translate(237.9,872.7) rotate(-45)" font-size="7.9" fill="#222" text-anchor="end">Isotype control</text>
<text transform="translate(268.6,872.7) rotate(-45)" font-size="7.9" fill="#222" text-anchor="end">anti-PD-L1</text>
<text transform="translate(299.6,872.7) rotate(-45)" font-size="7.9" fill="#222" text-anchor="end">SOF10(mFc)</text>
<text transform="translate(324.9,872.7) rotate(-45)" font-size="7.9" fill="#222" text-anchor="end">anti-PD-L1</text>
<text transform="translate(337.3,872.7) rotate(-45)" font-size="7.9" fill="#222" text-anchor="end">+SOF10(mFc)</text>
<rect x="380.7" y="702.1" width="124.2" height="166.3" fill="none" stroke="#c8c8c8" stroke-width="0.8"/>
<line x1="377.7" y1="702.4" x2="380.7" y2="702.4" stroke="#999" stroke-width="0.7"/>
<text x="376.5" y="704.78" font-size="6.6" fill="#444" text-anchor="end">5</text>
<line x1="377.7" y1="717.52" x2="380.7" y2="717.52" stroke="#999" stroke-width="0.7"/>
<text x="376.5" y="719.9" font-size="6.6" fill="#444" text-anchor="end">4</text>
<line x1="377.7" y1="732.64" x2="380.7" y2="732.64" stroke="#999" stroke-width="0.7"/>
<text x="376.5" y="735.02" font-size="6.6" fill="#444" text-anchor="end">3</text>
<line x1="377.7" y1="747.76" x2="380.7" y2="747.76" stroke="#999" stroke-width="0.7"/>
<text x="376.5" y="750.14" font-size="6.6" fill="#444" text-anchor="end">2</text>
<line x1="377.7" y1="762.88" x2="380.7" y2="762.88" stroke="#999" stroke-width="0.7"/>
<text x="376.5" y="765.26" font-size="6.6" fill="#444" text-anchor="end">1</text>
<line x1="377.7" y1="778" x2="380.7" y2="778" stroke="#999" stroke-width="0.7"/>
<text x="376.5" y="780.38" font-size="6.6" fill="#444" text-anchor="end">0</text>
<line x1="377.7" y1="793.12" x2="380.7" y2="793.12" stroke="#999" stroke-width="0.7"/>
<text x="376.5" y="795.5" font-size="6.6" fill="#444" text-anchor="end">-1</text>
<line x1="377.7" y1="808.24" x2="380.7" y2="808.24" stroke="#999" stroke-width="0.7"/>
<text x="376.5" y="810.62" font-size="6.6" fill="#444" text-anchor="end">-2</text>
<line x1="377.7" y1="823.36" x2="380.7" y2="823.36" stroke="#999" stroke-width="0.7"/>
<text x="376.5" y="825.74" font-size="6.6" fill="#444" text-anchor="end">-3</text>
<line x1="377.7" y1="838.48" x2="380.7" y2="838.48" stroke="#999" stroke-width="0.7"/>
<text x="376.5" y="840.86" font-size="6.6" fill="#444" text-anchor="end">-4</text>
<line x1="377.7" y1="853.6" x2="380.7" y2="853.6" stroke="#999" stroke-width="0.7"/>
<text x="376.5" y="855.98" font-size="6.6" fill="#444" text-anchor="end">-5</text>
<line x1="377.7" y1="868.72" x2="380.7" y2="868.72" stroke="#999" stroke-width="0.7"/>
<text x="376.5" y="871.1" font-size="6.6" fill="#444" text-anchor="end">-6</text>
<text x="438.5" y="692.14" font-size="9" font-weight="bold" text-anchor="middle">Type II Interferon</text>
<text transform="translate(363.6,785.6) rotate(-90)" font-size="7.35" fill="#222" text-anchor="middle">Type II Interferon</text>
<line x1="395.4" y1="800.68" x2="395.4" y2="800.68" stroke="#3a3a3a" stroke-width="0.8"/>
<line x1="395.4" y1="838.48" x2="395.4" y2="849.06" stroke="#3a3a3a" stroke-width="0.8"/>
<line x1="387.8" y1="800.68" x2="403" y2="800.68" stroke="#3a3a3a" stroke-width="0.8"/>
<line x1="387.8" y1="849.06" x2="403" y2="849.06" stroke="#3a3a3a" stroke-width="0.8"/>
<rect x="387.8" y="800.68" width="15.2" height="37.8" fill="none" stroke="#3a3a3a" stroke-width="0.8"/>
<line x1="387.8" y1="815.04" x2="403" y2="815.04" stroke="#3a3a3a" stroke-width="0.8"/>
<circle cx="394" cy="800.68" r="1.6" fill="#0a6e0a"/>
<circle cx="396.8" cy="800.68" r="1.6" fill="#0a6e0a"/>
<circle cx="395.4" cy="805.22" r="1.6" fill="#0a6e0a"/>
<circle cx="395.4" cy="824.87" r="1.6" fill="#0a6e0a"/>
<circle cx="395.4" cy="834.7" r="1.6" fill="#0a6e0a"/>
<circle cx="395.4" cy="849.06" r="1.6" fill="#0a6e0a"/>
<line x1="426.7" y1="743.98" x2="426.7" y2="743.98" stroke="#3a3a3a" stroke-width="0.8"/>
<line x1="426.7" y1="778" x2="426.7" y2="786.77" stroke="#3a3a3a" stroke-width="0.8"/>
<line x1="419.1" y1="743.98" x2="434.3" y2="743.98" stroke="#3a3a3a" stroke-width="0.8"/>
<line x1="419.1" y1="786.77" x2="434.3" y2="786.77" stroke="#3a3a3a" stroke-width="0.8"/>
<rect x="419.1" y="743.98" width="15.2" height="34.02" fill="none" stroke="#3a3a3a" stroke-width="0.8"/>
<line x1="419.1" y1="764.69" x2="434.3" y2="764.69" stroke="#3a3a3a" stroke-width="0.8"/>
<circle cx="426.7" cy="742.47" r="1.6" fill="#0a6e0a"/>
<circle cx="426.7" cy="745.49" r="1.6" fill="#0a6e0a"/>
<circle cx="426.7" cy="759.86" r="1.6" fill="#0a6e0a"/>
<circle cx="426.7" cy="769.68" r="1.6" fill="#0a6e0a"/>
<circle cx="426.7" cy="775.28" r="1.6" fill="#0a6e0a"/>
<circle cx="426.7" cy="786.77" r="1.6" fill="#0a6e0a"/>
<line x1="457.7" y1="750.78" x2="457.7" y2="756.83" stroke="#3a3a3a" stroke-width="0.8"/>
<line x1="457.7" y1="801.74" x2="457.7" y2="815.04" stroke="#3a3a3a" stroke-width="0.8"/>
<line x1="450.1" y1="750.78" x2="465.3" y2="750.78" stroke="#3a3a3a" stroke-width="0.8"/>
<line x1="450.1" y1="815.04" x2="465.3" y2="815.04" stroke="#3a3a3a" stroke-width="0.8"/>
<rect x="450.1" y="756.83" width="15.2" height="44.91" fill="none" stroke="#3a3a3a" stroke-width="0.8"/>
<line x1="450.1" y1="776.19" x2="465.3" y2="776.19" stroke="#3a3a3a" stroke-width="0.8"/>
<circle cx="457.7" cy="750.78" r="1.6" fill="#0a6e0a"/>
<circle cx="457.7" cy="759.1" r="1.6" fill="#0a6e0a"/>
<circle cx="457.7" cy="768.17" r="1.6" fill="#0a6e0a"/>
<circle cx="457.7" cy="784.05" r="1.6" fill="#0a6e0a"/>
<circle cx="457.7" cy="797.35" r="1.6" fill="#0a6e0a"/>
<circle cx="457.7" cy="815.04" r="1.6" fill="#0a6e0a"/>
<line x1="488.7" y1="735.66" x2="488.7" y2="737.18" stroke="#3a3a3a" stroke-width="0.8"/>
<line x1="488.7" y1="765.9" x2="488.7" y2="771.2" stroke="#3a3a3a" stroke-width="0.8"/>
<line x1="481.1" y1="735.66" x2="496.3" y2="735.66" stroke="#3a3a3a" stroke-width="0.8"/>
<line x1="481.1" y1="771.2" x2="496.3" y2="771.2" stroke="#3a3a3a" stroke-width="0.8"/>
<rect x="481.1" y="737.18" width="15.2" height="28.73" fill="none" stroke="#3a3a3a" stroke-width="0.8"/>
<line x1="481.1" y1="745.04" x2="496.3" y2="745.04" stroke="#3a3a3a" stroke-width="0.8"/>
<circle cx="487.3" cy="736.42" r="1.6" fill="#0a6e0a"/>
<circle cx="490.1" cy="736.42" r="1.6" fill="#0a6e0a"/>
<circle cx="488.7" cy="742.47" r="1.6" fill="#0a6e0a"/>
<circle cx="488.7" cy="747.76" r="1.6" fill="#0a6e0a"/>
<circle cx="488.7" cy="763.64" r="1.6" fill="#0a6e0a"/>
<circle cx="488.7" cy="771.2" r="1.6" fill="#0a6e0a"/>
<line x1="396.5" y1="708.4" x2="489.8" y2="708.4" stroke="#808080" stroke-width="1"/>
<text x="444.6" y="707.64" font-size="5.95" fill="#333" text-anchor="middle"><tspan font-size="7.81" dy="1.3">****</tspan><tspan dy="-1.3"> P&lt;0.0001</tspan></text>
<line x1="396.5" y1="714.9" x2="458.2" y2="714.9" stroke="#808080" stroke-width="1"/>
<text x="434.1" y="714.14" font-size="5.95" fill="#333" text-anchor="middle"><tspan font-size="7.81" dy="1.3">**</tspan><tspan dy="-1.3">P=0.0089</tspan></text>
<line x1="396.5" y1="722" x2="426.7" y2="722" stroke="#808080" stroke-width="1"/>
<text x="410.9" y="721.04" font-size="5.95" fill="#333" text-anchor="middle"><tspan font-size="7.81" dy="1.3">***</tspan><tspan dy="-1.3"> P=0.0004</tspan></text>
<text transform="translate(398.4,872.7) rotate(-45)" font-size="7.9" fill="#222" text-anchor="end">Isotype control</text>
<text transform="translate(429.7,872.7) rotate(-45)" font-size="7.9" fill="#222" text-anchor="end">anti-PD-L1</text>
<text transform="translate(460.7,872.7) rotate(-45)" font-size="7.9" fill="#222" text-anchor="end">SOF10(mFc)</text>
<text transform="translate(486,872.7) rotate(-45)" font-size="7.9" fill="#222" text-anchor="end">anti-PD-L1</text>
<text transform="translate(498.4,872.7) rotate(-45)" font-size="7.9" fill="#222" text-anchor="end">+SOF10(mFc)</text>
<rect x="543.1" y="701.5" width="118.8" height="165.5" fill="none" stroke="#c8c8c8" stroke-width="0.8"/>
<line x1="540.1" y1="701.8" x2="543.1" y2="701.8" stroke="#999" stroke-width="0.7"/>
<text x="538.9" y="704.18" font-size="6.6" fill="#444" text-anchor="end">2.0</text>
<line x1="540.1" y1="743.2" x2="543.1" y2="743.2" stroke="#999" stroke-width="0.7"/>
<text x="538.9" y="745.58" font-size="6.6" fill="#444" text-anchor="end">1.0</text>
<line x1="540.1" y1="784.6" x2="543.1" y2="784.6" stroke="#999" stroke-width="0.7"/>
<text x="538.9" y="786.98" font-size="6.6" fill="#444" text-anchor="end">0</text>
<line x1="540.1" y1="826" x2="543.1" y2="826" stroke="#999" stroke-width="0.7"/>
<text x="538.9" y="828.38" font-size="6.6" fill="#444" text-anchor="end">-1.0</text>
<line x1="540.1" y1="867.4" x2="543.1" y2="867.4" stroke="#999" stroke-width="0.7"/>
<text x="538.9" y="869.78" font-size="6.6" fill="#444" text-anchor="end">-2.0</text>
<text x="598.3" y="685.84" font-size="9" font-weight="bold" text-anchor="middle">MHC Clas II</text>
<text x="599.1" y="696.84" font-size="9" font-weight="bold" text-anchor="middle">Antigen Presentation</text>
<text transform="translate(519.3,784.3) rotate(-90)" font-size="7.35" fill="#222" text-anchor="middle">MHC Class II Antigen Presentation</text>
<line x1="557" y1="812.34" x2="557" y2="814.41" stroke="#3a3a3a" stroke-width="0.8"/>
<line x1="557" y1="835.52" x2="557" y2="846.7" stroke="#3a3a3a" stroke-width="0.8"/>
<line x1="549.4" y1="812.34" x2="564.6" y2="812.34" stroke="#3a3a3a" stroke-width="0.8"/>
<line x1="549.4" y1="846.7" x2="564.6" y2="846.7" stroke="#3a3a3a" stroke-width="0.8"/>
<rect x="549.4" y="814.41" width="15.2" height="21.11" fill="none" stroke="#3a3a3a" stroke-width="0.8"/>
<line x1="549.4" y1="823.1" x2="564.6" y2="823.1" stroke="#3a3a3a" stroke-width="0.8"/>
<circle cx="557" cy="811.51" r="1.6" fill="#0a6e0a"/>
<circle cx="557" cy="814.41" r="1.6" fill="#0a6e0a"/>
<circle cx="557" cy="820.62" r="1.6" fill="#0a6e0a"/>
<circle cx="557" cy="826" r="1.6" fill="#0a6e0a"/>
<circle cx="557" cy="830.97" r="1.6" fill="#0a6e0a"/>
<circle cx="557" cy="846.7" r="1.6" fill="#0a6e0a"/>
<line x1="586.5" y1="759.76" x2="586.5" y2="759.76" stroke="#3a3a3a" stroke-width="0.8"/>
<line x1="586.5" y1="782.53" x2="586.5" y2="787.08" stroke="#3a3a3a" stroke-width="0.8"/>
<line x1="578.9" y1="759.76" x2="594.1" y2="759.76" stroke="#3a3a3a" stroke-width="0.8"/>
<line x1="578.9" y1="787.08" x2="594.1" y2="787.08" stroke="#3a3a3a" stroke-width="0.8"/>
<rect x="578.9" y="759.76" width="15.2" height="22.77" fill="none" stroke="#3a3a3a" stroke-width="0.8"/>
<line x1="578.9" y1="774.25" x2="594.1" y2="774.25" stroke="#3a3a3a" stroke-width="0.8"/>
<circle cx="585.1" cy="759.76" r="1.6" fill="#0a6e0a"/>
<circle cx="587.9" cy="759.76" r="1.6" fill="#0a6e0a"/>
<circle cx="586.5" cy="770.11" r="1.6" fill="#0a6e0a"/>
<circle cx="586.5" cy="777.56" r="1.6" fill="#0a6e0a"/>
<circle cx="586.5" cy="780.46" r="1.6" fill="#0a6e0a"/>
<circle cx="586.5" cy="787.08" r="1.6" fill="#0a6e0a"/>
<line x1="616.4" y1="761.42" x2="616.4" y2="768.04" stroke="#3a3a3a" stroke-width="0.8"/>
<line x1="616.4" y1="794.95" x2="616.4" y2="813.58" stroke="#3a3a3a" stroke-width="0.8"/>
<line x1="608.8" y1="761.42" x2="624" y2="761.42" stroke="#3a3a3a" stroke-width="0.8"/>
<line x1="608.8" y1="813.58" x2="624" y2="813.58" stroke="#3a3a3a" stroke-width="0.8"/>
<rect x="608.8" y="768.04" width="15.2" height="26.91" fill="none" stroke="#3a3a3a" stroke-width="0.8"/>
<line x1="608.8" y1="776.32" x2="624" y2="776.32" stroke="#3a3a3a" stroke-width="0.8"/>
<circle cx="616.4" cy="761.42" r="1.6" fill="#0a6e0a"/>
<circle cx="615" cy="771.35" r="1.6" fill="#0a6e0a"/>
<circle cx="617.8" cy="771.35" r="1.6" fill="#0a6e0a"/>
<circle cx="616.4" cy="780.46" r="1.6" fill="#0a6e0a"/>
<circle cx="616.4" cy="788.74" r="1.6" fill="#0a6e0a"/>
<circle cx="616.4" cy="813.58" r="1.6" fill="#0a6e0a"/>
<line x1="646.1" y1="740.3" x2="646.1" y2="743.2" stroke="#3a3a3a" stroke-width="0.8"/>
<line x1="646.1" y1="769.28" x2="646.1" y2="770.11" stroke="#3a3a3a" stroke-width="0.8"/>
<line x1="638.5" y1="740.3" x2="653.7" y2="740.3" stroke="#3a3a3a" stroke-width="0.8"/>
<line x1="638.5" y1="770.11" x2="653.7" y2="770.11" stroke="#3a3a3a" stroke-width="0.8"/>
<rect x="638.5" y="743.2" width="15.2" height="26.08" fill="none" stroke="#3a3a3a" stroke-width="0.8"/>
<line x1="638.5" y1="766.8" x2="653.7" y2="766.8" stroke="#3a3a3a" stroke-width="0.8"/>
<circle cx="646.1" cy="741.13" r="1.6" fill="#0a6e0a"/>
<circle cx="646.1" cy="743.2" r="1.6" fill="#0a6e0a"/>
<circle cx="646.1" cy="763.9" r="1.6" fill="#0a6e0a"/>
<circle cx="646.1" cy="767.21" r="1.6" fill="#0a6e0a"/>
<circle cx="646.1" cy="769.7" r="1.6" fill="#0a6e0a"/>
<line x1="554.9" y1="707.6" x2="649" y2="707.6" stroke="#808080" stroke-width="1"/>
<text x="602.2" y="705.74" font-size="5.95" fill="#333" text-anchor="middle"><tspan font-size="7.81" dy="1.3">****</tspan><tspan dy="-1.3"> P&lt;0.0001</tspan></text>
<line x1="554.9" y1="714.1" x2="617.5" y2="714.1" stroke="#808080" stroke-width="1"/>
<text x="595.6" y="712.84" font-size="5.95" fill="#333" text-anchor="middle"><tspan font-size="7.81" dy="1.3">***</tspan><tspan dy="-1.3"> P=0.0001</tspan></text>
<line x1="554.9" y1="721.2" x2="586.4" y2="721.2" stroke="#808080" stroke-width="1"/>
<text x="573.3" y="719.94" font-size="5.95" fill="#333" text-anchor="middle"><tspan font-size="7.81" dy="1.3">****</tspan><tspan dy="-1.3"> P&lt;0.0001</tspan></text>
<text transform="translate(560,871.3) rotate(-45)" font-size="7.9" fill="#222" text-anchor="end">Isotype control</text>
<text transform="translate(589.5,871.3) rotate(-45)" font-size="7.9" fill="#222" text-anchor="end">anti-PD-L1</text>
<text transform="translate(619.4,871.3) rotate(-45)" font-size="7.9" fill="#222" text-anchor="end">SOF10(mFc)</text>
<text transform="translate(643.4,871.3) rotate(-45)" font-size="7.9" fill="#222" text-anchor="end">anti-PD-L1</text>
<text transform="translate(655.8,871.3) rotate(-45)" font-size="7.9" fill="#222" text-anchor="end">+SOF10(mFc)</text>
</svg>
</body></html>
